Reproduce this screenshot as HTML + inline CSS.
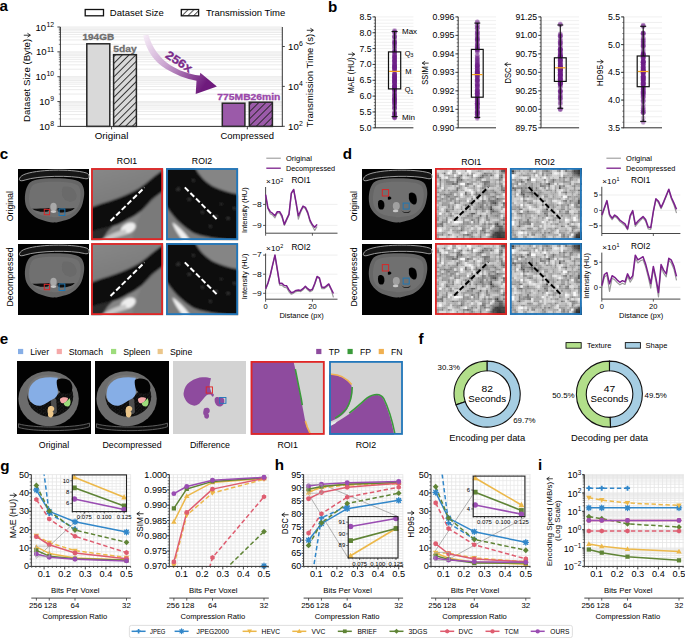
<!DOCTYPE html><html><head><meta charset="utf-8"><style>html,body{margin:0;padding:0;background:#fff;overflow:hidden}svg{display:block}text{font-family:"Liberation Sans",sans-serif}</style></head><body><svg width="685" height="638" viewBox="0 0 685 638" font-family="Liberation Sans, sans-serif"><defs>
<pattern id="hatchG" patternUnits="userSpaceOnUse" width="4.8" height="4.8" patternTransform="rotate(45)"><rect width="4.8" height="4.8" fill="#d9d9d9"/><line x1="0.5" y1="0" x2="0.5" y2="4.8" stroke="#222" stroke-width="0.9"/></pattern>
<pattern id="hatchP" patternUnits="userSpaceOnUse" width="5" height="5" patternTransform="rotate(45)"><rect width="5" height="5" fill="#9b5aa9"/><line x1="0.5" y1="0" x2="0.5" y2="5" stroke="#222" stroke-width="0.9"/></pattern>
<pattern id="hatchW" patternUnits="userSpaceOnUse" width="4.1" height="4.1" patternTransform="rotate(45)"><rect width="4.1" height="4.1" fill="#fff"/><line x1="0.5" y1="0" x2="0.5" y2="4.1" stroke="#222" stroke-width="0.8"/></pattern>
<linearGradient id="arrG" x1="0" y1="0" x2="1" y2="0.55"><stop offset="0" stop-color="#f7eef8"/><stop offset="0.45" stop-color="#c9a3cf"/><stop offset="1" stop-color="#6e1a7c"/></linearGradient>
</defs>
<text x="-0.5" y="11.4" font-size="15.2" font-weight="bold" textLength="8.45" lengthAdjust="spacingAndGlyphs">a</text>
<rect x="85.2" y="9.5" width="18.3" height="6.3" fill="#fff" stroke="#111" stroke-width="1.3"/>
<text x="109.8" y="16.2" font-size="8.6" textLength="54.07" lengthAdjust="spacingAndGlyphs">Dataset Size</text>
<rect x="181.3" y="9.5" width="17.3" height="6.3" fill="url(#hatchW)" stroke="#111" stroke-width="1.3"/>
<text x="205.9" y="16.2" font-size="8.6" textLength="79.34" lengthAdjust="spacingAndGlyphs">Transmission Time</text>
<line x1="60.4" y1="126.4" x2="282.3" y2="126.4" stroke="#e9e9e9" stroke-width="0.9"/>
<line x1="60.4" y1="118.92" x2="282.3" y2="118.92" stroke="#e9e9e9" stroke-width="0.9"/>
<line x1="60.4" y1="114.54" x2="282.3" y2="114.54" stroke="#e9e9e9" stroke-width="0.9"/>
<line x1="60.4" y1="111.44" x2="282.3" y2="111.44" stroke="#e9e9e9" stroke-width="0.9"/>
<line x1="60.4" y1="109.03" x2="282.3" y2="109.03" stroke="#e9e9e9" stroke-width="0.9"/>
<line x1="60.4" y1="107.06" x2="282.3" y2="107.06" stroke="#e9e9e9" stroke-width="0.9"/>
<line x1="60.4" y1="105.4" x2="282.3" y2="105.4" stroke="#e9e9e9" stroke-width="0.9"/>
<line x1="60.4" y1="103.96" x2="282.3" y2="103.96" stroke="#e9e9e9" stroke-width="0.9"/>
<line x1="60.4" y1="102.69" x2="282.3" y2="102.69" stroke="#e9e9e9" stroke-width="0.9"/>
<line x1="60.4" y1="101.55" x2="282.3" y2="101.55" stroke="#e9e9e9" stroke-width="0.9"/>
<line x1="60.4" y1="94.07" x2="282.3" y2="94.07" stroke="#e9e9e9" stroke-width="0.9"/>
<line x1="60.4" y1="89.69" x2="282.3" y2="89.69" stroke="#e9e9e9" stroke-width="0.9"/>
<line x1="60.4" y1="86.59" x2="282.3" y2="86.59" stroke="#e9e9e9" stroke-width="0.9"/>
<line x1="60.4" y1="84.18" x2="282.3" y2="84.18" stroke="#e9e9e9" stroke-width="0.9"/>
<line x1="60.4" y1="82.21" x2="282.3" y2="82.21" stroke="#e9e9e9" stroke-width="0.9"/>
<line x1="60.4" y1="80.55" x2="282.3" y2="80.55" stroke="#e9e9e9" stroke-width="0.9"/>
<line x1="60.4" y1="79.11" x2="282.3" y2="79.11" stroke="#e9e9e9" stroke-width="0.9"/>
<line x1="60.4" y1="77.84" x2="282.3" y2="77.84" stroke="#e9e9e9" stroke-width="0.9"/>
<line x1="60.4" y1="76.7" x2="282.3" y2="76.7" stroke="#e9e9e9" stroke-width="0.9"/>
<line x1="60.4" y1="69.22" x2="282.3" y2="69.22" stroke="#e9e9e9" stroke-width="0.9"/>
<line x1="60.4" y1="64.84" x2="282.3" y2="64.84" stroke="#e9e9e9" stroke-width="0.9"/>
<line x1="60.4" y1="61.74" x2="282.3" y2="61.74" stroke="#e9e9e9" stroke-width="0.9"/>
<line x1="60.4" y1="59.33" x2="282.3" y2="59.33" stroke="#e9e9e9" stroke-width="0.9"/>
<line x1="60.4" y1="57.36" x2="282.3" y2="57.36" stroke="#e9e9e9" stroke-width="0.9"/>
<line x1="60.4" y1="55.7" x2="282.3" y2="55.7" stroke="#e9e9e9" stroke-width="0.9"/>
<line x1="60.4" y1="54.26" x2="282.3" y2="54.26" stroke="#e9e9e9" stroke-width="0.9"/>
<line x1="60.4" y1="52.99" x2="282.3" y2="52.99" stroke="#e9e9e9" stroke-width="0.9"/>
<line x1="60.4" y1="51.85" x2="282.3" y2="51.85" stroke="#e9e9e9" stroke-width="0.9"/>
<line x1="60.4" y1="44.37" x2="282.3" y2="44.37" stroke="#e9e9e9" stroke-width="0.9"/>
<line x1="60.4" y1="39.99" x2="282.3" y2="39.99" stroke="#e9e9e9" stroke-width="0.9"/>
<line x1="60.4" y1="36.89" x2="282.3" y2="36.89" stroke="#e9e9e9" stroke-width="0.9"/>
<line x1="60.4" y1="34.48" x2="282.3" y2="34.48" stroke="#e9e9e9" stroke-width="0.9"/>
<line x1="60.4" y1="32.51" x2="282.3" y2="32.51" stroke="#e9e9e9" stroke-width="0.9"/>
<line x1="60.4" y1="30.85" x2="282.3" y2="30.85" stroke="#e9e9e9" stroke-width="0.9"/>
<line x1="60.4" y1="29.41" x2="282.3" y2="29.41" stroke="#e9e9e9" stroke-width="0.9"/>
<line x1="60.4" y1="28.14" x2="282.3" y2="28.14" stroke="#e9e9e9" stroke-width="0.9"/>
<line x1="60.4" y1="27" x2="282.3" y2="27" stroke="#e9e9e9" stroke-width="0.9"/>
<rect x="86.8" y="43.8" width="23" height="82.6" fill="#d9d9d9" stroke="#262626" stroke-width="1.5"/>
<rect x="113.6" y="54.7" width="22.8" height="71.7" fill="url(#hatchG)" stroke="#262626" stroke-width="1.5"/>
<rect x="222.3" y="103.2" width="22.6" height="23.2" fill="#9b5aa9" stroke="#262626" stroke-width="1.5"/>
<rect x="249.3" y="102.2" width="23.1" height="24.2" fill="url(#hatchP)" stroke="#262626" stroke-width="1.5"/>
<line x1="60.4" y1="27" x2="60.4" y2="126.4" stroke="#333" stroke-width="1"/>
<line x1="282.3" y1="27" x2="282.3" y2="126.4" stroke="#333" stroke-width="1"/>
<line x1="59.9" y1="126.4" x2="282.8" y2="126.4" stroke="#333" stroke-width="1"/>
<line x1="57.4" y1="126.4" x2="60.4" y2="126.4" stroke="#333" stroke-width="0.9"/>
<text x="39.28" y="129.9" font-size="9.6" textLength="10.68" lengthAdjust="spacingAndGlyphs">10</text>
<text x="50.26" y="126.06" font-size="6.9" textLength="3.84" lengthAdjust="spacingAndGlyphs">8</text>
<line x1="58.8" y1="118.92" x2="60.4" y2="118.92" stroke="#333" stroke-width="0.6"/>
<line x1="58.8" y1="114.54" x2="60.4" y2="114.54" stroke="#333" stroke-width="0.6"/>
<line x1="58.8" y1="111.44" x2="60.4" y2="111.44" stroke="#333" stroke-width="0.6"/>
<line x1="58.8" y1="109.03" x2="60.4" y2="109.03" stroke="#333" stroke-width="0.6"/>
<line x1="58.8" y1="107.06" x2="60.4" y2="107.06" stroke="#333" stroke-width="0.6"/>
<line x1="58.8" y1="105.4" x2="60.4" y2="105.4" stroke="#333" stroke-width="0.6"/>
<line x1="58.8" y1="103.96" x2="60.4" y2="103.96" stroke="#333" stroke-width="0.6"/>
<line x1="58.8" y1="102.69" x2="60.4" y2="102.69" stroke="#333" stroke-width="0.6"/>
<line x1="57.4" y1="101.55" x2="60.4" y2="101.55" stroke="#333" stroke-width="0.9"/>
<text x="39.28" y="105.05" font-size="9.6" textLength="10.68" lengthAdjust="spacingAndGlyphs">10</text>
<text x="50.26" y="101.21" font-size="6.9" textLength="3.84" lengthAdjust="spacingAndGlyphs">9</text>
<line x1="58.8" y1="94.07" x2="60.4" y2="94.07" stroke="#333" stroke-width="0.6"/>
<line x1="58.8" y1="89.69" x2="60.4" y2="89.69" stroke="#333" stroke-width="0.6"/>
<line x1="58.8" y1="86.59" x2="60.4" y2="86.59" stroke="#333" stroke-width="0.6"/>
<line x1="58.8" y1="84.18" x2="60.4" y2="84.18" stroke="#333" stroke-width="0.6"/>
<line x1="58.8" y1="82.21" x2="60.4" y2="82.21" stroke="#333" stroke-width="0.6"/>
<line x1="58.8" y1="80.55" x2="60.4" y2="80.55" stroke="#333" stroke-width="0.6"/>
<line x1="58.8" y1="79.11" x2="60.4" y2="79.11" stroke="#333" stroke-width="0.6"/>
<line x1="58.8" y1="77.84" x2="60.4" y2="77.84" stroke="#333" stroke-width="0.6"/>
<line x1="57.4" y1="76.7" x2="60.4" y2="76.7" stroke="#333" stroke-width="0.9"/>
<text x="35.45" y="80.2" font-size="9.6" textLength="10.68" lengthAdjust="spacingAndGlyphs">10</text>
<text x="46.43" y="76.36" font-size="6.9" textLength="7.67" lengthAdjust="spacingAndGlyphs">10</text>
<line x1="58.8" y1="69.22" x2="60.4" y2="69.22" stroke="#333" stroke-width="0.6"/>
<line x1="58.8" y1="64.84" x2="60.4" y2="64.84" stroke="#333" stroke-width="0.6"/>
<line x1="58.8" y1="61.74" x2="60.4" y2="61.74" stroke="#333" stroke-width="0.6"/>
<line x1="58.8" y1="59.33" x2="60.4" y2="59.33" stroke="#333" stroke-width="0.6"/>
<line x1="58.8" y1="57.36" x2="60.4" y2="57.36" stroke="#333" stroke-width="0.6"/>
<line x1="58.8" y1="55.7" x2="60.4" y2="55.7" stroke="#333" stroke-width="0.6"/>
<line x1="58.8" y1="54.26" x2="60.4" y2="54.26" stroke="#333" stroke-width="0.6"/>
<line x1="58.8" y1="52.99" x2="60.4" y2="52.99" stroke="#333" stroke-width="0.6"/>
<line x1="57.4" y1="51.85" x2="60.4" y2="51.85" stroke="#333" stroke-width="0.9"/>
<text x="35.96" y="55.35" font-size="9.6" textLength="10.68" lengthAdjust="spacingAndGlyphs">10</text>
<text x="46.94" y="51.51" font-size="6.9" textLength="7.16" lengthAdjust="spacingAndGlyphs">11</text>
<line x1="58.8" y1="44.37" x2="60.4" y2="44.37" stroke="#333" stroke-width="0.6"/>
<line x1="58.8" y1="39.99" x2="60.4" y2="39.99" stroke="#333" stroke-width="0.6"/>
<line x1="58.8" y1="36.89" x2="60.4" y2="36.89" stroke="#333" stroke-width="0.6"/>
<line x1="58.8" y1="34.48" x2="60.4" y2="34.48" stroke="#333" stroke-width="0.6"/>
<line x1="58.8" y1="32.51" x2="60.4" y2="32.51" stroke="#333" stroke-width="0.6"/>
<line x1="58.8" y1="30.85" x2="60.4" y2="30.85" stroke="#333" stroke-width="0.6"/>
<line x1="58.8" y1="29.41" x2="60.4" y2="29.41" stroke="#333" stroke-width="0.6"/>
<line x1="58.8" y1="28.14" x2="60.4" y2="28.14" stroke="#333" stroke-width="0.6"/>
<line x1="57.4" y1="27" x2="60.4" y2="27" stroke="#333" stroke-width="0.9"/>
<text x="35.45" y="30.5" font-size="9.6" textLength="10.68" lengthAdjust="spacingAndGlyphs">10</text>
<text x="46.43" y="26.66" font-size="6.9" textLength="7.67" lengthAdjust="spacingAndGlyphs">12</text>
<line x1="282.3" y1="126.3" x2="284.8" y2="126.3" stroke="#333" stroke-width="0.9"/>
<text x="288.1" y="129.8" font-size="9.6" textLength="10.68" lengthAdjust="spacingAndGlyphs">10</text>
<text x="299.08" y="125.96" font-size="6.9" textLength="3.84" lengthAdjust="spacingAndGlyphs">2</text>
<line x1="282.3" y1="86.4" x2="284.8" y2="86.4" stroke="#333" stroke-width="0.9"/>
<text x="288.1" y="89.9" font-size="9.6" textLength="10.68" lengthAdjust="spacingAndGlyphs">10</text>
<text x="299.08" y="86.06" font-size="6.9" textLength="3.84" lengthAdjust="spacingAndGlyphs">4</text>
<line x1="282.3" y1="46.5" x2="284.8" y2="46.5" stroke="#333" stroke-width="0.9"/>
<text x="288.1" y="50" font-size="9.6" textLength="10.68" lengthAdjust="spacingAndGlyphs">10</text>
<text x="299.08" y="46.16" font-size="6.9" textLength="3.84" lengthAdjust="spacingAndGlyphs">6</text>
<line x1="111.6" y1="126.4" x2="111.6" y2="129.4" stroke="#333" stroke-width="0.9"/>
<line x1="247.3" y1="126.4" x2="247.3" y2="129.4" stroke="#333" stroke-width="0.9"/>
<text x="94.77" y="139" font-size="8.6" textLength="33.65" lengthAdjust="spacingAndGlyphs">Original</text>
<text x="220.57" y="139" font-size="8.6" textLength="53.45" lengthAdjust="spacingAndGlyphs">Compressed</text>
<g transform="rotate(-90 30.2 76.8)"><text x="-14.98" y="76.8" font-size="8.6" textLength="83.16" lengthAdjust="spacingAndGlyphs">Dataset Size (Byte)</text><path d="M71.78,70.78V76.47 M70.06,74.39L71.78,76.97L73.5,74.39" fill="none" stroke="#000" stroke-width="0.77" stroke-linecap="round" stroke-linejoin="round"/></g>
<g transform="rotate(-90 313.2 76.9)"><text x="262.97" y="76.9" font-size="8.6" textLength="93.26" lengthAdjust="spacingAndGlyphs">Transmission Time (s)</text><path d="M359.83,70.88V76.57 M358.11,74.49L359.83,77.07L361.55,74.49" fill="none" stroke="#000" stroke-width="0.77" stroke-linecap="round" stroke-linejoin="round"/></g>
<text x="82.52" y="40.2" font-size="8.6" font-weight="bold" fill="#6e6e6e" textLength="31.57" lengthAdjust="spacingAndGlyphs" stroke="#6e6e6e" stroke-width="0.3">194GB</text>
<text x="113.36" y="51.9" font-size="8.6" font-weight="bold" fill="#6e6e6e" textLength="23.28" lengthAdjust="spacingAndGlyphs" stroke="#6e6e6e" stroke-width="0.3">5day</text>
<text x="217.37" y="99.5" font-size="8.6" font-weight="bold" fill="#9a48aa" textLength="63.06" lengthAdjust="spacingAndGlyphs" stroke="#9a48aa" stroke-width="0.3">775MB26min</text>
<path d="M143.1,35.6 C146,50 154,62 166,69 C176,75 186,79 196.5,80.8 L195.7,93.9 L216.9,86.6 L200.3,72.8 L199.8,75.6 C188,74 178,70 170,65 C160,58 152,48 148.4,34.8 Z" fill="url(#arrG)"/>
<g transform="rotate(33.4 164.6 57)"><text x="164.6" y="57" font-size="11.9" font-weight="bold" fill="#7a2a8a" textLength="29.24" lengthAdjust="spacingAndGlyphs" stroke="#7a2a8a" stroke-width="0.3">256x</text></g>
<text x="328" y="11.8" font-size="15.2" font-weight="bold" textLength="9.28" lengthAdjust="spacingAndGlyphs">b</text>
<line x1="375.3" y1="127.8" x2="413.4" y2="127.8" stroke="#ececec" stroke-width="0.8"/>
<line x1="375.3" y1="124.63" x2="413.4" y2="124.63" stroke="#ececec" stroke-width="0.8"/>
<line x1="375.3" y1="121.46" x2="413.4" y2="121.46" stroke="#ececec" stroke-width="0.8"/>
<line x1="375.3" y1="118.29" x2="413.4" y2="118.29" stroke="#ececec" stroke-width="0.8"/>
<line x1="375.3" y1="115.13" x2="413.4" y2="115.13" stroke="#ececec" stroke-width="0.8"/>
<line x1="375.3" y1="111.96" x2="413.4" y2="111.96" stroke="#ececec" stroke-width="0.8"/>
<line x1="375.3" y1="108.79" x2="413.4" y2="108.79" stroke="#ececec" stroke-width="0.8"/>
<line x1="375.3" y1="105.62" x2="413.4" y2="105.62" stroke="#ececec" stroke-width="0.8"/>
<line x1="375.3" y1="102.45" x2="413.4" y2="102.45" stroke="#ececec" stroke-width="0.8"/>
<line x1="375.3" y1="99.28" x2="413.4" y2="99.28" stroke="#ececec" stroke-width="0.8"/>
<line x1="375.3" y1="96.11" x2="413.4" y2="96.11" stroke="#ececec" stroke-width="0.8"/>
<line x1="375.3" y1="92.95" x2="413.4" y2="92.95" stroke="#ececec" stroke-width="0.8"/>
<line x1="375.3" y1="89.78" x2="413.4" y2="89.78" stroke="#ececec" stroke-width="0.8"/>
<line x1="375.3" y1="86.61" x2="413.4" y2="86.61" stroke="#ececec" stroke-width="0.8"/>
<line x1="375.3" y1="83.44" x2="413.4" y2="83.44" stroke="#ececec" stroke-width="0.8"/>
<line x1="375.3" y1="80.27" x2="413.4" y2="80.27" stroke="#ececec" stroke-width="0.8"/>
<line x1="375.3" y1="77.1" x2="413.4" y2="77.1" stroke="#ececec" stroke-width="0.8"/>
<line x1="375.3" y1="73.93" x2="413.4" y2="73.93" stroke="#ececec" stroke-width="0.8"/>
<line x1="375.3" y1="70.77" x2="413.4" y2="70.77" stroke="#ececec" stroke-width="0.8"/>
<line x1="375.3" y1="67.6" x2="413.4" y2="67.6" stroke="#ececec" stroke-width="0.8"/>
<line x1="375.3" y1="64.43" x2="413.4" y2="64.43" stroke="#ececec" stroke-width="0.8"/>
<line x1="375.3" y1="61.26" x2="413.4" y2="61.26" stroke="#ececec" stroke-width="0.8"/>
<line x1="375.3" y1="58.09" x2="413.4" y2="58.09" stroke="#ececec" stroke-width="0.8"/>
<line x1="375.3" y1="54.92" x2="413.4" y2="54.92" stroke="#ececec" stroke-width="0.8"/>
<line x1="375.3" y1="51.75" x2="413.4" y2="51.75" stroke="#ececec" stroke-width="0.8"/>
<line x1="375.3" y1="48.59" x2="413.4" y2="48.59" stroke="#ececec" stroke-width="0.8"/>
<line x1="375.3" y1="45.42" x2="413.4" y2="45.42" stroke="#ececec" stroke-width="0.8"/>
<line x1="375.3" y1="42.25" x2="413.4" y2="42.25" stroke="#ececec" stroke-width="0.8"/>
<line x1="375.3" y1="39.08" x2="413.4" y2="39.08" stroke="#ececec" stroke-width="0.8"/>
<line x1="375.3" y1="35.91" x2="413.4" y2="35.91" stroke="#ececec" stroke-width="0.8"/>
<line x1="375.3" y1="32.74" x2="413.4" y2="32.74" stroke="#ececec" stroke-width="0.8"/>
<line x1="375.3" y1="29.57" x2="413.4" y2="29.57" stroke="#ececec" stroke-width="0.8"/>
<line x1="375.3" y1="26.41" x2="413.4" y2="26.41" stroke="#ececec" stroke-width="0.8"/>
<line x1="375.3" y1="23.24" x2="413.4" y2="23.24" stroke="#ececec" stroke-width="0.8"/>
<line x1="375.3" y1="20.07" x2="413.4" y2="20.07" stroke="#ececec" stroke-width="0.8"/>
<line x1="375.3" y1="16.9" x2="413.4" y2="16.9" stroke="#ececec" stroke-width="0.8"/>
<line x1="375.3" y1="16.9" x2="375.3" y2="127.8" stroke="#333" stroke-width="1"/>
<line x1="374.8" y1="127.8" x2="413.4" y2="127.8" stroke="#333" stroke-width="1"/>
<line x1="373.8" y1="127.8" x2="375.3" y2="127.8" stroke="#333" stroke-width="0.6"/>
<line x1="373.8" y1="124.63" x2="375.3" y2="124.63" stroke="#333" stroke-width="0.6"/>
<line x1="373.8" y1="121.46" x2="375.3" y2="121.46" stroke="#333" stroke-width="0.6"/>
<line x1="373.8" y1="118.29" x2="375.3" y2="118.29" stroke="#333" stroke-width="0.6"/>
<line x1="373.8" y1="115.13" x2="375.3" y2="115.13" stroke="#333" stroke-width="0.6"/>
<line x1="373.8" y1="111.96" x2="375.3" y2="111.96" stroke="#333" stroke-width="0.6"/>
<line x1="373.8" y1="108.79" x2="375.3" y2="108.79" stroke="#333" stroke-width="0.6"/>
<line x1="373.8" y1="105.62" x2="375.3" y2="105.62" stroke="#333" stroke-width="0.6"/>
<line x1="373.8" y1="102.45" x2="375.3" y2="102.45" stroke="#333" stroke-width="0.6"/>
<line x1="373.8" y1="99.28" x2="375.3" y2="99.28" stroke="#333" stroke-width="0.6"/>
<line x1="373.8" y1="96.11" x2="375.3" y2="96.11" stroke="#333" stroke-width="0.6"/>
<line x1="373.8" y1="92.95" x2="375.3" y2="92.95" stroke="#333" stroke-width="0.6"/>
<line x1="373.8" y1="89.78" x2="375.3" y2="89.78" stroke="#333" stroke-width="0.6"/>
<line x1="373.8" y1="86.61" x2="375.3" y2="86.61" stroke="#333" stroke-width="0.6"/>
<line x1="373.8" y1="83.44" x2="375.3" y2="83.44" stroke="#333" stroke-width="0.6"/>
<line x1="373.8" y1="80.27" x2="375.3" y2="80.27" stroke="#333" stroke-width="0.6"/>
<line x1="373.8" y1="77.1" x2="375.3" y2="77.1" stroke="#333" stroke-width="0.6"/>
<line x1="373.8" y1="73.93" x2="375.3" y2="73.93" stroke="#333" stroke-width="0.6"/>
<line x1="373.8" y1="70.77" x2="375.3" y2="70.77" stroke="#333" stroke-width="0.6"/>
<line x1="373.8" y1="67.6" x2="375.3" y2="67.6" stroke="#333" stroke-width="0.6"/>
<line x1="373.8" y1="64.43" x2="375.3" y2="64.43" stroke="#333" stroke-width="0.6"/>
<line x1="373.8" y1="61.26" x2="375.3" y2="61.26" stroke="#333" stroke-width="0.6"/>
<line x1="373.8" y1="58.09" x2="375.3" y2="58.09" stroke="#333" stroke-width="0.6"/>
<line x1="373.8" y1="54.92" x2="375.3" y2="54.92" stroke="#333" stroke-width="0.6"/>
<line x1="373.8" y1="51.75" x2="375.3" y2="51.75" stroke="#333" stroke-width="0.6"/>
<line x1="373.8" y1="48.59" x2="375.3" y2="48.59" stroke="#333" stroke-width="0.6"/>
<line x1="373.8" y1="45.42" x2="375.3" y2="45.42" stroke="#333" stroke-width="0.6"/>
<line x1="373.8" y1="42.25" x2="375.3" y2="42.25" stroke="#333" stroke-width="0.6"/>
<line x1="373.8" y1="39.08" x2="375.3" y2="39.08" stroke="#333" stroke-width="0.6"/>
<line x1="373.8" y1="35.91" x2="375.3" y2="35.91" stroke="#333" stroke-width="0.6"/>
<line x1="373.8" y1="32.74" x2="375.3" y2="32.74" stroke="#333" stroke-width="0.6"/>
<line x1="373.8" y1="29.57" x2="375.3" y2="29.57" stroke="#333" stroke-width="0.6"/>
<line x1="373.8" y1="26.41" x2="375.3" y2="26.41" stroke="#333" stroke-width="0.6"/>
<line x1="373.8" y1="23.24" x2="375.3" y2="23.24" stroke="#333" stroke-width="0.6"/>
<line x1="373.8" y1="20.07" x2="375.3" y2="20.07" stroke="#333" stroke-width="0.6"/>
<line x1="373.8" y1="16.9" x2="375.3" y2="16.9" stroke="#333" stroke-width="0.6"/>
<line x1="372.5" y1="127.8" x2="375.3" y2="127.8" stroke="#333" stroke-width="0.9"/>
<text x="359.41" y="130.85" font-size="8.5" textLength="12.09" lengthAdjust="spacingAndGlyphs">5.0</text>
<line x1="372.5" y1="111.96" x2="375.3" y2="111.96" stroke="#333" stroke-width="0.9"/>
<text x="359.41" y="115.01" font-size="8.5" textLength="12.09" lengthAdjust="spacingAndGlyphs">5.5</text>
<line x1="372.5" y1="96.11" x2="375.3" y2="96.11" stroke="#333" stroke-width="0.9"/>
<text x="359.41" y="99.16" font-size="8.5" textLength="12.09" lengthAdjust="spacingAndGlyphs">6.0</text>
<line x1="372.5" y1="80.27" x2="375.3" y2="80.27" stroke="#333" stroke-width="0.9"/>
<text x="359.41" y="83.32" font-size="8.5" textLength="12.09" lengthAdjust="spacingAndGlyphs">6.5</text>
<line x1="372.5" y1="64.43" x2="375.3" y2="64.43" stroke="#333" stroke-width="0.9"/>
<text x="359.41" y="67.48" font-size="8.5" textLength="12.09" lengthAdjust="spacingAndGlyphs">7.0</text>
<line x1="372.5" y1="48.59" x2="375.3" y2="48.59" stroke="#333" stroke-width="0.9"/>
<text x="359.41" y="51.64" font-size="8.5" textLength="12.09" lengthAdjust="spacingAndGlyphs">7.5</text>
<line x1="372.5" y1="32.74" x2="375.3" y2="32.74" stroke="#333" stroke-width="0.9"/>
<text x="359.41" y="35.79" font-size="8.5" textLength="12.09" lengthAdjust="spacingAndGlyphs">8.0</text>
<line x1="372.5" y1="16.9" x2="375.3" y2="16.9" stroke="#333" stroke-width="0.9"/>
<text x="359.41" y="19.95" font-size="8.5" textLength="12.09" lengthAdjust="spacingAndGlyphs">8.5</text>
<g fill="#6e1f88" fill-opacity="0.3"><circle cx="394.6" cy="62.83" r="2.4"/><circle cx="394.6" cy="85.54" r="2.4"/><circle cx="394.6" cy="63.71" r="2.4"/><circle cx="394.6" cy="61.07" r="2.4"/><circle cx="394.6" cy="42.87" r="2.4"/><circle cx="394.6" cy="64.09" r="2.4"/><circle cx="394.6" cy="103.31" r="2.4"/><circle cx="394.6" cy="82.95" r="2.4"/><circle cx="394.6" cy="101.09" r="2.4"/><circle cx="394.6" cy="77.77" r="2.4"/><circle cx="394.6" cy="82.09" r="2.4"/><circle cx="394.6" cy="75.89" r="2.4"/><circle cx="394.6" cy="95.72" r="2.4"/><circle cx="394.6" cy="85.39" r="2.4"/><circle cx="394.6" cy="85.17" r="2.4"/><circle cx="394.6" cy="44.07" r="2.4"/><circle cx="394.6" cy="56.54" r="2.4"/><circle cx="394.6" cy="79.44" r="2.4"/><circle cx="394.6" cy="69.04" r="2.4"/><circle cx="394.6" cy="85.82" r="2.4"/><circle cx="394.6" cy="51.39" r="2.4"/><circle cx="394.6" cy="79.54" r="2.4"/><circle cx="394.6" cy="82.07" r="2.4"/><circle cx="394.6" cy="50.83" r="2.4"/><circle cx="394.6" cy="86.88" r="2.4"/><circle cx="394.6" cy="105.83" r="2.4"/><circle cx="394.6" cy="52.04" r="2.4"/><circle cx="394.6" cy="48.51" r="2.4"/><circle cx="394.6" cy="60.22" r="2.4"/><circle cx="394.6" cy="67.25" r="2.4"/><circle cx="394.6" cy="89.11" r="2.4"/><circle cx="394.6" cy="77.75" r="2.4"/><circle cx="394.6" cy="57.16" r="2.4"/><circle cx="394.6" cy="42.08" r="2.4"/><circle cx="394.6" cy="54.99" r="2.4"/><circle cx="394.6" cy="106.54" r="2.4"/><circle cx="394.6" cy="46.48" r="2.4"/><circle cx="394.6" cy="77.64" r="2.4"/><circle cx="394.6" cy="83.02" r="2.4"/><circle cx="394.6" cy="71.83" r="2.4"/><circle cx="394.6" cy="109.06" r="2.4"/><circle cx="394.6" cy="60.88" r="2.4"/><circle cx="394.6" cy="67.26" r="2.4"/><circle cx="394.6" cy="46.21" r="2.4"/><circle cx="394.6" cy="85.12" r="2.4"/><circle cx="394.6" cy="68.56" r="2.4"/><circle cx="394.6" cy="94.9" r="2.4"/><circle cx="394.6" cy="90.21" r="2.4"/><circle cx="394.6" cy="98.4" r="2.4"/><circle cx="394.6" cy="113.04" r="2.4"/><circle cx="394.6" cy="81.12" r="2.4"/><circle cx="394.6" cy="73.93" r="2.4"/><circle cx="394.6" cy="31.94" r="2.4"/><circle cx="394.6" cy="88.62" r="2.4"/><circle cx="394.6" cy="52.29" r="2.4"/><circle cx="394.6" cy="57" r="2.4"/><circle cx="394.6" cy="32.96" r="2.4"/><circle cx="394.6" cy="41.76" r="2.4"/><circle cx="394.6" cy="54.68" r="2.4"/><circle cx="394.6" cy="108.55" r="2.4"/><circle cx="394.6" cy="77.48" r="2.4"/><circle cx="394.6" cy="113.12" r="2.4"/><circle cx="394.6" cy="87.52" r="2.4"/><circle cx="394.6" cy="80.98" r="2.4"/><circle cx="394.6" cy="48.61" r="2.4"/><circle cx="394.6" cy="37.25" r="2.4"/><circle cx="394.6" cy="99.33" r="2.4"/><circle cx="394.6" cy="103.01" r="2.4"/><circle cx="394.6" cy="75.05" r="2.4"/><circle cx="394.6" cy="77.67" r="2.4"/><circle cx="394.6" cy="83.26" r="2.4"/><circle cx="394.6" cy="117.58" r="2.4"/><circle cx="394.6" cy="88.72" r="2.4"/><circle cx="394.6" cy="85.75" r="2.4"/><circle cx="394.6" cy="86.61" r="2.4"/><circle cx="394.6" cy="108.34" r="2.4"/><circle cx="394.6" cy="98.67" r="2.4"/><circle cx="394.6" cy="86.08" r="2.4"/><circle cx="394.6" cy="51.64" r="2.4"/><circle cx="394.6" cy="95.33" r="2.4"/><circle cx="394.6" cy="64.95" r="2.4"/><circle cx="394.6" cy="100.58" r="2.4"/><circle cx="394.6" cy="31.59" r="2.4"/><circle cx="394.6" cy="118.06" r="2.4"/><circle cx="394.6" cy="86.74" r="2.4"/><circle cx="394.6" cy="65.96" r="2.4"/><circle cx="394.6" cy="80.02" r="2.4"/><circle cx="394.6" cy="89.63" r="2.4"/><circle cx="394.6" cy="73.96" r="2.4"/><circle cx="394.6" cy="104.31" r="2.4"/><circle cx="394.6" cy="50.82" r="2.4"/><circle cx="394.6" cy="58.12" r="2.4"/><circle cx="394.6" cy="101.23" r="2.4"/><circle cx="394.6" cy="71.19" r="2.4"/><circle cx="394.6" cy="44.34" r="2.4"/><circle cx="394.6" cy="98.42" r="2.4"/><circle cx="394.6" cy="113.78" r="2.4"/><circle cx="394.6" cy="57.23" r="2.4"/><circle cx="394.6" cy="66.41" r="2.4"/><circle cx="394.6" cy="65.99" r="2.4"/><circle cx="394.6" cy="61.58" r="2.4"/><circle cx="394.6" cy="111.98" r="2.4"/><circle cx="394.6" cy="40" r="2.4"/><circle cx="394.6" cy="107.71" r="2.4"/><circle cx="394.6" cy="32.86" r="2.4"/><circle cx="394.6" cy="47.1" r="2.4"/><circle cx="394.6" cy="89.09" r="2.4"/><circle cx="394.6" cy="103.81" r="2.4"/><circle cx="394.6" cy="95.83" r="2.4"/><circle cx="394.6" cy="80.62" r="2.4"/><circle cx="394.6" cy="74.61" r="2.4"/><circle cx="394.6" cy="74.91" r="2.4"/><circle cx="394.6" cy="87.43" r="2.4"/><circle cx="394.6" cy="65.18" r="2.4"/><circle cx="394.6" cy="78.61" r="2.4"/><circle cx="394.6" cy="87.35" r="2.4"/><circle cx="394.6" cy="70.42" r="2.4"/><circle cx="394.6" cy="93.01" r="2.4"/><circle cx="394.6" cy="87.15" r="2.4"/><circle cx="394.6" cy="80.02" r="2.4"/><circle cx="394.6" cy="57.74" r="2.4"/><circle cx="394.6" cy="59.37" r="2.4"/><circle cx="394.6" cy="70.01" r="2.4"/><circle cx="394.6" cy="97.74" r="2.4"/><circle cx="394.6" cy="60.44" r="2.4"/><circle cx="394.6" cy="81.82" r="2.4"/><circle cx="394.6" cy="37.13" r="2.4"/><circle cx="394.6" cy="77.62" r="2.4"/><circle cx="394.6" cy="82.19" r="2.4"/><circle cx="394.6" cy="77.46" r="2.4"/><circle cx="394.6" cy="57.64" r="2.4"/><circle cx="394.6" cy="89.79" r="2.4"/><circle cx="394.6" cy="78.75" r="2.4"/><circle cx="394.6" cy="54.95" r="2.4"/><circle cx="394.6" cy="80.91" r="2.4"/><circle cx="394.6" cy="53.99" r="2.4"/><circle cx="394.6" cy="67.46" r="2.4"/><circle cx="394.6" cy="63.72" r="2.4"/><circle cx="394.6" cy="68.54" r="2.4"/><circle cx="394.6" cy="55.99" r="2.4"/><circle cx="394.6" cy="100.25" r="2.4"/><circle cx="394.6" cy="35.81" r="2.4"/><circle cx="394.6" cy="68.43" r="2.4"/><circle cx="394.6" cy="98.62" r="2.4"/><circle cx="394.6" cy="95.74" r="2.4"/><circle cx="394.6" cy="114.54" r="2.4"/><circle cx="394.6" cy="59.94" r="2.4"/><circle cx="394.6" cy="60.31" r="2.4"/><circle cx="394.6" cy="88.85" r="2.4"/><circle cx="394.6" cy="102.72" r="2.4"/><circle cx="394.6" cy="102.62" r="2.4"/><circle cx="394.6" cy="90.62" r="2.4"/><circle cx="394.6" cy="75.61" r="2.4"/><circle cx="394.6" cy="105.76" r="2.4"/><circle cx="394.6" cy="65.98" r="2.4"/><circle cx="394.6" cy="76.06" r="2.4"/><circle cx="394.6" cy="93.99" r="2.4"/><circle cx="394.6" cy="74.58" r="2.4"/><circle cx="394.6" cy="67.78" r="2.4"/><circle cx="394.6" cy="115.78" r="2.4"/><circle cx="394.6" cy="101.43" r="2.4"/><circle cx="394.6" cy="61.7" r="2.4"/><circle cx="394.6" cy="36.45" r="2.4"/><circle cx="394.6" cy="97.47" r="2.4"/><circle cx="394.6" cy="62.53" r="2.4"/><circle cx="394.6" cy="74.32" r="2.4"/><circle cx="394.6" cy="91.27" r="2.4"/><circle cx="394.6" cy="76.98" r="2.4"/><circle cx="394.6" cy="89.3" r="2.4"/><circle cx="394.6" cy="88.6" r="2.4"/><circle cx="394.6" cy="41.89" r="2.4"/><circle cx="394.6" cy="40.01" r="2.4"/><circle cx="394.6" cy="107.88" r="2.4"/><circle cx="394.6" cy="92.5" r="2.4"/><circle cx="394.6" cy="114" r="2.4"/><circle cx="394.6" cy="42.64" r="2.4"/><circle cx="394.6" cy="70.43" r="2.4"/><circle cx="394.6" cy="36.65" r="2.4"/><circle cx="394.6" cy="93.07" r="2.4"/><circle cx="394.6" cy="117.45" r="2.4"/><circle cx="394.6" cy="44.05" r="2.4"/><circle cx="394.6" cy="116.59" r="2.4"/><circle cx="394.6" cy="99.65" r="2.4"/><circle cx="394.6" cy="65.14" r="2.4"/><circle cx="394.6" cy="112.04" r="2.4"/><circle cx="394.6" cy="67.55" r="2.4"/><circle cx="394.6" cy="52.56" r="2.4"/><circle cx="394.6" cy="82.23" r="2.4"/><circle cx="394.6" cy="82.53" r="2.4"/><circle cx="394.6" cy="114.74" r="2.4"/><circle cx="394.6" cy="30.3" r="2.4"/><circle cx="394.6" cy="31.5" r="2.4"/><circle cx="394.6" cy="116.6" r="2.4"/><circle cx="394.6" cy="117.8" r="2.4"/></g>
<line x1="394.6" y1="31.5" x2="394.6" y2="51.9" stroke="#111" stroke-width="1.1"/>
<line x1="394.6" y1="88.9" x2="394.6" y2="116.6" stroke="#111" stroke-width="1.1"/>
<line x1="391.55" y1="31.5" x2="397.65" y2="31.5" stroke="#111" stroke-width="1.1"/>
<line x1="391.55" y1="116.6" x2="397.65" y2="116.6" stroke="#111" stroke-width="1.1"/>
<rect x="388.5" y="51.9" width="12.2" height="37" fill="none" stroke="#111" stroke-width="1.2"/>
<line x1="389.1" y1="71.4" x2="400.1" y2="71.4" stroke="#f5a21b" stroke-width="1.2"/>
<g transform="rotate(-90 354.5 72.35)"><text x="333.23" y="72.35" font-size="8.4" textLength="36.18" lengthAdjust="spacingAndGlyphs">MAE (HU)</text><path d="M372.59,66.47V72.02 M370.91,70L372.59,72.52L374.27,70" fill="none" stroke="#000" stroke-width="0.76" stroke-linecap="round" stroke-linejoin="round"/></g>
<line x1="458.2" y1="127.8" x2="496" y2="127.8" stroke="#ececec" stroke-width="0.8"/>
<line x1="458.2" y1="124.1" x2="496" y2="124.1" stroke="#ececec" stroke-width="0.8"/>
<line x1="458.2" y1="120.41" x2="496" y2="120.41" stroke="#ececec" stroke-width="0.8"/>
<line x1="458.2" y1="116.71" x2="496" y2="116.71" stroke="#ececec" stroke-width="0.8"/>
<line x1="458.2" y1="113.01" x2="496" y2="113.01" stroke="#ececec" stroke-width="0.8"/>
<line x1="458.2" y1="109.32" x2="496" y2="109.32" stroke="#ececec" stroke-width="0.8"/>
<line x1="458.2" y1="105.62" x2="496" y2="105.62" stroke="#ececec" stroke-width="0.8"/>
<line x1="458.2" y1="101.92" x2="496" y2="101.92" stroke="#ececec" stroke-width="0.8"/>
<line x1="458.2" y1="98.23" x2="496" y2="98.23" stroke="#ececec" stroke-width="0.8"/>
<line x1="458.2" y1="94.53" x2="496" y2="94.53" stroke="#ececec" stroke-width="0.8"/>
<line x1="458.2" y1="90.83" x2="496" y2="90.83" stroke="#ececec" stroke-width="0.8"/>
<line x1="458.2" y1="87.14" x2="496" y2="87.14" stroke="#ececec" stroke-width="0.8"/>
<line x1="458.2" y1="83.44" x2="496" y2="83.44" stroke="#ececec" stroke-width="0.8"/>
<line x1="458.2" y1="79.74" x2="496" y2="79.74" stroke="#ececec" stroke-width="0.8"/>
<line x1="458.2" y1="76.05" x2="496" y2="76.05" stroke="#ececec" stroke-width="0.8"/>
<line x1="458.2" y1="72.35" x2="496" y2="72.35" stroke="#ececec" stroke-width="0.8"/>
<line x1="458.2" y1="68.65" x2="496" y2="68.65" stroke="#ececec" stroke-width="0.8"/>
<line x1="458.2" y1="64.96" x2="496" y2="64.96" stroke="#ececec" stroke-width="0.8"/>
<line x1="458.2" y1="61.26" x2="496" y2="61.26" stroke="#ececec" stroke-width="0.8"/>
<line x1="458.2" y1="57.56" x2="496" y2="57.56" stroke="#ececec" stroke-width="0.8"/>
<line x1="458.2" y1="53.87" x2="496" y2="53.87" stroke="#ececec" stroke-width="0.8"/>
<line x1="458.2" y1="50.17" x2="496" y2="50.17" stroke="#ececec" stroke-width="0.8"/>
<line x1="458.2" y1="46.47" x2="496" y2="46.47" stroke="#ececec" stroke-width="0.8"/>
<line x1="458.2" y1="42.78" x2="496" y2="42.78" stroke="#ececec" stroke-width="0.8"/>
<line x1="458.2" y1="39.08" x2="496" y2="39.08" stroke="#ececec" stroke-width="0.8"/>
<line x1="458.2" y1="35.38" x2="496" y2="35.38" stroke="#ececec" stroke-width="0.8"/>
<line x1="458.2" y1="31.69" x2="496" y2="31.69" stroke="#ececec" stroke-width="0.8"/>
<line x1="458.2" y1="27.99" x2="496" y2="27.99" stroke="#ececec" stroke-width="0.8"/>
<line x1="458.2" y1="24.29" x2="496" y2="24.29" stroke="#ececec" stroke-width="0.8"/>
<line x1="458.2" y1="20.6" x2="496" y2="20.6" stroke="#ececec" stroke-width="0.8"/>
<line x1="458.2" y1="16.9" x2="496" y2="16.9" stroke="#ececec" stroke-width="0.8"/>
<line x1="458.2" y1="16.9" x2="458.2" y2="127.8" stroke="#333" stroke-width="1"/>
<line x1="457.7" y1="127.8" x2="496" y2="127.8" stroke="#333" stroke-width="1"/>
<line x1="456.7" y1="127.8" x2="458.2" y2="127.8" stroke="#333" stroke-width="0.6"/>
<line x1="456.7" y1="124.1" x2="458.2" y2="124.1" stroke="#333" stroke-width="0.6"/>
<line x1="456.7" y1="120.41" x2="458.2" y2="120.41" stroke="#333" stroke-width="0.6"/>
<line x1="456.7" y1="116.71" x2="458.2" y2="116.71" stroke="#333" stroke-width="0.6"/>
<line x1="456.7" y1="113.01" x2="458.2" y2="113.01" stroke="#333" stroke-width="0.6"/>
<line x1="456.7" y1="109.32" x2="458.2" y2="109.32" stroke="#333" stroke-width="0.6"/>
<line x1="456.7" y1="105.62" x2="458.2" y2="105.62" stroke="#333" stroke-width="0.6"/>
<line x1="456.7" y1="101.92" x2="458.2" y2="101.92" stroke="#333" stroke-width="0.6"/>
<line x1="456.7" y1="98.23" x2="458.2" y2="98.23" stroke="#333" stroke-width="0.6"/>
<line x1="456.7" y1="94.53" x2="458.2" y2="94.53" stroke="#333" stroke-width="0.6"/>
<line x1="456.7" y1="90.83" x2="458.2" y2="90.83" stroke="#333" stroke-width="0.6"/>
<line x1="456.7" y1="87.14" x2="458.2" y2="87.14" stroke="#333" stroke-width="0.6"/>
<line x1="456.7" y1="83.44" x2="458.2" y2="83.44" stroke="#333" stroke-width="0.6"/>
<line x1="456.7" y1="79.74" x2="458.2" y2="79.74" stroke="#333" stroke-width="0.6"/>
<line x1="456.7" y1="76.05" x2="458.2" y2="76.05" stroke="#333" stroke-width="0.6"/>
<line x1="456.7" y1="72.35" x2="458.2" y2="72.35" stroke="#333" stroke-width="0.6"/>
<line x1="456.7" y1="68.65" x2="458.2" y2="68.65" stroke="#333" stroke-width="0.6"/>
<line x1="456.7" y1="64.96" x2="458.2" y2="64.96" stroke="#333" stroke-width="0.6"/>
<line x1="456.7" y1="61.26" x2="458.2" y2="61.26" stroke="#333" stroke-width="0.6"/>
<line x1="456.7" y1="57.56" x2="458.2" y2="57.56" stroke="#333" stroke-width="0.6"/>
<line x1="456.7" y1="53.87" x2="458.2" y2="53.87" stroke="#333" stroke-width="0.6"/>
<line x1="456.7" y1="50.17" x2="458.2" y2="50.17" stroke="#333" stroke-width="0.6"/>
<line x1="456.7" y1="46.47" x2="458.2" y2="46.47" stroke="#333" stroke-width="0.6"/>
<line x1="456.7" y1="42.78" x2="458.2" y2="42.78" stroke="#333" stroke-width="0.6"/>
<line x1="456.7" y1="39.08" x2="458.2" y2="39.08" stroke="#333" stroke-width="0.6"/>
<line x1="456.7" y1="35.38" x2="458.2" y2="35.38" stroke="#333" stroke-width="0.6"/>
<line x1="456.7" y1="31.69" x2="458.2" y2="31.69" stroke="#333" stroke-width="0.6"/>
<line x1="456.7" y1="27.99" x2="458.2" y2="27.99" stroke="#333" stroke-width="0.6"/>
<line x1="456.7" y1="24.29" x2="458.2" y2="24.29" stroke="#333" stroke-width="0.6"/>
<line x1="456.7" y1="20.6" x2="458.2" y2="20.6" stroke="#333" stroke-width="0.6"/>
<line x1="456.7" y1="16.9" x2="458.2" y2="16.9" stroke="#333" stroke-width="0.6"/>
<line x1="455.4" y1="127.8" x2="458.2" y2="127.8" stroke="#333" stroke-width="0.9"/>
<text x="432.64" y="130.85" font-size="8.5" textLength="21.76" lengthAdjust="spacingAndGlyphs">0.990</text>
<line x1="455.4" y1="109.32" x2="458.2" y2="109.32" stroke="#333" stroke-width="0.9"/>
<text x="432.64" y="112.37" font-size="8.5" textLength="21.76" lengthAdjust="spacingAndGlyphs">0.991</text>
<line x1="455.4" y1="90.83" x2="458.2" y2="90.83" stroke="#333" stroke-width="0.9"/>
<text x="432.64" y="93.88" font-size="8.5" textLength="21.76" lengthAdjust="spacingAndGlyphs">0.992</text>
<line x1="455.4" y1="72.35" x2="458.2" y2="72.35" stroke="#333" stroke-width="0.9"/>
<text x="432.64" y="75.4" font-size="8.5" textLength="21.76" lengthAdjust="spacingAndGlyphs">0.993</text>
<line x1="455.4" y1="53.87" x2="458.2" y2="53.87" stroke="#333" stroke-width="0.9"/>
<text x="432.64" y="56.92" font-size="8.5" textLength="21.76" lengthAdjust="spacingAndGlyphs">0.994</text>
<line x1="455.4" y1="35.38" x2="458.2" y2="35.38" stroke="#333" stroke-width="0.9"/>
<text x="432.64" y="38.43" font-size="8.5" textLength="21.76" lengthAdjust="spacingAndGlyphs">0.995</text>
<line x1="455.4" y1="16.9" x2="458.2" y2="16.9" stroke="#333" stroke-width="0.9"/>
<text x="432.64" y="19.95" font-size="8.5" textLength="21.76" lengthAdjust="spacingAndGlyphs">0.996</text>
<g fill="#6e1f88" fill-opacity="0.3"><circle cx="477.3" cy="34.29" r="2.4"/><circle cx="477.3" cy="116.75" r="2.4"/><circle cx="477.3" cy="66.39" r="2.4"/><circle cx="477.3" cy="44.85" r="2.4"/><circle cx="477.3" cy="112.25" r="2.4"/><circle cx="477.3" cy="77.7" r="2.4"/><circle cx="477.3" cy="78.05" r="2.4"/><circle cx="477.3" cy="63.23" r="2.4"/><circle cx="477.3" cy="58.49" r="2.4"/><circle cx="477.3" cy="104.61" r="2.4"/><circle cx="477.3" cy="85.42" r="2.4"/><circle cx="477.3" cy="49.93" r="2.4"/><circle cx="477.3" cy="72.93" r="2.4"/><circle cx="477.3" cy="105.14" r="2.4"/><circle cx="477.3" cy="76.32" r="2.4"/><circle cx="477.3" cy="70.96" r="2.4"/><circle cx="477.3" cy="113.08" r="2.4"/><circle cx="477.3" cy="47.61" r="2.4"/><circle cx="477.3" cy="106.95" r="2.4"/><circle cx="477.3" cy="31.87" r="2.4"/><circle cx="477.3" cy="114.18" r="2.4"/><circle cx="477.3" cy="26.19" r="2.4"/><circle cx="477.3" cy="72.81" r="2.4"/><circle cx="477.3" cy="65.95" r="2.4"/><circle cx="477.3" cy="72.21" r="2.4"/><circle cx="477.3" cy="50.68" r="2.4"/><circle cx="477.3" cy="82.24" r="2.4"/><circle cx="477.3" cy="74.99" r="2.4"/><circle cx="477.3" cy="93.6" r="2.4"/><circle cx="477.3" cy="111.56" r="2.4"/><circle cx="477.3" cy="65.73" r="2.4"/><circle cx="477.3" cy="25.13" r="2.4"/><circle cx="477.3" cy="52.06" r="2.4"/><circle cx="477.3" cy="114.35" r="2.4"/><circle cx="477.3" cy="50.44" r="2.4"/><circle cx="477.3" cy="111.82" r="2.4"/><circle cx="477.3" cy="103.61" r="2.4"/><circle cx="477.3" cy="73.59" r="2.4"/><circle cx="477.3" cy="104.09" r="2.4"/><circle cx="477.3" cy="79.65" r="2.4"/><circle cx="477.3" cy="28.22" r="2.4"/><circle cx="477.3" cy="48.87" r="2.4"/><circle cx="477.3" cy="108.59" r="2.4"/><circle cx="477.3" cy="51.67" r="2.4"/><circle cx="477.3" cy="38.79" r="2.4"/><circle cx="477.3" cy="43.82" r="2.4"/><circle cx="477.3" cy="68.82" r="2.4"/><circle cx="477.3" cy="28.19" r="2.4"/><circle cx="477.3" cy="87.22" r="2.4"/><circle cx="477.3" cy="85.83" r="2.4"/><circle cx="477.3" cy="48.76" r="2.4"/><circle cx="477.3" cy="101.01" r="2.4"/><circle cx="477.3" cy="62.76" r="2.4"/><circle cx="477.3" cy="39.84" r="2.4"/><circle cx="477.3" cy="84.43" r="2.4"/><circle cx="477.3" cy="55.76" r="2.4"/><circle cx="477.3" cy="103.13" r="2.4"/><circle cx="477.3" cy="101.89" r="2.4"/><circle cx="477.3" cy="98.78" r="2.4"/><circle cx="477.3" cy="85.79" r="2.4"/><circle cx="477.3" cy="98.53" r="2.4"/><circle cx="477.3" cy="90.55" r="2.4"/><circle cx="477.3" cy="107.58" r="2.4"/><circle cx="477.3" cy="61.95" r="2.4"/><circle cx="477.3" cy="55.35" r="2.4"/><circle cx="477.3" cy="91.23" r="2.4"/><circle cx="477.3" cy="37.83" r="2.4"/><circle cx="477.3" cy="99.67" r="2.4"/><circle cx="477.3" cy="68.7" r="2.4"/><circle cx="477.3" cy="94.76" r="2.4"/><circle cx="477.3" cy="107.81" r="2.4"/><circle cx="477.3" cy="38.66" r="2.4"/><circle cx="477.3" cy="69.89" r="2.4"/><circle cx="477.3" cy="84.5" r="2.4"/><circle cx="477.3" cy="104.86" r="2.4"/><circle cx="477.3" cy="71.98" r="2.4"/><circle cx="477.3" cy="65.83" r="2.4"/><circle cx="477.3" cy="34.45" r="2.4"/><circle cx="477.3" cy="59.57" r="2.4"/><circle cx="477.3" cy="107.4" r="2.4"/><circle cx="477.3" cy="77.19" r="2.4"/><circle cx="477.3" cy="40.68" r="2.4"/><circle cx="477.3" cy="41.12" r="2.4"/><circle cx="477.3" cy="116.89" r="2.4"/><circle cx="477.3" cy="97.67" r="2.4"/><circle cx="477.3" cy="97.07" r="2.4"/><circle cx="477.3" cy="91.68" r="2.4"/><circle cx="477.3" cy="89.66" r="2.4"/><circle cx="477.3" cy="70.72" r="2.4"/><circle cx="477.3" cy="93.28" r="2.4"/><circle cx="477.3" cy="112.81" r="2.4"/><circle cx="477.3" cy="85.72" r="2.4"/><circle cx="477.3" cy="46.45" r="2.4"/><circle cx="477.3" cy="47.82" r="2.4"/><circle cx="477.3" cy="84.44" r="2.4"/><circle cx="477.3" cy="80.32" r="2.4"/><circle cx="477.3" cy="58.06" r="2.4"/><circle cx="477.3" cy="36.05" r="2.4"/><circle cx="477.3" cy="112.97" r="2.4"/><circle cx="477.3" cy="27.63" r="2.4"/><circle cx="477.3" cy="21.87" r="2.4"/><circle cx="477.3" cy="111.13" r="2.4"/><circle cx="477.3" cy="104.28" r="2.4"/><circle cx="477.3" cy="39.95" r="2.4"/><circle cx="477.3" cy="83.27" r="2.4"/><circle cx="477.3" cy="44.69" r="2.4"/><circle cx="477.3" cy="71.05" r="2.4"/><circle cx="477.3" cy="93.29" r="2.4"/><circle cx="477.3" cy="45.48" r="2.4"/><circle cx="477.3" cy="68.55" r="2.4"/><circle cx="477.3" cy="90.83" r="2.4"/><circle cx="477.3" cy="87.7" r="2.4"/><circle cx="477.3" cy="97.7" r="2.4"/><circle cx="477.3" cy="81.29" r="2.4"/><circle cx="477.3" cy="60.91" r="2.4"/><circle cx="477.3" cy="103.48" r="2.4"/><circle cx="477.3" cy="75.19" r="2.4"/><circle cx="477.3" cy="41.71" r="2.4"/><circle cx="477.3" cy="49.36" r="2.4"/><circle cx="477.3" cy="73.29" r="2.4"/><circle cx="477.3" cy="69.11" r="2.4"/><circle cx="477.3" cy="79.3" r="2.4"/><circle cx="477.3" cy="73.28" r="2.4"/><circle cx="477.3" cy="80.03" r="2.4"/><circle cx="477.3" cy="68.16" r="2.4"/><circle cx="477.3" cy="25.18" r="2.4"/><circle cx="477.3" cy="89.41" r="2.4"/><circle cx="477.3" cy="113.59" r="2.4"/><circle cx="477.3" cy="89.92" r="2.4"/><circle cx="477.3" cy="66.06" r="2.4"/><circle cx="477.3" cy="90.37" r="2.4"/><circle cx="477.3" cy="36.37" r="2.4"/><circle cx="477.3" cy="75.58" r="2.4"/><circle cx="477.3" cy="37.72" r="2.4"/><circle cx="477.3" cy="101.59" r="2.4"/><circle cx="477.3" cy="31.84" r="2.4"/><circle cx="477.3" cy="33.55" r="2.4"/><circle cx="477.3" cy="58.7" r="2.4"/><circle cx="477.3" cy="44.11" r="2.4"/><circle cx="477.3" cy="93.22" r="2.4"/><circle cx="477.3" cy="92.3" r="2.4"/><circle cx="477.3" cy="80.06" r="2.4"/><circle cx="477.3" cy="100.32" r="2.4"/><circle cx="477.3" cy="72.5" r="2.4"/><circle cx="477.3" cy="96.12" r="2.4"/><circle cx="477.3" cy="110.44" r="2.4"/><circle cx="477.3" cy="112.45" r="2.4"/><circle cx="477.3" cy="31.89" r="2.4"/><circle cx="477.3" cy="67.62" r="2.4"/><circle cx="477.3" cy="101.21" r="2.4"/><circle cx="477.3" cy="61.96" r="2.4"/><circle cx="477.3" cy="114.17" r="2.4"/><circle cx="477.3" cy="96.1" r="2.4"/><circle cx="477.3" cy="108.03" r="2.4"/><circle cx="477.3" cy="65.18" r="2.4"/><circle cx="477.3" cy="65.06" r="2.4"/><circle cx="477.3" cy="76.76" r="2.4"/><circle cx="477.3" cy="60.17" r="2.4"/><circle cx="477.3" cy="106.73" r="2.4"/><circle cx="477.3" cy="110.79" r="2.4"/><circle cx="477.3" cy="73.55" r="2.4"/><circle cx="477.3" cy="28.67" r="2.4"/><circle cx="477.3" cy="80.47" r="2.4"/><circle cx="477.3" cy="87.04" r="2.4"/><circle cx="477.3" cy="116.5" r="2.4"/><circle cx="477.3" cy="103.24" r="2.4"/><circle cx="477.3" cy="74.23" r="2.4"/><circle cx="477.3" cy="105.94" r="2.4"/><circle cx="477.3" cy="93.94" r="2.4"/><circle cx="477.3" cy="81.18" r="2.4"/><circle cx="477.3" cy="75.41" r="2.4"/><circle cx="477.3" cy="63.99" r="2.4"/><circle cx="477.3" cy="99.54" r="2.4"/><circle cx="477.3" cy="32.99" r="2.4"/><circle cx="477.3" cy="49.26" r="2.4"/><circle cx="477.3" cy="73.49" r="2.4"/><circle cx="477.3" cy="56.63" r="2.4"/><circle cx="477.3" cy="47.19" r="2.4"/><circle cx="477.3" cy="95.04" r="2.4"/><circle cx="477.3" cy="94.96" r="2.4"/><circle cx="477.3" cy="71.22" r="2.4"/><circle cx="477.3" cy="64.42" r="2.4"/><circle cx="477.3" cy="93.03" r="2.4"/><circle cx="477.3" cy="115.11" r="2.4"/><circle cx="477.3" cy="39.56" r="2.4"/><circle cx="477.3" cy="66.22" r="2.4"/><circle cx="477.3" cy="103.15" r="2.4"/><circle cx="477.3" cy="109.06" r="2.4"/><circle cx="477.3" cy="71.31" r="2.4"/><circle cx="477.3" cy="97.4" r="2.4"/><circle cx="477.3" cy="21.9" r="2.4"/><circle cx="477.3" cy="23.1" r="2.4"/><circle cx="477.3" cy="117.4" r="2.4"/><circle cx="477.3" cy="118.6" r="2.4"/></g>
<line x1="477.3" y1="23.1" x2="477.3" y2="49.4" stroke="#111" stroke-width="1.1"/>
<line x1="477.3" y1="97.2" x2="477.3" y2="117.4" stroke="#111" stroke-width="1.1"/>
<line x1="474.35" y1="23.1" x2="480.25" y2="23.1" stroke="#111" stroke-width="1.1"/>
<line x1="474.35" y1="117.4" x2="480.25" y2="117.4" stroke="#111" stroke-width="1.1"/>
<rect x="471.4" y="49.4" width="11.8" height="47.8" fill="none" stroke="#111" stroke-width="1.2"/>
<line x1="472" y1="74.6" x2="482.6" y2="74.6" stroke="#f5a21b" stroke-width="1.2"/>
<g transform="rotate(-90 428.1 72.35)"><text x="415.69" y="72.35" font-size="8.4" textLength="18.45" lengthAdjust="spacingAndGlyphs">SSIM</text><path d="M437.32,72.52V66.97 M435.64,68.99L437.32,66.47L439,68.99" fill="none" stroke="#000" stroke-width="0.76" stroke-linecap="round" stroke-linejoin="round"/></g>
<line x1="541" y1="127.8" x2="579.1" y2="127.8" stroke="#ececec" stroke-width="0.8"/>
<line x1="541" y1="124.1" x2="579.1" y2="124.1" stroke="#ececec" stroke-width="0.8"/>
<line x1="541" y1="120.41" x2="579.1" y2="120.41" stroke="#ececec" stroke-width="0.8"/>
<line x1="541" y1="116.71" x2="579.1" y2="116.71" stroke="#ececec" stroke-width="0.8"/>
<line x1="541" y1="113.01" x2="579.1" y2="113.01" stroke="#ececec" stroke-width="0.8"/>
<line x1="541" y1="109.32" x2="579.1" y2="109.32" stroke="#ececec" stroke-width="0.8"/>
<line x1="541" y1="105.62" x2="579.1" y2="105.62" stroke="#ececec" stroke-width="0.8"/>
<line x1="541" y1="101.92" x2="579.1" y2="101.92" stroke="#ececec" stroke-width="0.8"/>
<line x1="541" y1="98.23" x2="579.1" y2="98.23" stroke="#ececec" stroke-width="0.8"/>
<line x1="541" y1="94.53" x2="579.1" y2="94.53" stroke="#ececec" stroke-width="0.8"/>
<line x1="541" y1="90.83" x2="579.1" y2="90.83" stroke="#ececec" stroke-width="0.8"/>
<line x1="541" y1="87.14" x2="579.1" y2="87.14" stroke="#ececec" stroke-width="0.8"/>
<line x1="541" y1="83.44" x2="579.1" y2="83.44" stroke="#ececec" stroke-width="0.8"/>
<line x1="541" y1="79.74" x2="579.1" y2="79.74" stroke="#ececec" stroke-width="0.8"/>
<line x1="541" y1="76.05" x2="579.1" y2="76.05" stroke="#ececec" stroke-width="0.8"/>
<line x1="541" y1="72.35" x2="579.1" y2="72.35" stroke="#ececec" stroke-width="0.8"/>
<line x1="541" y1="68.65" x2="579.1" y2="68.65" stroke="#ececec" stroke-width="0.8"/>
<line x1="541" y1="64.96" x2="579.1" y2="64.96" stroke="#ececec" stroke-width="0.8"/>
<line x1="541" y1="61.26" x2="579.1" y2="61.26" stroke="#ececec" stroke-width="0.8"/>
<line x1="541" y1="57.56" x2="579.1" y2="57.56" stroke="#ececec" stroke-width="0.8"/>
<line x1="541" y1="53.87" x2="579.1" y2="53.87" stroke="#ececec" stroke-width="0.8"/>
<line x1="541" y1="50.17" x2="579.1" y2="50.17" stroke="#ececec" stroke-width="0.8"/>
<line x1="541" y1="46.47" x2="579.1" y2="46.47" stroke="#ececec" stroke-width="0.8"/>
<line x1="541" y1="42.78" x2="579.1" y2="42.78" stroke="#ececec" stroke-width="0.8"/>
<line x1="541" y1="39.08" x2="579.1" y2="39.08" stroke="#ececec" stroke-width="0.8"/>
<line x1="541" y1="35.38" x2="579.1" y2="35.38" stroke="#ececec" stroke-width="0.8"/>
<line x1="541" y1="31.69" x2="579.1" y2="31.69" stroke="#ececec" stroke-width="0.8"/>
<line x1="541" y1="27.99" x2="579.1" y2="27.99" stroke="#ececec" stroke-width="0.8"/>
<line x1="541" y1="24.29" x2="579.1" y2="24.29" stroke="#ececec" stroke-width="0.8"/>
<line x1="541" y1="20.6" x2="579.1" y2="20.6" stroke="#ececec" stroke-width="0.8"/>
<line x1="541" y1="16.9" x2="579.1" y2="16.9" stroke="#ececec" stroke-width="0.8"/>
<line x1="541" y1="16.9" x2="541" y2="127.8" stroke="#333" stroke-width="1"/>
<line x1="540.5" y1="127.8" x2="579.1" y2="127.8" stroke="#333" stroke-width="1"/>
<line x1="539.5" y1="127.8" x2="541" y2="127.8" stroke="#333" stroke-width="0.6"/>
<line x1="539.5" y1="124.1" x2="541" y2="124.1" stroke="#333" stroke-width="0.6"/>
<line x1="539.5" y1="120.41" x2="541" y2="120.41" stroke="#333" stroke-width="0.6"/>
<line x1="539.5" y1="116.71" x2="541" y2="116.71" stroke="#333" stroke-width="0.6"/>
<line x1="539.5" y1="113.01" x2="541" y2="113.01" stroke="#333" stroke-width="0.6"/>
<line x1="539.5" y1="109.32" x2="541" y2="109.32" stroke="#333" stroke-width="0.6"/>
<line x1="539.5" y1="105.62" x2="541" y2="105.62" stroke="#333" stroke-width="0.6"/>
<line x1="539.5" y1="101.92" x2="541" y2="101.92" stroke="#333" stroke-width="0.6"/>
<line x1="539.5" y1="98.23" x2="541" y2="98.23" stroke="#333" stroke-width="0.6"/>
<line x1="539.5" y1="94.53" x2="541" y2="94.53" stroke="#333" stroke-width="0.6"/>
<line x1="539.5" y1="90.83" x2="541" y2="90.83" stroke="#333" stroke-width="0.6"/>
<line x1="539.5" y1="87.14" x2="541" y2="87.14" stroke="#333" stroke-width="0.6"/>
<line x1="539.5" y1="83.44" x2="541" y2="83.44" stroke="#333" stroke-width="0.6"/>
<line x1="539.5" y1="79.74" x2="541" y2="79.74" stroke="#333" stroke-width="0.6"/>
<line x1="539.5" y1="76.05" x2="541" y2="76.05" stroke="#333" stroke-width="0.6"/>
<line x1="539.5" y1="72.35" x2="541" y2="72.35" stroke="#333" stroke-width="0.6"/>
<line x1="539.5" y1="68.65" x2="541" y2="68.65" stroke="#333" stroke-width="0.6"/>
<line x1="539.5" y1="64.96" x2="541" y2="64.96" stroke="#333" stroke-width="0.6"/>
<line x1="539.5" y1="61.26" x2="541" y2="61.26" stroke="#333" stroke-width="0.6"/>
<line x1="539.5" y1="57.56" x2="541" y2="57.56" stroke="#333" stroke-width="0.6"/>
<line x1="539.5" y1="53.87" x2="541" y2="53.87" stroke="#333" stroke-width="0.6"/>
<line x1="539.5" y1="50.17" x2="541" y2="50.17" stroke="#333" stroke-width="0.6"/>
<line x1="539.5" y1="46.47" x2="541" y2="46.47" stroke="#333" stroke-width="0.6"/>
<line x1="539.5" y1="42.78" x2="541" y2="42.78" stroke="#333" stroke-width="0.6"/>
<line x1="539.5" y1="39.08" x2="541" y2="39.08" stroke="#333" stroke-width="0.6"/>
<line x1="539.5" y1="35.38" x2="541" y2="35.38" stroke="#333" stroke-width="0.6"/>
<line x1="539.5" y1="31.69" x2="541" y2="31.69" stroke="#333" stroke-width="0.6"/>
<line x1="539.5" y1="27.99" x2="541" y2="27.99" stroke="#333" stroke-width="0.6"/>
<line x1="539.5" y1="24.29" x2="541" y2="24.29" stroke="#333" stroke-width="0.6"/>
<line x1="539.5" y1="20.6" x2="541" y2="20.6" stroke="#333" stroke-width="0.6"/>
<line x1="539.5" y1="16.9" x2="541" y2="16.9" stroke="#333" stroke-width="0.6"/>
<line x1="538.2" y1="127.8" x2="541" y2="127.8" stroke="#333" stroke-width="0.9"/>
<text x="515.44" y="130.85" font-size="8.5" textLength="21.76" lengthAdjust="spacingAndGlyphs">89.75</text>
<line x1="538.2" y1="109.32" x2="541" y2="109.32" stroke="#333" stroke-width="0.9"/>
<text x="515.44" y="112.37" font-size="8.5" textLength="21.76" lengthAdjust="spacingAndGlyphs">90.00</text>
<line x1="538.2" y1="90.83" x2="541" y2="90.83" stroke="#333" stroke-width="0.9"/>
<text x="515.44" y="93.88" font-size="8.5" textLength="21.76" lengthAdjust="spacingAndGlyphs">90.25</text>
<line x1="538.2" y1="72.35" x2="541" y2="72.35" stroke="#333" stroke-width="0.9"/>
<text x="515.44" y="75.4" font-size="8.5" textLength="21.76" lengthAdjust="spacingAndGlyphs">90.50</text>
<line x1="538.2" y1="53.87" x2="541" y2="53.87" stroke="#333" stroke-width="0.9"/>
<text x="515.44" y="56.92" font-size="8.5" textLength="21.76" lengthAdjust="spacingAndGlyphs">90.75</text>
<line x1="538.2" y1="35.38" x2="541" y2="35.38" stroke="#333" stroke-width="0.9"/>
<text x="515.44" y="38.43" font-size="8.5" textLength="21.76" lengthAdjust="spacingAndGlyphs">91.00</text>
<line x1="538.2" y1="16.9" x2="541" y2="16.9" stroke="#333" stroke-width="0.9"/>
<text x="515.44" y="19.95" font-size="8.5" textLength="21.76" lengthAdjust="spacingAndGlyphs">91.25</text>
<g fill="#6e1f88" fill-opacity="0.3"><circle cx="560.3" cy="36.33" r="2.4"/><circle cx="560.3" cy="35.14" r="2.4"/><circle cx="560.3" cy="49.49" r="2.4"/><circle cx="560.3" cy="57.72" r="2.4"/><circle cx="560.3" cy="43.11" r="2.4"/><circle cx="560.3" cy="70.2" r="2.4"/><circle cx="560.3" cy="74.31" r="2.4"/><circle cx="560.3" cy="81.57" r="2.4"/><circle cx="560.3" cy="82.85" r="2.4"/><circle cx="560.3" cy="97.97" r="2.4"/><circle cx="560.3" cy="91.58" r="2.4"/><circle cx="560.3" cy="44.83" r="2.4"/><circle cx="560.3" cy="60.06" r="2.4"/><circle cx="560.3" cy="49.58" r="2.4"/><circle cx="560.3" cy="49.27" r="2.4"/><circle cx="560.3" cy="68.07" r="2.4"/><circle cx="560.3" cy="69.7" r="2.4"/><circle cx="560.3" cy="78.86" r="2.4"/><circle cx="560.3" cy="39.64" r="2.4"/><circle cx="560.3" cy="46.23" r="2.4"/><circle cx="560.3" cy="69.16" r="2.4"/><circle cx="560.3" cy="65.83" r="2.4"/><circle cx="560.3" cy="63.72" r="2.4"/><circle cx="560.3" cy="68.41" r="2.4"/><circle cx="560.3" cy="55.26" r="2.4"/><circle cx="560.3" cy="82.84" r="2.4"/><circle cx="560.3" cy="76.29" r="2.4"/><circle cx="560.3" cy="67.94" r="2.4"/><circle cx="560.3" cy="56.91" r="2.4"/><circle cx="560.3" cy="66.31" r="2.4"/><circle cx="560.3" cy="51.07" r="2.4"/><circle cx="560.3" cy="70.3" r="2.4"/><circle cx="560.3" cy="41.2" r="2.4"/><circle cx="560.3" cy="73.37" r="2.4"/><circle cx="560.3" cy="72.38" r="2.4"/><circle cx="560.3" cy="43.59" r="2.4"/><circle cx="560.3" cy="64.87" r="2.4"/><circle cx="560.3" cy="63.67" r="2.4"/><circle cx="560.3" cy="78.28" r="2.4"/><circle cx="560.3" cy="81.15" r="2.4"/><circle cx="560.3" cy="68.91" r="2.4"/><circle cx="560.3" cy="53.53" r="2.4"/><circle cx="560.3" cy="66.88" r="2.4"/><circle cx="560.3" cy="68.36" r="2.4"/><circle cx="560.3" cy="83.47" r="2.4"/><circle cx="560.3" cy="75.16" r="2.4"/><circle cx="560.3" cy="55.96" r="2.4"/><circle cx="560.3" cy="44.03" r="2.4"/><circle cx="560.3" cy="62.56" r="2.4"/><circle cx="560.3" cy="55.62" r="2.4"/><circle cx="560.3" cy="48.61" r="2.4"/><circle cx="560.3" cy="67.41" r="2.4"/><circle cx="560.3" cy="60.33" r="2.4"/><circle cx="560.3" cy="71.59" r="2.4"/><circle cx="560.3" cy="79.48" r="2.4"/><circle cx="560.3" cy="61.8" r="2.4"/><circle cx="560.3" cy="63.53" r="2.4"/><circle cx="560.3" cy="90.4" r="2.4"/><circle cx="560.3" cy="71.9" r="2.4"/><circle cx="560.3" cy="90.67" r="2.4"/><circle cx="560.3" cy="24.74" r="2.4"/><circle cx="560.3" cy="55.41" r="2.4"/><circle cx="560.3" cy="74.26" r="2.4"/><circle cx="560.3" cy="80.97" r="2.4"/><circle cx="560.3" cy="75.69" r="2.4"/><circle cx="560.3" cy="93.76" r="2.4"/><circle cx="560.3" cy="84.07" r="2.4"/><circle cx="560.3" cy="87.49" r="2.4"/><circle cx="560.3" cy="79.23" r="2.4"/><circle cx="560.3" cy="66.65" r="2.4"/><circle cx="560.3" cy="79.21" r="2.4"/><circle cx="560.3" cy="49.24" r="2.4"/><circle cx="560.3" cy="91.9" r="2.4"/><circle cx="560.3" cy="50.4" r="2.4"/><circle cx="560.3" cy="74.31" r="2.4"/><circle cx="560.3" cy="109.64" r="2.4"/><circle cx="560.3" cy="65.38" r="2.4"/><circle cx="560.3" cy="69.97" r="2.4"/><circle cx="560.3" cy="91.56" r="2.4"/><circle cx="560.3" cy="70.1" r="2.4"/><circle cx="560.3" cy="54.35" r="2.4"/><circle cx="560.3" cy="74.47" r="2.4"/><circle cx="560.3" cy="80.59" r="2.4"/><circle cx="560.3" cy="83.01" r="2.4"/><circle cx="560.3" cy="55.01" r="2.4"/><circle cx="560.3" cy="102.69" r="2.4"/><circle cx="560.3" cy="101.07" r="2.4"/><circle cx="560.3" cy="69.94" r="2.4"/><circle cx="560.3" cy="74.67" r="2.4"/><circle cx="560.3" cy="61.51" r="2.4"/><circle cx="560.3" cy="96.3" r="2.4"/><circle cx="560.3" cy="56.29" r="2.4"/><circle cx="560.3" cy="82.33" r="2.4"/><circle cx="560.3" cy="60.54" r="2.4"/><circle cx="560.3" cy="56.5" r="2.4"/><circle cx="560.3" cy="83.17" r="2.4"/><circle cx="560.3" cy="94.78" r="2.4"/><circle cx="560.3" cy="69.41" r="2.4"/><circle cx="560.3" cy="56.81" r="2.4"/><circle cx="560.3" cy="84.92" r="2.4"/><circle cx="560.3" cy="68.67" r="2.4"/><circle cx="560.3" cy="75.46" r="2.4"/><circle cx="560.3" cy="98.35" r="2.4"/><circle cx="560.3" cy="90.97" r="2.4"/><circle cx="560.3" cy="59.79" r="2.4"/><circle cx="560.3" cy="69.66" r="2.4"/><circle cx="560.3" cy="84.44" r="2.4"/><circle cx="560.3" cy="57.38" r="2.4"/><circle cx="560.3" cy="68.76" r="2.4"/><circle cx="560.3" cy="36.56" r="2.4"/><circle cx="560.3" cy="103.33" r="2.4"/><circle cx="560.3" cy="95.39" r="2.4"/><circle cx="560.3" cy="46.66" r="2.4"/><circle cx="560.3" cy="41.18" r="2.4"/><circle cx="560.3" cy="38.99" r="2.4"/><circle cx="560.3" cy="91.8" r="2.4"/><circle cx="560.3" cy="60.92" r="2.4"/><circle cx="560.3" cy="68.46" r="2.4"/><circle cx="560.3" cy="63.7" r="2.4"/><circle cx="560.3" cy="67.31" r="2.4"/><circle cx="560.3" cy="49.06" r="2.4"/><circle cx="560.3" cy="70.06" r="2.4"/><circle cx="560.3" cy="42.45" r="2.4"/><circle cx="560.3" cy="68.25" r="2.4"/><circle cx="560.3" cy="75.43" r="2.4"/><circle cx="560.3" cy="78.43" r="2.4"/><circle cx="560.3" cy="65.23" r="2.4"/><circle cx="560.3" cy="52.54" r="2.4"/><circle cx="560.3" cy="72.61" r="2.4"/><circle cx="560.3" cy="60.45" r="2.4"/><circle cx="560.3" cy="99.16" r="2.4"/><circle cx="560.3" cy="84.09" r="2.4"/><circle cx="560.3" cy="67.43" r="2.4"/><circle cx="560.3" cy="60.7" r="2.4"/><circle cx="560.3" cy="56.33" r="2.4"/><circle cx="560.3" cy="51.91" r="2.4"/><circle cx="560.3" cy="62.94" r="2.4"/><circle cx="560.3" cy="75.17" r="2.4"/><circle cx="560.3" cy="79.33" r="2.4"/><circle cx="560.3" cy="80.34" r="2.4"/><circle cx="560.3" cy="109.22" r="2.4"/><circle cx="560.3" cy="56.29" r="2.4"/><circle cx="560.3" cy="69.84" r="2.4"/><circle cx="560.3" cy="34.35" r="2.4"/><circle cx="560.3" cy="59.75" r="2.4"/><circle cx="560.3" cy="72.8" r="2.4"/><circle cx="560.3" cy="72.51" r="2.4"/><circle cx="560.3" cy="77.3" r="2.4"/><circle cx="560.3" cy="65.09" r="2.4"/><circle cx="560.3" cy="76.51" r="2.4"/><circle cx="560.3" cy="70.6" r="2.4"/><circle cx="560.3" cy="84.16" r="2.4"/><circle cx="560.3" cy="33.87" r="2.4"/><circle cx="560.3" cy="52.89" r="2.4"/><circle cx="560.3" cy="69.56" r="2.4"/><circle cx="560.3" cy="50.12" r="2.4"/><circle cx="560.3" cy="49.88" r="2.4"/><circle cx="560.3" cy="81.45" r="2.4"/><circle cx="560.3" cy="57.33" r="2.4"/><circle cx="560.3" cy="81.59" r="2.4"/><circle cx="560.3" cy="83.68" r="2.4"/><circle cx="560.3" cy="75.39" r="2.4"/><circle cx="560.3" cy="79.19" r="2.4"/><circle cx="560.3" cy="67.63" r="2.4"/><circle cx="560.3" cy="43" r="2.4"/><circle cx="560.3" cy="69.03" r="2.4"/><circle cx="560.3" cy="78.18" r="2.4"/><circle cx="560.3" cy="59.6" r="2.4"/><circle cx="560.3" cy="67.72" r="2.4"/><circle cx="560.3" cy="83.75" r="2.4"/><circle cx="560.3" cy="53.02" r="2.4"/><circle cx="560.3" cy="81.68" r="2.4"/><circle cx="560.3" cy="104.77" r="2.4"/><circle cx="560.3" cy="59.13" r="2.4"/><circle cx="560.3" cy="72.37" r="2.4"/><circle cx="560.3" cy="66.76" r="2.4"/><circle cx="560.3" cy="98.68" r="2.4"/><circle cx="560.3" cy="75.57" r="2.4"/><circle cx="560.3" cy="86.55" r="2.4"/><circle cx="560.3" cy="56.57" r="2.4"/><circle cx="560.3" cy="69.3" r="2.4"/><circle cx="560.3" cy="69.41" r="2.4"/><circle cx="560.3" cy="36.07" r="2.4"/><circle cx="560.3" cy="96.8" r="2.4"/><circle cx="560.3" cy="86.58" r="2.4"/><circle cx="560.3" cy="36.58" r="2.4"/><circle cx="560.3" cy="83.65" r="2.4"/><circle cx="560.3" cy="67.12" r="2.4"/><circle cx="560.3" cy="78.07" r="2.4"/><circle cx="560.3" cy="76.52" r="2.4"/><circle cx="560.3" cy="23.8" r="2.4"/><circle cx="560.3" cy="25" r="2.4"/><circle cx="560.3" cy="108.3" r="2.4"/><circle cx="560.3" cy="109.5" r="2.4"/></g>
<line x1="560.3" y1="25" x2="560.3" y2="57.8" stroke="#111" stroke-width="1.1"/>
<line x1="560.3" y1="81.4" x2="560.3" y2="108.3" stroke="#111" stroke-width="1.1"/>
<line x1="557.35" y1="25" x2="563.25" y2="25" stroke="#111" stroke-width="1.1"/>
<line x1="557.35" y1="108.3" x2="563.25" y2="108.3" stroke="#111" stroke-width="1.1"/>
<rect x="554.4" y="57.8" width="11.8" height="23.6" fill="none" stroke="#111" stroke-width="1.2"/>
<line x1="555" y1="67.8" x2="565.6" y2="67.8" stroke="#f5a21b" stroke-width="1.2"/>
<g transform="rotate(-90 510.6 72.35)"><text x="499.42" y="72.35" font-size="8.4" textLength="15.98" lengthAdjust="spacingAndGlyphs">DSC</text><path d="M518.59,72.52V66.97 M516.91,68.99L518.59,66.47L520.27,68.99" fill="none" stroke="#000" stroke-width="0.76" stroke-linecap="round" stroke-linejoin="round"/></g>
<line x1="623.8" y1="127.8" x2="662" y2="127.8" stroke="#ececec" stroke-width="0.8"/>
<line x1="623.8" y1="122.25" x2="662" y2="122.25" stroke="#ececec" stroke-width="0.8"/>
<line x1="623.8" y1="116.71" x2="662" y2="116.71" stroke="#ececec" stroke-width="0.8"/>
<line x1="623.8" y1="111.17" x2="662" y2="111.17" stroke="#ececec" stroke-width="0.8"/>
<line x1="623.8" y1="105.62" x2="662" y2="105.62" stroke="#ececec" stroke-width="0.8"/>
<line x1="623.8" y1="100.07" x2="662" y2="100.07" stroke="#ececec" stroke-width="0.8"/>
<line x1="623.8" y1="94.53" x2="662" y2="94.53" stroke="#ececec" stroke-width="0.8"/>
<line x1="623.8" y1="88.98" x2="662" y2="88.98" stroke="#ececec" stroke-width="0.8"/>
<line x1="623.8" y1="83.44" x2="662" y2="83.44" stroke="#ececec" stroke-width="0.8"/>
<line x1="623.8" y1="77.89" x2="662" y2="77.89" stroke="#ececec" stroke-width="0.8"/>
<line x1="623.8" y1="72.35" x2="662" y2="72.35" stroke="#ececec" stroke-width="0.8"/>
<line x1="623.8" y1="66.81" x2="662" y2="66.81" stroke="#ececec" stroke-width="0.8"/>
<line x1="623.8" y1="61.26" x2="662" y2="61.26" stroke="#ececec" stroke-width="0.8"/>
<line x1="623.8" y1="55.72" x2="662" y2="55.72" stroke="#ececec" stroke-width="0.8"/>
<line x1="623.8" y1="50.17" x2="662" y2="50.17" stroke="#ececec" stroke-width="0.8"/>
<line x1="623.8" y1="44.62" x2="662" y2="44.62" stroke="#ececec" stroke-width="0.8"/>
<line x1="623.8" y1="39.08" x2="662" y2="39.08" stroke="#ececec" stroke-width="0.8"/>
<line x1="623.8" y1="33.53" x2="662" y2="33.53" stroke="#ececec" stroke-width="0.8"/>
<line x1="623.8" y1="27.99" x2="662" y2="27.99" stroke="#ececec" stroke-width="0.8"/>
<line x1="623.8" y1="22.44" x2="662" y2="22.44" stroke="#ececec" stroke-width="0.8"/>
<line x1="623.8" y1="16.9" x2="662" y2="16.9" stroke="#ececec" stroke-width="0.8"/>
<line x1="623.8" y1="16.9" x2="623.8" y2="127.8" stroke="#333" stroke-width="1"/>
<line x1="623.3" y1="127.8" x2="662" y2="127.8" stroke="#333" stroke-width="1"/>
<line x1="622.3" y1="127.8" x2="623.8" y2="127.8" stroke="#333" stroke-width="0.6"/>
<line x1="622.3" y1="122.25" x2="623.8" y2="122.25" stroke="#333" stroke-width="0.6"/>
<line x1="622.3" y1="116.71" x2="623.8" y2="116.71" stroke="#333" stroke-width="0.6"/>
<line x1="622.3" y1="111.17" x2="623.8" y2="111.17" stroke="#333" stroke-width="0.6"/>
<line x1="622.3" y1="105.62" x2="623.8" y2="105.62" stroke="#333" stroke-width="0.6"/>
<line x1="622.3" y1="100.07" x2="623.8" y2="100.07" stroke="#333" stroke-width="0.6"/>
<line x1="622.3" y1="94.53" x2="623.8" y2="94.53" stroke="#333" stroke-width="0.6"/>
<line x1="622.3" y1="88.98" x2="623.8" y2="88.98" stroke="#333" stroke-width="0.6"/>
<line x1="622.3" y1="83.44" x2="623.8" y2="83.44" stroke="#333" stroke-width="0.6"/>
<line x1="622.3" y1="77.89" x2="623.8" y2="77.89" stroke="#333" stroke-width="0.6"/>
<line x1="622.3" y1="72.35" x2="623.8" y2="72.35" stroke="#333" stroke-width="0.6"/>
<line x1="622.3" y1="66.81" x2="623.8" y2="66.81" stroke="#333" stroke-width="0.6"/>
<line x1="622.3" y1="61.26" x2="623.8" y2="61.26" stroke="#333" stroke-width="0.6"/>
<line x1="622.3" y1="55.72" x2="623.8" y2="55.72" stroke="#333" stroke-width="0.6"/>
<line x1="622.3" y1="50.17" x2="623.8" y2="50.17" stroke="#333" stroke-width="0.6"/>
<line x1="622.3" y1="44.62" x2="623.8" y2="44.62" stroke="#333" stroke-width="0.6"/>
<line x1="622.3" y1="39.08" x2="623.8" y2="39.08" stroke="#333" stroke-width="0.6"/>
<line x1="622.3" y1="33.53" x2="623.8" y2="33.53" stroke="#333" stroke-width="0.6"/>
<line x1="622.3" y1="27.99" x2="623.8" y2="27.99" stroke="#333" stroke-width="0.6"/>
<line x1="622.3" y1="22.44" x2="623.8" y2="22.44" stroke="#333" stroke-width="0.6"/>
<line x1="622.3" y1="16.9" x2="623.8" y2="16.9" stroke="#333" stroke-width="0.6"/>
<line x1="621" y1="127.8" x2="623.8" y2="127.8" stroke="#333" stroke-width="0.9"/>
<text x="607.91" y="130.85" font-size="8.5" textLength="12.09" lengthAdjust="spacingAndGlyphs">3.5</text>
<line x1="621" y1="100.07" x2="623.8" y2="100.07" stroke="#333" stroke-width="0.9"/>
<text x="607.91" y="103.12" font-size="8.5" textLength="12.09" lengthAdjust="spacingAndGlyphs">4.0</text>
<line x1="621" y1="72.35" x2="623.8" y2="72.35" stroke="#333" stroke-width="0.9"/>
<text x="607.91" y="75.4" font-size="8.5" textLength="12.09" lengthAdjust="spacingAndGlyphs">4.5</text>
<line x1="621" y1="44.62" x2="623.8" y2="44.62" stroke="#333" stroke-width="0.9"/>
<text x="607.91" y="47.67" font-size="8.5" textLength="12.09" lengthAdjust="spacingAndGlyphs">5.0</text>
<line x1="621" y1="16.9" x2="623.8" y2="16.9" stroke="#333" stroke-width="0.9"/>
<text x="607.91" y="19.95" font-size="8.5" textLength="12.09" lengthAdjust="spacingAndGlyphs">5.5</text>
<g fill="#6e1f88" fill-opacity="0.3"><circle cx="643.2" cy="34.54" r="2.4"/><circle cx="643.2" cy="66.14" r="2.4"/><circle cx="643.2" cy="108.01" r="2.4"/><circle cx="643.2" cy="57.23" r="2.4"/><circle cx="643.2" cy="46.23" r="2.4"/><circle cx="643.2" cy="37.96" r="2.4"/><circle cx="643.2" cy="41.36" r="2.4"/><circle cx="643.2" cy="79.59" r="2.4"/><circle cx="643.2" cy="112.92" r="2.4"/><circle cx="643.2" cy="81.9" r="2.4"/><circle cx="643.2" cy="77.38" r="2.4"/><circle cx="643.2" cy="58.59" r="2.4"/><circle cx="643.2" cy="54.79" r="2.4"/><circle cx="643.2" cy="84.33" r="2.4"/><circle cx="643.2" cy="84.82" r="2.4"/><circle cx="643.2" cy="46.43" r="2.4"/><circle cx="643.2" cy="42.62" r="2.4"/><circle cx="643.2" cy="78.5" r="2.4"/><circle cx="643.2" cy="77.43" r="2.4"/><circle cx="643.2" cy="39.25" r="2.4"/><circle cx="643.2" cy="66.38" r="2.4"/><circle cx="643.2" cy="58.02" r="2.4"/><circle cx="643.2" cy="82.65" r="2.4"/><circle cx="643.2" cy="68.48" r="2.4"/><circle cx="643.2" cy="69.24" r="2.4"/><circle cx="643.2" cy="62.67" r="2.4"/><circle cx="643.2" cy="97.23" r="2.4"/><circle cx="643.2" cy="105.51" r="2.4"/><circle cx="643.2" cy="62.34" r="2.4"/><circle cx="643.2" cy="92.13" r="2.4"/><circle cx="643.2" cy="52.74" r="2.4"/><circle cx="643.2" cy="73.12" r="2.4"/><circle cx="643.2" cy="89.77" r="2.4"/><circle cx="643.2" cy="108.54" r="2.4"/><circle cx="643.2" cy="61.95" r="2.4"/><circle cx="643.2" cy="69.53" r="2.4"/><circle cx="643.2" cy="76.17" r="2.4"/><circle cx="643.2" cy="34.56" r="2.4"/><circle cx="643.2" cy="71.74" r="2.4"/><circle cx="643.2" cy="54.75" r="2.4"/><circle cx="643.2" cy="80.47" r="2.4"/><circle cx="643.2" cy="43.6" r="2.4"/><circle cx="643.2" cy="72.29" r="2.4"/><circle cx="643.2" cy="77.75" r="2.4"/><circle cx="643.2" cy="57.87" r="2.4"/><circle cx="643.2" cy="93.18" r="2.4"/><circle cx="643.2" cy="64.64" r="2.4"/><circle cx="643.2" cy="56.47" r="2.4"/><circle cx="643.2" cy="83.08" r="2.4"/><circle cx="643.2" cy="32.84" r="2.4"/><circle cx="643.2" cy="54.71" r="2.4"/><circle cx="643.2" cy="70.84" r="2.4"/><circle cx="643.2" cy="92.2" r="2.4"/><circle cx="643.2" cy="67.35" r="2.4"/><circle cx="643.2" cy="78.93" r="2.4"/><circle cx="643.2" cy="55.25" r="2.4"/><circle cx="643.2" cy="78.76" r="2.4"/><circle cx="643.2" cy="112.2" r="2.4"/><circle cx="643.2" cy="54.49" r="2.4"/><circle cx="643.2" cy="55.54" r="2.4"/><circle cx="643.2" cy="71.77" r="2.4"/><circle cx="643.2" cy="75.61" r="2.4"/><circle cx="643.2" cy="96.51" r="2.4"/><circle cx="643.2" cy="40.97" r="2.4"/><circle cx="643.2" cy="86.23" r="2.4"/><circle cx="643.2" cy="90.89" r="2.4"/><circle cx="643.2" cy="86.67" r="2.4"/><circle cx="643.2" cy="76.38" r="2.4"/><circle cx="643.2" cy="77.59" r="2.4"/><circle cx="643.2" cy="94.17" r="2.4"/><circle cx="643.2" cy="80.41" r="2.4"/><circle cx="643.2" cy="112.21" r="2.4"/><circle cx="643.2" cy="40.94" r="2.4"/><circle cx="643.2" cy="62.13" r="2.4"/><circle cx="643.2" cy="91.3" r="2.4"/><circle cx="643.2" cy="62.2" r="2.4"/><circle cx="643.2" cy="94.04" r="2.4"/><circle cx="643.2" cy="71.2" r="2.4"/><circle cx="643.2" cy="65.1" r="2.4"/><circle cx="643.2" cy="59.08" r="2.4"/><circle cx="643.2" cy="50.77" r="2.4"/><circle cx="643.2" cy="55.87" r="2.4"/><circle cx="643.2" cy="87.05" r="2.4"/><circle cx="643.2" cy="72.25" r="2.4"/><circle cx="643.2" cy="72.98" r="2.4"/><circle cx="643.2" cy="67.09" r="2.4"/><circle cx="643.2" cy="93.81" r="2.4"/><circle cx="643.2" cy="83.48" r="2.4"/><circle cx="643.2" cy="67.87" r="2.4"/><circle cx="643.2" cy="87.68" r="2.4"/><circle cx="643.2" cy="67.62" r="2.4"/><circle cx="643.2" cy="43.03" r="2.4"/><circle cx="643.2" cy="107.09" r="2.4"/><circle cx="643.2" cy="82.78" r="2.4"/><circle cx="643.2" cy="47.84" r="2.4"/><circle cx="643.2" cy="97.85" r="2.4"/><circle cx="643.2" cy="79.82" r="2.4"/><circle cx="643.2" cy="32.93" r="2.4"/><circle cx="643.2" cy="110.89" r="2.4"/><circle cx="643.2" cy="79.54" r="2.4"/><circle cx="643.2" cy="93.24" r="2.4"/><circle cx="643.2" cy="76.21" r="2.4"/><circle cx="643.2" cy="67.68" r="2.4"/><circle cx="643.2" cy="33.33" r="2.4"/><circle cx="643.2" cy="95.21" r="2.4"/><circle cx="643.2" cy="72.09" r="2.4"/><circle cx="643.2" cy="64.31" r="2.4"/><circle cx="643.2" cy="79.97" r="2.4"/><circle cx="643.2" cy="73.27" r="2.4"/><circle cx="643.2" cy="87.94" r="2.4"/><circle cx="643.2" cy="62.24" r="2.4"/><circle cx="643.2" cy="70.45" r="2.4"/><circle cx="643.2" cy="60.95" r="2.4"/><circle cx="643.2" cy="87.95" r="2.4"/><circle cx="643.2" cy="104.18" r="2.4"/><circle cx="643.2" cy="62.41" r="2.4"/><circle cx="643.2" cy="68.37" r="2.4"/><circle cx="643.2" cy="110.24" r="2.4"/><circle cx="643.2" cy="63.35" r="2.4"/><circle cx="643.2" cy="89.38" r="2.4"/><circle cx="643.2" cy="112.57" r="2.4"/><circle cx="643.2" cy="72.33" r="2.4"/><circle cx="643.2" cy="101.48" r="2.4"/><circle cx="643.2" cy="53.9" r="2.4"/><circle cx="643.2" cy="76.45" r="2.4"/><circle cx="643.2" cy="69.45" r="2.4"/><circle cx="643.2" cy="74.17" r="2.4"/><circle cx="643.2" cy="99.1" r="2.4"/><circle cx="643.2" cy="55.01" r="2.4"/><circle cx="643.2" cy="57.23" r="2.4"/><circle cx="643.2" cy="83.57" r="2.4"/><circle cx="643.2" cy="45.44" r="2.4"/><circle cx="643.2" cy="83.56" r="2.4"/><circle cx="643.2" cy="85.4" r="2.4"/><circle cx="643.2" cy="64.53" r="2.4"/><circle cx="643.2" cy="84.4" r="2.4"/><circle cx="643.2" cy="33.3" r="2.4"/><circle cx="643.2" cy="90.01" r="2.4"/><circle cx="643.2" cy="33.41" r="2.4"/><circle cx="643.2" cy="54.25" r="2.4"/><circle cx="643.2" cy="57.69" r="2.4"/><circle cx="643.2" cy="61.5" r="2.4"/><circle cx="643.2" cy="92.44" r="2.4"/><circle cx="643.2" cy="73.36" r="2.4"/><circle cx="643.2" cy="61.59" r="2.4"/><circle cx="643.2" cy="84.7" r="2.4"/><circle cx="643.2" cy="110.19" r="2.4"/><circle cx="643.2" cy="71.5" r="2.4"/><circle cx="643.2" cy="80.33" r="2.4"/><circle cx="643.2" cy="101.8" r="2.4"/><circle cx="643.2" cy="77.93" r="2.4"/><circle cx="643.2" cy="39.82" r="2.4"/><circle cx="643.2" cy="70.39" r="2.4"/><circle cx="643.2" cy="81.6" r="2.4"/><circle cx="643.2" cy="95.07" r="2.4"/><circle cx="643.2" cy="87.78" r="2.4"/><circle cx="643.2" cy="64.66" r="2.4"/><circle cx="643.2" cy="45.47" r="2.4"/><circle cx="643.2" cy="73.88" r="2.4"/><circle cx="643.2" cy="96.73" r="2.4"/><circle cx="643.2" cy="44.59" r="2.4"/><circle cx="643.2" cy="46.12" r="2.4"/><circle cx="643.2" cy="70.75" r="2.4"/><circle cx="643.2" cy="64.96" r="2.4"/><circle cx="643.2" cy="60.63" r="2.4"/><circle cx="643.2" cy="82.42" r="2.4"/><circle cx="643.2" cy="54.11" r="2.4"/><circle cx="643.2" cy="49.69" r="2.4"/><circle cx="643.2" cy="61.67" r="2.4"/><circle cx="643.2" cy="70.12" r="2.4"/><circle cx="643.2" cy="55.03" r="2.4"/><circle cx="643.2" cy="71.65" r="2.4"/><circle cx="643.2" cy="89.78" r="2.4"/><circle cx="643.2" cy="100.46" r="2.4"/><circle cx="643.2" cy="113.22" r="2.4"/><circle cx="643.2" cy="52.11" r="2.4"/><circle cx="643.2" cy="61.04" r="2.4"/><circle cx="643.2" cy="118" r="2.4"/><circle cx="643.2" cy="53.55" r="2.4"/><circle cx="643.2" cy="70.53" r="2.4"/><circle cx="643.2" cy="84.18" r="2.4"/><circle cx="643.2" cy="37.98" r="2.4"/><circle cx="643.2" cy="82.74" r="2.4"/><circle cx="643.2" cy="70.7" r="2.4"/><circle cx="643.2" cy="26.5" r="2.4"/><circle cx="643.2" cy="78.52" r="2.4"/><circle cx="643.2" cy="100.69" r="2.4"/><circle cx="643.2" cy="25.48" r="2.4"/><circle cx="643.2" cy="91.18" r="2.4"/><circle cx="643.2" cy="76.49" r="2.4"/><circle cx="643.2" cy="25.1" r="2.4"/><circle cx="643.2" cy="26.3" r="2.4"/><circle cx="643.2" cy="121.4" r="2.4"/><circle cx="643.2" cy="122.6" r="2.4"/></g>
<line x1="643.2" y1="26.3" x2="643.2" y2="56" stroke="#111" stroke-width="1.1"/>
<line x1="643.2" y1="86.7" x2="643.2" y2="121.4" stroke="#111" stroke-width="1.1"/>
<line x1="640.2" y1="26.3" x2="646.2" y2="26.3" stroke="#111" stroke-width="1.1"/>
<line x1="640.2" y1="121.4" x2="646.2" y2="121.4" stroke="#111" stroke-width="1.1"/>
<rect x="637.2" y="56" width="12" height="30.7" fill="none" stroke="#111" stroke-width="1.2"/>
<line x1="637.8" y1="71.5" x2="648.6" y2="71.5" stroke="#f5a21b" stroke-width="1.2"/>
<g transform="rotate(-90 603.1 72.35)"><text x="589.3" y="72.35" font-size="8.4" textLength="21.24" lengthAdjust="spacingAndGlyphs">HD95</text><path d="M613.72,66.47V72.02 M612.04,70L613.72,72.52L615.4,70" fill="none" stroke="#000" stroke-width="0.76" stroke-linecap="round" stroke-linejoin="round"/></g>
<text x="402" y="34.2" font-size="8" textLength="15.09" lengthAdjust="spacingAndGlyphs">Max</text>
<text x="404.8" y="55.7" font-size="8" textLength="5.75" lengthAdjust="spacingAndGlyphs">Q</text>
<text x="410.3" y="57.2" font-size="5" textLength="3.18" lengthAdjust="spacingAndGlyphs">3</text>
<text x="405.2" y="74.3" font-size="8" textLength="6.3" lengthAdjust="spacingAndGlyphs">M</text>
<text x="404.8" y="92.1" font-size="8" textLength="5.75" lengthAdjust="spacingAndGlyphs">Q</text>
<text x="410.3" y="93.6" font-size="5" textLength="3.18" lengthAdjust="spacingAndGlyphs">1</text>
<text x="402" y="119.7" font-size="8" textLength="12.95" lengthAdjust="spacingAndGlyphs">Min</text>
<defs>
<filter id="bl1" x="-20%" y="-20%" width="140%" height="140%"><feGaussianBlur stdDeviation="0.6"/></filter><filter id="bl05" x="-5%" y="-5%" width="110%" height="110%"><feGaussianBlur stdDeviation="0.6"/></filter>
<filter id="bl2" x="-20%" y="-20%" width="140%" height="140%"><feGaussianBlur stdDeviation="1.2"/></filter>
<clipPath id="clip100"><rect x="0" y="0" width="100" height="100"/></clipPath>
<clipPath id="clip72"><rect x="0" y="0" width="72" height="72"/></clipPath>
<g id="ctC"><rect width="100" height="100" fill="#020202"/><g filter="url(#bl1)"><path d="M2,15 C2,12 4,10 8,8 C25,0.5 75,-0.5 96,5.5 C99,6.5 101,9 100,12 C99,14 96,14 94,13.5 C75,8.5 28,9.5 10,15.5 C6,17 2,17 2,15 Z" fill="#181818" stroke="#a8a8a8" stroke-width="1.3"/><path d="M15,21 C19,15 31,13 52,13 C72,13 86,15 90,21 C94,28 94,36 92,44 C90,57 82,67 68,72 C60,74 56,76 52,75 C48,76 42,75 34,72 C19,67 11,57 10,46 C9,36 11,27 15,21 Z" fill="#666"/><path d="M19,25 C23,19 35,18 52,18 C68,18 82,19 86,25 C89,31 89,39 87,47 C85,56 78,63 68,66 C60,67 56,68 52,68 C48,68 44,67 36,66 C25,64 17,57 16,48 C15,40 16,31 19,25 Z" fill="#707070"/><path d="M64,25 C72,23 80,27 82,35 C84,42 80,46 74,46 C68,46 63,42 62,36 C61,30 62,27 64,25 Z" fill="#6a6a6a"/><path d="M20,56 C26,60 34,61 42,60 C44,58 45,56 44,55 C36,56 28,56 20,56 Z" fill="#080808"/><path d="M56,55 C62,56 72,56 80,55 C76,60 66,62 58,61 C56,60 55,57 56,55 Z" fill="#080808"/><ellipse cx="50" cy="53" rx="4.5" ry="5.5" fill="#a8a8a8"/><ellipse cx="50" cy="60" rx="4" ry="2" fill="#c8c8c8"/></g><rect x="37" y="56.8" width="7.5" height="7.6" fill="none" stroke="#d62728" stroke-width="1.4"/><rect x="57.8" y="56.3" width="8.2" height="9.2" fill="none" stroke="#1f77b4" stroke-width="1.4"/></g>
<g id="ctD"><rect width="100" height="100" fill="#020202"/><g filter="url(#bl1)"><path d="M2,15 C2,12 4,10 8,8 C25,0.5 75,-0.5 96,5.5 C99,6.5 101,9 100,12 C99,14 96,14 94,13.5 C75,8.5 28,9.5 10,15.5 C6,17 2,17 2,15 Z" fill="#181818" stroke="#a8a8a8" stroke-width="1.3"/><path d="M15,21 C19,15 31,13 52,13 C72,13 86,15 90,21 C94,28 94,36 92,44 C90,57 82,67 68,72 C60,74 56,76 52,75 C48,76 42,75 34,72 C19,67 11,57 10,46 C9,36 11,27 15,21 Z" fill="#666"/><path d="M19,25 C23,19 35,18 52,18 C68,18 82,19 86,25 C89,31 89,39 87,47 C85,56 78,63 68,66 C60,67 56,68 52,68 C48,68 44,67 36,66 C25,64 17,57 16,48 C15,40 16,31 19,25 Z" fill="#707070"/><path d="M23,46 C24,43 29,43 31,46 C33,50 32,56 29,57 C25,58 22,55 23,46 Z" fill="#060606"/><path d="M37,39 C39,38 42,39 42,41 C42,43 39,44 37,43 Z" fill="#060606"/><path d="M67,35 C70,32 75,33 77,37 C79,42 79,48 76,50 C72,51 68,47 67,42 Z" fill="#060606"/><path d="M56,58 C60,62 66,62 70,58 C68,63 60,64 56,58 Z" fill="#151515"/><ellipse cx="49" cy="52" rx="5" ry="5.5" fill="#a0a0a0"/><ellipse cx="48" cy="59" rx="4" ry="2" fill="#c8c8c8"/></g><rect x="29" y="29" width="9" height="9" fill="none" stroke="#d62728" stroke-width="1.4"/><rect x="58.8" y="48" width="8.6" height="8.4" fill="none" stroke="#1f77b4" stroke-width="1.4"/></g>
<linearGradient id="gC1" x1="0" y1="0" x2="0.3" y2="1"><stop offset="0" stop-color="#8a8a8a"/><stop offset="0.5" stop-color="#7c7c7c"/><stop offset="1" stop-color="#5a5a5a"/></linearGradient>
<g id="roiC1"><g clip-path="url(#clip72)"><g filter="url(#bl2)"><rect x="-5" y="-5" width="82" height="82" fill="url(#gC1)"/><path d="M-5,41 C8,36 18,33 24,31 C34,27 42,24 48,20 C54,16 58,12 62,9 C66,6 70,3 77,-1 L77,20 C72,23 66,27 61,31 C56,36 54,39 51,42 C45,46 41,49 37,51 C30,55 26,57 22,58 C14,60 6,62 -5,65 Z" fill="#0e0e0e"/><path d="M-5,65 C6,62 14,60 22,58 L20,66 L10,72 L-5,74 Z" fill="#2c2c2c"/><path d="M51,42 C56,39 61,33 77,20 L77,77 L40,77 C38,66 42,56 51,42 Z" fill="#7a7a7a"/><path d="M22,58 C26,57 30,55 37,51 C44,48 48,46 51,42 C46,52 42,62 40,77 L10,77 C12,70 16,62 22,58 Z" fill="#858585"/><ellipse cx="37" cy="60" rx="8" ry="5" fill="#eeeeee" transform="rotate(-25 37 60)"/><path d="M10,72 C18,66 26,63 34,61 L36,66 C28,68 20,71 14,74 Z" fill="#c8c8c8"/></g></g></g>
<g id="roiC2"><g clip-path="url(#clip72)"><g filter="url(#bl2)"><rect x="-5" y="-5" width="82" height="82" fill="#0c0c0c"/><path d="M27,-5 C31,5 37,12 45,17 C52,21 60,24 77,27 L77,-5 Z" fill="#858585"/><path d="M-5,30 C2,42 10,54 26,64 C34,68 44,70 77,73 L77,77 L-5,77 Z" fill="#7c7c7c"/><path d="M6,54 C11,57 18,63 24,72 L17,73 C13,67 8,61 6,54 Z" fill="#f0f0f0"/><g fill="#3a3a3a"><circle cx="12" cy="21" r="1.6"/><circle cx="23" cy="31" r="1.5"/><circle cx="36" cy="44" r="1.3"/><circle cx="50" cy="48" r="1.4"/><circle cx="62" cy="50" r="1.5"/><circle cx="44" cy="58" r="1.2"/><circle cx="27" cy="12" r="1.2"/><circle cx="55" cy="36" r="1.1"/><circle cx="68" cy="40" r="1.3"/></g></g></g></g>
</defs>
<text x="-0.2" y="159.2" font-size="15.2" font-weight="bold" textLength="8.45" lengthAdjust="spacingAndGlyphs">c</text>
<use href="#ctC" transform="translate(18 169) scale(0.71 0.71)"/>
<use href="#roiC1" transform="translate(91.2 168.2)" />
<rect x="92" y="169" width="70.1" height="70.1" fill="none" stroke="#e02626" stroke-width="1.8"/>
<use href="#roiC2" transform="translate(166.2 168.2)" />
<rect x="167" y="169" width="70.1" height="70.1" fill="none" stroke="#2277bb" stroke-width="1.8"/>
<use href="#ctC" transform="translate(18 244) scale(0.71 0.71)"/>
<use href="#roiC1" transform="translate(91.2 243.2)" />
<rect x="92" y="244" width="70.1" height="70.1" fill="none" stroke="#e02626" stroke-width="1.8"/>
<use href="#roiC2" transform="translate(166.2 243.2)" />
<rect x="167" y="244" width="70.1" height="70.1" fill="none" stroke="#2277bb" stroke-width="1.8"/>
<text x="116.85" y="164.4" font-size="8.7" textLength="20.31" lengthAdjust="spacingAndGlyphs">ROI1</text>
<text x="191.85" y="164.4" font-size="8.7" textLength="20.31" lengthAdjust="spacingAndGlyphs">ROI2</text>
<g transform="rotate(-90 12.9 206.2)"><text x="-2.26" y="206.2" font-size="8.8" textLength="30.32" lengthAdjust="spacingAndGlyphs">Original</text></g>
<g transform="rotate(-90 12.9 277)"><text x="-16.69" y="277" font-size="8.8" textLength="59.18" lengthAdjust="spacingAndGlyphs">Decompressed</text></g>
<line x1="110.5" y1="221" x2="144.5" y2="187.5" stroke="#fff" stroke-width="2" stroke-dasharray="5.4 2.5"/>
<line x1="184.8" y1="187.4" x2="218.4" y2="220.9" stroke="#fff" stroke-width="2" stroke-dasharray="5.4 2.5"/>
<line x1="110.5" y1="296" x2="144.5" y2="262.5" stroke="#fff" stroke-width="2" stroke-dasharray="5.4 2.5"/>
<line x1="184.8" y1="262.4" x2="218.4" y2="295.9" stroke="#fff" stroke-width="2" stroke-dasharray="5.4 2.5"/>
<text x="342.8" y="158.8" font-size="15.2" font-weight="bold" textLength="9.28" lengthAdjust="spacingAndGlyphs">d</text>
<use href="#ctD" transform="translate(362 169) scale(0.7 0.71)"/>
<use href="#ctD" transform="translate(362 244) scale(0.7 0.71)"/>
<defs>
<g id="roiD1"><g clip-path="url(#clip72)"><g filter="url(#bl05)"><path fill="#3c3c3c" d="M54.91 40.09h2.42v2.42h-2.42zM61.26 54.91h2.42v2.42h-2.42z"/><path fill="#505050" d="M59.14 33.73h2.42v2.42h-2.42z"/><path fill="#5a5a5a" d="M21.03 12.56h2.42v2.42h-2.42zM35.85 44.32h2.42v2.42h-2.42z"/><path fill="#646464" d="M46.44 6.2h2.42v2.42h-2.42zM44.32 8.32h2.42v2.42h-2.42zM65.5 8.32h2.42v2.42h-2.42zM25.26 10.44h2.42v2.42h-2.42zM67.61 21.03h2.42v2.42h-2.42zM57.03 33.73h2.42v2.42h-2.42zM54.91 37.97h2.42v2.42h-2.42zM57.03 42.2h2.42v2.42h-2.42zM37.97 44.32h2.42v2.42h-2.42zM59.14 54.91h2.42v2.42h-2.42zM25.26 61.26h2.42v2.42h-2.42z"/><path fill="#6e6e6e" d="M65.5 1.97h2.42v2.42h-2.42zM8.32 4.09h2.42v2.42h-2.42zM25.26 6.2h2.42v2.42h-2.42zM54.91 6.2h2.42v2.42h-2.42zM65.5 6.2h2.42v2.42h-2.42zM23.14 8.32h2.42v2.42h-2.42zM4.09 10.44h2.42v2.42h-2.42zM21.03 10.44h2.42v2.42h-2.42zM16.79 14.67h2.42v2.42h-2.42zM21.03 18.91h2.42v2.42h-2.42zM21.03 21.03h2.42v2.42h-2.42zM29.5 23.14h2.42v2.42h-2.42zM8.32 25.26h2.42v2.42h-2.42zM29.5 25.26h2.42v2.42h-2.42zM61.26 29.5h2.42v2.42h-2.42zM67.61 33.73h2.42v2.42h-2.42zM10.44 42.2h2.42v2.42h-2.42zM44.32 46.44h2.42v2.42h-2.42zM-0.15 50.67h2.42v2.42h-2.42zM61.26 57.03h2.42v2.42h-2.42zM63.38 57.03h2.42v2.42h-2.42zM46.44 61.26h2.42v2.42h-2.42zM31.61 65.5h2.42v2.42h-2.42zM6.2 69.73h2.42v2.42h-2.42z"/><path fill="#787878" d="M48.56 4.09h2.42v2.42h-2.42zM21.03 8.32h2.42v2.42h-2.42zM46.44 8.32h2.42v2.42h-2.42zM23.14 10.44h2.42v2.42h-2.42zM63.38 10.44h2.42v2.42h-2.42zM48.56 12.56h2.42v2.42h-2.42zM50.67 12.56h2.42v2.42h-2.42zM31.61 14.67h2.42v2.42h-2.42zM48.56 14.67h2.42v2.42h-2.42zM65.5 16.79h2.42v2.42h-2.42zM59.14 23.14h2.42v2.42h-2.42zM42.2 25.26h2.42v2.42h-2.42zM12.56 27.38h2.42v2.42h-2.42zM57.03 31.61h2.42v2.42h-2.42zM33.73 33.73h2.42v2.42h-2.42zM44.32 37.97h2.42v2.42h-2.42zM40.09 40.09h2.42v2.42h-2.42zM67.61 50.67h2.42v2.42h-2.42zM6.2 52.79h2.42v2.42h-2.42zM4.09 54.91h2.42v2.42h-2.42zM6.2 54.91h2.42v2.42h-2.42zM-0.15 57.03h2.42v2.42h-2.42zM6.2 57.03h2.42v2.42h-2.42zM16.79 57.03h2.42v2.42h-2.42zM65.5 57.03h2.42v2.42h-2.42zM48.56 63.38h2.42v2.42h-2.42zM61.26 63.38h2.42v2.42h-2.42zM44.32 67.61h2.42v2.42h-2.42z"/><path fill="#828282" d="M1.97 6.2h2.42v2.42h-2.42zM31.61 6.2h2.42v2.42h-2.42zM50.67 6.2h2.42v2.42h-2.42zM1.97 8.32h2.42v2.42h-2.42zM42.2 8.32h2.42v2.42h-2.42zM63.38 8.32h2.42v2.42h-2.42zM52.79 12.56h2.42v2.42h-2.42zM69.73 12.56h2.42v2.42h-2.42zM18.91 14.67h2.42v2.42h-2.42zM21.03 14.67h2.42v2.42h-2.42zM65.5 18.91h2.42v2.42h-2.42zM65.5 21.03h2.42v2.42h-2.42zM40.09 23.14h2.42v2.42h-2.42zM14.67 25.26h2.42v2.42h-2.42zM40.09 25.26h2.42v2.42h-2.42zM-0.15 27.38h2.42v2.42h-2.42zM57.03 27.38h2.42v2.42h-2.42zM46.44 31.61h2.42v2.42h-2.42zM54.91 31.61h2.42v2.42h-2.42zM59.14 31.61h2.42v2.42h-2.42zM18.91 33.73h2.42v2.42h-2.42zM54.91 33.73h2.42v2.42h-2.42zM29.5 35.85h2.42v2.42h-2.42zM10.44 40.09h2.42v2.42h-2.42zM16.79 40.09h2.42v2.42h-2.42zM33.73 40.09h2.42v2.42h-2.42zM12.56 42.2h2.42v2.42h-2.42zM54.91 42.2h2.42v2.42h-2.42zM14.67 46.44h2.42v2.42h-2.42zM42.2 48.56h2.42v2.42h-2.42zM69.73 48.56h2.42v2.42h-2.42zM10.44 50.67h2.42v2.42h-2.42zM42.2 50.67h2.42v2.42h-2.42zM67.61 54.91h2.42v2.42h-2.42zM59.14 57.03h2.42v2.42h-2.42zM25.26 59.14h2.42v2.42h-2.42zM48.56 61.26h2.42v2.42h-2.42zM35.85 63.38h2.42v2.42h-2.42zM59.14 63.38h2.42v2.42h-2.42zM6.2 65.5h2.42v2.42h-2.42zM27.38 65.5h2.42v2.42h-2.42zM35.85 67.61h2.42v2.42h-2.42zM40.09 69.73h2.42v2.42h-2.42z"/><path fill="#8c8c8c" d="M4.09 -0.15h2.42v2.42h-2.42zM16.79 -0.15h2.42v2.42h-2.42zM69.73 -0.15h2.42v2.42h-2.42zM67.61 1.97h2.42v2.42h-2.42zM50.67 4.09h2.42v2.42h-2.42zM23.14 6.2h2.42v2.42h-2.42zM35.85 6.2h2.42v2.42h-2.42zM48.56 6.2h2.42v2.42h-2.42zM63.38 6.2h2.42v2.42h-2.42zM42.2 10.44h2.42v2.42h-2.42zM4.09 12.56h2.42v2.42h-2.42zM10.44 12.56h2.42v2.42h-2.42zM12.56 12.56h2.42v2.42h-2.42zM14.67 12.56h2.42v2.42h-2.42zM16.79 12.56h2.42v2.42h-2.42zM46.44 12.56h2.42v2.42h-2.42zM4.09 14.67h2.42v2.42h-2.42zM50.67 14.67h2.42v2.42h-2.42zM4.09 16.79h2.42v2.42h-2.42zM37.97 16.79h2.42v2.42h-2.42zM48.56 16.79h2.42v2.42h-2.42zM52.79 16.79h2.42v2.42h-2.42zM69.73 16.79h2.42v2.42h-2.42zM23.14 18.91h2.42v2.42h-2.42zM46.44 18.91h2.42v2.42h-2.42zM8.32 21.03h2.42v2.42h-2.42zM57.03 21.03h2.42v2.42h-2.42zM1.97 23.14h2.42v2.42h-2.42zM14.67 23.14h2.42v2.42h-2.42zM4.09 25.26h2.42v2.42h-2.42zM10.44 25.26h2.42v2.42h-2.42zM12.56 25.26h2.42v2.42h-2.42zM10.44 27.38h2.42v2.42h-2.42zM18.91 27.38h2.42v2.42h-2.42zM21.03 27.38h2.42v2.42h-2.42zM6.2 29.5h2.42v2.42h-2.42zM14.67 29.5h2.42v2.42h-2.42zM16.79 29.5h2.42v2.42h-2.42zM35.85 29.5h2.42v2.42h-2.42zM14.67 31.61h2.42v2.42h-2.42zM23.14 31.61h2.42v2.42h-2.42zM46.44 33.73h2.42v2.42h-2.42zM6.2 35.85h2.42v2.42h-2.42zM12.56 35.85h2.42v2.42h-2.42zM46.44 35.85h2.42v2.42h-2.42zM59.14 35.85h2.42v2.42h-2.42zM67.61 35.85h2.42v2.42h-2.42zM12.56 37.97h2.42v2.42h-2.42zM16.79 37.97h2.42v2.42h-2.42zM31.61 37.97h2.42v2.42h-2.42zM46.44 37.97h2.42v2.42h-2.42zM29.5 40.09h2.42v2.42h-2.42zM46.44 40.09h2.42v2.42h-2.42zM57.03 40.09h2.42v2.42h-2.42zM59.14 42.2h2.42v2.42h-2.42zM14.67 44.32h2.42v2.42h-2.42zM54.91 44.32h2.42v2.42h-2.42zM31.61 46.44h2.42v2.42h-2.42zM35.85 46.44h2.42v2.42h-2.42zM50.67 46.44h2.42v2.42h-2.42zM61.26 46.44h2.42v2.42h-2.42zM-0.15 48.56h2.42v2.42h-2.42zM10.44 48.56h2.42v2.42h-2.42zM50.67 48.56h2.42v2.42h-2.42zM35.85 50.67h2.42v2.42h-2.42zM10.44 52.79h2.42v2.42h-2.42zM27.38 52.79h2.42v2.42h-2.42zM37.97 52.79h2.42v2.42h-2.42zM42.2 52.79h2.42v2.42h-2.42zM-0.15 54.91h2.42v2.42h-2.42zM1.97 54.91h2.42v2.42h-2.42zM27.38 54.91h2.42v2.42h-2.42zM48.56 54.91h2.42v2.42h-2.42zM52.79 54.91h2.42v2.42h-2.42zM1.97 57.03h2.42v2.42h-2.42zM21.03 57.03h2.42v2.42h-2.42zM25.26 57.03h2.42v2.42h-2.42zM46.44 59.14h2.42v2.42h-2.42zM48.56 59.14h2.42v2.42h-2.42zM63.38 59.14h2.42v2.42h-2.42zM65.5 59.14h2.42v2.42h-2.42zM23.14 61.26h2.42v2.42h-2.42zM40.09 63.38h2.42v2.42h-2.42zM12.56 65.5h2.42v2.42h-2.42zM29.5 65.5h2.42v2.42h-2.42zM33.73 65.5h2.42v2.42h-2.42zM44.32 65.5h2.42v2.42h-2.42zM57.03 65.5h2.42v2.42h-2.42zM-0.15 67.61h2.42v2.42h-2.42zM37.97 69.73h2.42v2.42h-2.42zM44.32 69.73h2.42v2.42h-2.42z"/><path fill="#969696" d="M67.61 -0.15h2.42v2.42h-2.42zM16.79 4.09h2.42v2.42h-2.42zM35.85 4.09h2.42v2.42h-2.42zM52.79 4.09h2.42v2.42h-2.42zM54.91 4.09h2.42v2.42h-2.42zM65.5 4.09h2.42v2.42h-2.42zM-0.15 6.2h2.42v2.42h-2.42zM12.56 6.2h2.42v2.42h-2.42zM57.03 6.2h2.42v2.42h-2.42zM-0.15 8.32h2.42v2.42h-2.42zM4.09 8.32h2.42v2.42h-2.42zM16.79 8.32h2.42v2.42h-2.42zM35.85 8.32h2.42v2.42h-2.42zM10.44 10.44h2.42v2.42h-2.42zM40.09 10.44h2.42v2.42h-2.42zM44.32 10.44h2.42v2.42h-2.42zM65.5 10.44h2.42v2.42h-2.42zM23.14 12.56h2.42v2.42h-2.42zM25.26 12.56h2.42v2.42h-2.42zM12.56 14.67h2.42v2.42h-2.42zM14.67 14.67h2.42v2.42h-2.42zM33.73 14.67h2.42v2.42h-2.42zM52.79 14.67h2.42v2.42h-2.42zM63.38 14.67h2.42v2.42h-2.42zM65.5 14.67h2.42v2.42h-2.42zM23.14 16.79h2.42v2.42h-2.42zM29.5 16.79h2.42v2.42h-2.42zM1.97 18.91h2.42v2.42h-2.42zM48.56 18.91h2.42v2.42h-2.42zM67.61 18.91h2.42v2.42h-2.42zM69.73 18.91h2.42v2.42h-2.42zM12.56 21.03h2.42v2.42h-2.42zM16.79 23.14h2.42v2.42h-2.42zM48.56 23.14h2.42v2.42h-2.42zM57.03 23.14h2.42v2.42h-2.42zM67.61 23.14h2.42v2.42h-2.42zM6.2 25.26h2.42v2.42h-2.42zM46.44 25.26h2.42v2.42h-2.42zM63.38 25.26h2.42v2.42h-2.42zM1.97 27.38h2.42v2.42h-2.42zM40.09 27.38h2.42v2.42h-2.42zM42.2 27.38h2.42v2.42h-2.42zM59.14 27.38h2.42v2.42h-2.42zM10.44 29.5h2.42v2.42h-2.42zM52.79 29.5h2.42v2.42h-2.42zM59.14 29.5h2.42v2.42h-2.42zM63.38 29.5h2.42v2.42h-2.42zM1.97 31.61h2.42v2.42h-2.42zM4.09 31.61h2.42v2.42h-2.42zM18.91 31.61h2.42v2.42h-2.42zM52.79 31.61h2.42v2.42h-2.42zM61.26 31.61h2.42v2.42h-2.42zM23.14 33.73h2.42v2.42h-2.42zM42.2 33.73h2.42v2.42h-2.42zM61.26 33.73h2.42v2.42h-2.42zM69.73 33.73h2.42v2.42h-2.42zM44.32 35.85h2.42v2.42h-2.42zM54.91 35.85h2.42v2.42h-2.42zM1.97 40.09h2.42v2.42h-2.42zM25.26 40.09h2.42v2.42h-2.42zM46.44 42.2h2.42v2.42h-2.42zM61.26 42.2h2.42v2.42h-2.42zM21.03 44.32h2.42v2.42h-2.42zM33.73 44.32h2.42v2.42h-2.42zM63.38 44.32h2.42v2.42h-2.42zM-0.15 46.44h2.42v2.42h-2.42zM59.14 46.44h2.42v2.42h-2.42zM1.97 48.56h2.42v2.42h-2.42zM67.61 48.56h2.42v2.42h-2.42zM1.97 50.67h2.42v2.42h-2.42zM18.91 50.67h2.42v2.42h-2.42zM21.03 50.67h2.42v2.42h-2.42zM27.38 50.67h2.42v2.42h-2.42zM-0.15 52.79h2.42v2.42h-2.42zM8.32 52.79h2.42v2.42h-2.42zM31.61 52.79h2.42v2.42h-2.42zM61.26 52.79h2.42v2.42h-2.42zM31.61 54.91h2.42v2.42h-2.42zM54.91 54.91h2.42v2.42h-2.42zM4.09 57.03h2.42v2.42h-2.42zM18.91 57.03h2.42v2.42h-2.42zM27.38 57.03h2.42v2.42h-2.42zM-0.15 59.14h2.42v2.42h-2.42zM27.38 59.14h2.42v2.42h-2.42zM16.79 61.26h2.42v2.42h-2.42zM21.03 61.26h2.42v2.42h-2.42zM27.38 61.26h2.42v2.42h-2.42zM44.32 61.26h2.42v2.42h-2.42zM6.2 63.38h2.42v2.42h-2.42zM21.03 63.38h2.42v2.42h-2.42zM44.32 63.38h2.42v2.42h-2.42zM63.38 63.38h2.42v2.42h-2.42zM67.61 63.38h2.42v2.42h-2.42zM-0.15 65.5h2.42v2.42h-2.42zM1.97 65.5h2.42v2.42h-2.42zM59.14 65.5h2.42v2.42h-2.42zM21.03 67.61h2.42v2.42h-2.42zM27.38 67.61h2.42v2.42h-2.42zM57.03 67.61h2.42v2.42h-2.42zM1.97 69.73h2.42v2.42h-2.42zM27.38 69.73h2.42v2.42h-2.42zM33.73 69.73h2.42v2.42h-2.42z"/><path fill="#a0a0a0" d="M6.2 -0.15h2.42v2.42h-2.42zM46.44 -0.15h2.42v2.42h-2.42zM65.5 -0.15h2.42v2.42h-2.42zM16.79 1.97h2.42v2.42h-2.42zM18.91 1.97h2.42v2.42h-2.42zM42.2 1.97h2.42v2.42h-2.42zM63.38 1.97h2.42v2.42h-2.42zM-0.15 4.09h2.42v2.42h-2.42zM44.32 6.2h2.42v2.42h-2.42zM40.09 8.32h2.42v2.42h-2.42zM8.32 10.44h2.42v2.42h-2.42zM12.56 10.44h2.42v2.42h-2.42zM35.85 12.56h2.42v2.42h-2.42zM44.32 12.56h2.42v2.42h-2.42zM63.38 12.56h2.42v2.42h-2.42zM10.44 14.67h2.42v2.42h-2.42zM29.5 14.67h2.42v2.42h-2.42zM35.85 14.67h2.42v2.42h-2.42zM59.14 14.67h2.42v2.42h-2.42zM25.26 16.79h2.42v2.42h-2.42zM31.61 16.79h2.42v2.42h-2.42zM50.67 16.79h2.42v2.42h-2.42zM-0.15 18.91h2.42v2.42h-2.42zM8.32 18.91h2.42v2.42h-2.42zM37.97 18.91h2.42v2.42h-2.42zM16.79 21.03h2.42v2.42h-2.42zM18.91 21.03h2.42v2.42h-2.42zM25.26 21.03h2.42v2.42h-2.42zM50.67 21.03h2.42v2.42h-2.42zM54.91 21.03h2.42v2.42h-2.42zM-0.15 23.14h2.42v2.42h-2.42zM18.91 23.14h2.42v2.42h-2.42zM21.03 23.14h2.42v2.42h-2.42zM50.67 23.14h2.42v2.42h-2.42zM16.79 25.26h2.42v2.42h-2.42zM33.73 25.26h2.42v2.42h-2.42zM37.97 25.26h2.42v2.42h-2.42zM50.67 25.26h2.42v2.42h-2.42zM52.79 25.26h2.42v2.42h-2.42zM59.14 25.26h2.42v2.42h-2.42zM61.26 25.26h2.42v2.42h-2.42zM4.09 27.38h2.42v2.42h-2.42zM14.67 27.38h2.42v2.42h-2.42zM16.79 27.38h2.42v2.42h-2.42zM54.91 27.38h2.42v2.42h-2.42zM-0.15 29.5h2.42v2.42h-2.42zM4.09 29.5h2.42v2.42h-2.42zM8.32 29.5h2.42v2.42h-2.42zM18.91 29.5h2.42v2.42h-2.42zM65.5 29.5h2.42v2.42h-2.42zM-0.15 31.61h2.42v2.42h-2.42zM10.44 31.61h2.42v2.42h-2.42zM12.56 31.61h2.42v2.42h-2.42zM25.26 31.61h2.42v2.42h-2.42zM29.5 31.61h2.42v2.42h-2.42zM35.85 31.61h2.42v2.42h-2.42zM48.56 31.61h2.42v2.42h-2.42zM63.38 31.61h2.42v2.42h-2.42zM6.2 33.73h2.42v2.42h-2.42zM8.32 33.73h2.42v2.42h-2.42zM10.44 33.73h2.42v2.42h-2.42zM21.03 33.73h2.42v2.42h-2.42zM48.56 33.73h2.42v2.42h-2.42zM8.32 35.85h2.42v2.42h-2.42zM10.44 35.85h2.42v2.42h-2.42zM16.79 35.85h2.42v2.42h-2.42zM31.61 35.85h2.42v2.42h-2.42zM35.85 35.85h2.42v2.42h-2.42zM50.67 35.85h2.42v2.42h-2.42zM1.97 37.97h2.42v2.42h-2.42zM25.26 37.97h2.42v2.42h-2.42zM29.5 37.97h2.42v2.42h-2.42zM33.73 37.97h2.42v2.42h-2.42zM42.2 37.97h2.42v2.42h-2.42zM52.79 37.97h2.42v2.42h-2.42zM67.61 37.97h2.42v2.42h-2.42zM-0.15 40.09h2.42v2.42h-2.42zM12.56 40.09h2.42v2.42h-2.42zM14.67 40.09h2.42v2.42h-2.42zM48.56 40.09h2.42v2.42h-2.42zM52.79 40.09h2.42v2.42h-2.42zM29.5 42.2h2.42v2.42h-2.42zM-0.15 44.32h2.42v2.42h-2.42zM8.32 44.32h2.42v2.42h-2.42zM61.26 44.32h2.42v2.42h-2.42zM12.56 46.44h2.42v2.42h-2.42zM33.73 46.44h2.42v2.42h-2.42zM21.03 48.56h2.42v2.42h-2.42zM27.38 48.56h2.42v2.42h-2.42zM29.5 48.56h2.42v2.42h-2.42zM40.09 48.56h2.42v2.42h-2.42zM37.97 50.67h2.42v2.42h-2.42zM50.67 50.67h2.42v2.42h-2.42zM52.79 50.67h2.42v2.42h-2.42zM65.5 50.67h2.42v2.42h-2.42zM29.5 52.79h2.42v2.42h-2.42zM59.14 52.79h2.42v2.42h-2.42zM25.26 54.91h2.42v2.42h-2.42zM29.5 54.91h2.42v2.42h-2.42zM33.73 54.91h2.42v2.42h-2.42zM37.97 54.91h2.42v2.42h-2.42zM42.2 54.91h2.42v2.42h-2.42zM63.38 54.91h2.42v2.42h-2.42zM69.73 54.91h2.42v2.42h-2.42zM14.67 57.03h2.42v2.42h-2.42zM35.85 57.03h2.42v2.42h-2.42zM46.44 57.03h2.42v2.42h-2.42zM48.56 57.03h2.42v2.42h-2.42zM18.91 61.26h2.42v2.42h-2.42zM37.97 61.26h2.42v2.42h-2.42zM63.38 61.26h2.42v2.42h-2.42zM8.32 63.38h2.42v2.42h-2.42zM23.14 63.38h2.42v2.42h-2.42zM46.44 63.38h2.42v2.42h-2.42zM50.67 63.38h2.42v2.42h-2.42zM65.5 63.38h2.42v2.42h-2.42zM4.09 65.5h2.42v2.42h-2.42zM35.85 65.5h2.42v2.42h-2.42zM61.26 65.5h2.42v2.42h-2.42zM63.38 65.5h2.42v2.42h-2.42zM33.73 67.61h2.42v2.42h-2.42zM4.09 69.73h2.42v2.42h-2.42zM10.44 69.73h2.42v2.42h-2.42zM25.26 69.73h2.42v2.42h-2.42z"/><path fill="#aaaaaa" d="M33.73 -0.15h2.42v2.42h-2.42zM29.5 1.97h2.42v2.42h-2.42zM44.32 1.97h2.42v2.42h-2.42zM57.03 1.97h2.42v2.42h-2.42zM1.97 4.09h2.42v2.42h-2.42zM6.2 4.09h2.42v2.42h-2.42zM18.91 4.09h2.42v2.42h-2.42zM46.44 4.09h2.42v2.42h-2.42zM63.38 4.09h2.42v2.42h-2.42zM8.32 6.2h2.42v2.42h-2.42zM10.44 6.2h2.42v2.42h-2.42zM33.73 6.2h2.42v2.42h-2.42zM52.79 6.2h2.42v2.42h-2.42zM12.56 8.32h2.42v2.42h-2.42zM14.67 8.32h2.42v2.42h-2.42zM25.26 8.32h2.42v2.42h-2.42zM48.56 8.32h2.42v2.42h-2.42zM50.67 8.32h2.42v2.42h-2.42zM52.79 8.32h2.42v2.42h-2.42zM69.73 8.32h2.42v2.42h-2.42zM27.38 10.44h2.42v2.42h-2.42zM31.61 10.44h2.42v2.42h-2.42zM50.67 10.44h2.42v2.42h-2.42zM52.79 10.44h2.42v2.42h-2.42zM59.14 10.44h2.42v2.42h-2.42zM61.26 10.44h2.42v2.42h-2.42zM8.32 12.56h2.42v2.42h-2.42zM27.38 12.56h2.42v2.42h-2.42zM37.97 12.56h2.42v2.42h-2.42zM40.09 12.56h2.42v2.42h-2.42zM59.14 12.56h2.42v2.42h-2.42zM8.32 14.67h2.42v2.42h-2.42zM-0.15 16.79h2.42v2.42h-2.42zM8.32 16.79h2.42v2.42h-2.42zM46.44 16.79h2.42v2.42h-2.42zM54.91 16.79h2.42v2.42h-2.42zM57.03 16.79h2.42v2.42h-2.42zM63.38 16.79h2.42v2.42h-2.42zM4.09 18.91h2.42v2.42h-2.42zM25.26 18.91h2.42v2.42h-2.42zM44.32 18.91h2.42v2.42h-2.42zM-0.15 21.03h2.42v2.42h-2.42zM6.2 21.03h2.42v2.42h-2.42zM27.38 21.03h2.42v2.42h-2.42zM37.97 21.03h2.42v2.42h-2.42zM4.09 23.14h2.42v2.42h-2.42zM6.2 23.14h2.42v2.42h-2.42zM8.32 23.14h2.42v2.42h-2.42zM12.56 23.14h2.42v2.42h-2.42zM44.32 23.14h2.42v2.42h-2.42zM52.79 23.14h2.42v2.42h-2.42zM54.91 23.14h2.42v2.42h-2.42zM65.5 23.14h2.42v2.42h-2.42zM-0.15 25.26h2.42v2.42h-2.42zM21.03 25.26h2.42v2.42h-2.42zM31.61 25.26h2.42v2.42h-2.42zM44.32 25.26h2.42v2.42h-2.42zM48.56 25.26h2.42v2.42h-2.42zM69.73 25.26h2.42v2.42h-2.42zM8.32 27.38h2.42v2.42h-2.42zM23.14 27.38h2.42v2.42h-2.42zM31.61 27.38h2.42v2.42h-2.42zM46.44 27.38h2.42v2.42h-2.42zM52.79 27.38h2.42v2.42h-2.42zM67.61 29.5h2.42v2.42h-2.42zM6.2 31.61h2.42v2.42h-2.42zM27.38 31.61h2.42v2.42h-2.42zM37.97 31.61h2.42v2.42h-2.42zM1.97 33.73h2.42v2.42h-2.42zM12.56 33.73h2.42v2.42h-2.42zM35.85 33.73h2.42v2.42h-2.42zM44.32 33.73h2.42v2.42h-2.42zM27.38 35.85h2.42v2.42h-2.42zM33.73 35.85h2.42v2.42h-2.42zM42.2 35.85h2.42v2.42h-2.42zM57.03 35.85h2.42v2.42h-2.42zM61.26 35.85h2.42v2.42h-2.42zM69.73 35.85h2.42v2.42h-2.42zM40.09 37.97h2.42v2.42h-2.42zM65.5 37.97h2.42v2.42h-2.42zM37.97 40.09h2.42v2.42h-2.42zM42.2 40.09h2.42v2.42h-2.42zM44.32 40.09h2.42v2.42h-2.42zM1.97 42.2h2.42v2.42h-2.42zM27.38 42.2h2.42v2.42h-2.42zM40.09 42.2h2.42v2.42h-2.42zM12.56 44.32h2.42v2.42h-2.42zM18.91 44.32h2.42v2.42h-2.42zM27.38 44.32h2.42v2.42h-2.42zM40.09 44.32h2.42v2.42h-2.42zM65.5 44.32h2.42v2.42h-2.42zM1.97 46.44h2.42v2.42h-2.42zM4.09 46.44h2.42v2.42h-2.42zM8.32 46.44h2.42v2.42h-2.42zM16.79 46.44h2.42v2.42h-2.42zM57.03 46.44h2.42v2.42h-2.42zM63.38 46.44h2.42v2.42h-2.42zM18.91 48.56h2.42v2.42h-2.42zM25.26 48.56h2.42v2.42h-2.42zM31.61 48.56h2.42v2.42h-2.42zM33.73 48.56h2.42v2.42h-2.42zM35.85 48.56h2.42v2.42h-2.42zM61.26 48.56h2.42v2.42h-2.42zM6.2 50.67h2.42v2.42h-2.42zM8.32 50.67h2.42v2.42h-2.42zM63.38 52.79h2.42v2.42h-2.42zM10.44 54.91h2.42v2.42h-2.42zM23.14 54.91h2.42v2.42h-2.42zM40.09 54.91h2.42v2.42h-2.42zM46.44 54.91h2.42v2.42h-2.42zM23.14 57.03h2.42v2.42h-2.42zM29.5 57.03h2.42v2.42h-2.42zM44.32 57.03h2.42v2.42h-2.42zM52.79 57.03h2.42v2.42h-2.42zM12.56 59.14h2.42v2.42h-2.42zM18.91 59.14h2.42v2.42h-2.42zM31.61 59.14h2.42v2.42h-2.42zM52.79 59.14h2.42v2.42h-2.42zM59.14 59.14h2.42v2.42h-2.42zM10.44 61.26h2.42v2.42h-2.42zM12.56 61.26h2.42v2.42h-2.42zM35.85 61.26h2.42v2.42h-2.42zM40.09 61.26h2.42v2.42h-2.42zM54.91 61.26h2.42v2.42h-2.42zM65.5 61.26h2.42v2.42h-2.42zM1.97 63.38h2.42v2.42h-2.42zM18.91 63.38h2.42v2.42h-2.42zM33.73 63.38h2.42v2.42h-2.42zM37.97 63.38h2.42v2.42h-2.42zM52.79 63.38h2.42v2.42h-2.42zM1.97 67.61h2.42v2.42h-2.42zM37.97 67.61h2.42v2.42h-2.42zM54.91 67.61h2.42v2.42h-2.42zM61.26 67.61h2.42v2.42h-2.42zM23.14 69.73h2.42v2.42h-2.42z"/><path fill="#b4b4b4" d="M10.44 -0.15h2.42v2.42h-2.42zM14.67 -0.15h2.42v2.42h-2.42zM18.91 -0.15h2.42v2.42h-2.42zM21.03 -0.15h2.42v2.42h-2.42zM25.26 -0.15h2.42v2.42h-2.42zM29.5 -0.15h2.42v2.42h-2.42zM37.97 -0.15h2.42v2.42h-2.42zM44.32 -0.15h2.42v2.42h-2.42zM54.91 -0.15h2.42v2.42h-2.42zM57.03 -0.15h2.42v2.42h-2.42zM63.38 -0.15h2.42v2.42h-2.42zM69.73 1.97h2.42v2.42h-2.42zM37.97 4.09h2.42v2.42h-2.42zM57.03 4.09h2.42v2.42h-2.42zM59.14 4.09h2.42v2.42h-2.42zM67.61 4.09h2.42v2.42h-2.42zM14.67 6.2h2.42v2.42h-2.42zM16.79 6.2h2.42v2.42h-2.42zM21.03 6.2h2.42v2.42h-2.42zM18.91 8.32h2.42v2.42h-2.42zM33.73 10.44h2.42v2.42h-2.42zM35.85 10.44h2.42v2.42h-2.42zM57.03 10.44h2.42v2.42h-2.42zM18.91 12.56h2.42v2.42h-2.42zM29.5 12.56h2.42v2.42h-2.42zM33.73 12.56h2.42v2.42h-2.42zM42.2 14.67h2.42v2.42h-2.42zM46.44 14.67h2.42v2.42h-2.42zM54.91 14.67h2.42v2.42h-2.42zM57.03 14.67h2.42v2.42h-2.42zM69.73 14.67h2.42v2.42h-2.42zM10.44 16.79h2.42v2.42h-2.42zM12.56 16.79h2.42v2.42h-2.42zM18.91 16.79h2.42v2.42h-2.42zM59.14 16.79h2.42v2.42h-2.42zM10.44 18.91h2.42v2.42h-2.42zM35.85 18.91h2.42v2.42h-2.42zM1.97 21.03h2.42v2.42h-2.42zM14.67 21.03h2.42v2.42h-2.42zM23.14 21.03h2.42v2.42h-2.42zM40.09 21.03h2.42v2.42h-2.42zM44.32 21.03h2.42v2.42h-2.42zM48.56 21.03h2.42v2.42h-2.42zM52.79 21.03h2.42v2.42h-2.42zM63.38 21.03h2.42v2.42h-2.42zM69.73 21.03h2.42v2.42h-2.42zM31.61 23.14h2.42v2.42h-2.42zM42.2 23.14h2.42v2.42h-2.42zM61.26 23.14h2.42v2.42h-2.42zM69.73 23.14h2.42v2.42h-2.42zM23.14 25.26h2.42v2.42h-2.42zM29.5 27.38h2.42v2.42h-2.42zM12.56 29.5h2.42v2.42h-2.42zM23.14 29.5h2.42v2.42h-2.42zM25.26 29.5h2.42v2.42h-2.42zM27.38 29.5h2.42v2.42h-2.42zM29.5 29.5h2.42v2.42h-2.42zM40.09 29.5h2.42v2.42h-2.42zM42.2 29.5h2.42v2.42h-2.42zM46.44 29.5h2.42v2.42h-2.42zM54.91 29.5h2.42v2.42h-2.42zM8.32 31.61h2.42v2.42h-2.42zM16.79 31.61h2.42v2.42h-2.42zM21.03 31.61h2.42v2.42h-2.42zM33.73 31.61h2.42v2.42h-2.42zM-0.15 33.73h2.42v2.42h-2.42zM31.61 33.73h2.42v2.42h-2.42zM50.67 33.73h2.42v2.42h-2.42zM65.5 33.73h2.42v2.42h-2.42zM14.67 35.85h2.42v2.42h-2.42zM40.09 35.85h2.42v2.42h-2.42zM10.44 37.97h2.42v2.42h-2.42zM14.67 37.97h2.42v2.42h-2.42zM37.97 37.97h2.42v2.42h-2.42zM50.67 37.97h2.42v2.42h-2.42zM8.32 40.09h2.42v2.42h-2.42zM21.03 40.09h2.42v2.42h-2.42zM65.5 40.09h2.42v2.42h-2.42zM4.09 42.2h2.42v2.42h-2.42zM8.32 42.2h2.42v2.42h-2.42zM14.67 42.2h2.42v2.42h-2.42zM16.79 42.2h2.42v2.42h-2.42zM48.56 42.2h2.42v2.42h-2.42zM1.97 44.32h2.42v2.42h-2.42zM6.2 44.32h2.42v2.42h-2.42zM23.14 44.32h2.42v2.42h-2.42zM57.03 44.32h2.42v2.42h-2.42zM59.14 44.32h2.42v2.42h-2.42zM6.2 46.44h2.42v2.42h-2.42zM10.44 46.44h2.42v2.42h-2.42zM29.5 46.44h2.42v2.42h-2.42zM42.2 46.44h2.42v2.42h-2.42zM54.91 46.44h2.42v2.42h-2.42zM69.73 46.44h2.42v2.42h-2.42zM6.2 48.56h2.42v2.42h-2.42zM44.32 48.56h2.42v2.42h-2.42zM63.38 48.56h2.42v2.42h-2.42zM16.79 50.67h2.42v2.42h-2.42zM33.73 50.67h2.42v2.42h-2.42zM63.38 50.67h2.42v2.42h-2.42zM4.09 52.79h2.42v2.42h-2.42zM14.67 52.79h2.42v2.42h-2.42zM33.73 52.79h2.42v2.42h-2.42zM40.09 52.79h2.42v2.42h-2.42zM48.56 52.79h2.42v2.42h-2.42zM67.61 52.79h2.42v2.42h-2.42zM12.56 54.91h2.42v2.42h-2.42zM35.85 54.91h2.42v2.42h-2.42zM57.03 54.91h2.42v2.42h-2.42zM10.44 57.03h2.42v2.42h-2.42zM12.56 57.03h2.42v2.42h-2.42zM37.97 57.03h2.42v2.42h-2.42zM10.44 59.14h2.42v2.42h-2.42zM16.79 59.14h2.42v2.42h-2.42zM21.03 59.14h2.42v2.42h-2.42zM40.09 59.14h2.42v2.42h-2.42zM50.67 59.14h2.42v2.42h-2.42zM8.32 61.26h2.42v2.42h-2.42zM31.61 61.26h2.42v2.42h-2.42zM57.03 61.26h2.42v2.42h-2.42zM4.09 63.38h2.42v2.42h-2.42zM10.44 63.38h2.42v2.42h-2.42zM31.61 63.38h2.42v2.42h-2.42zM57.03 63.38h2.42v2.42h-2.42zM10.44 65.5h2.42v2.42h-2.42zM14.67 65.5h2.42v2.42h-2.42zM23.14 65.5h2.42v2.42h-2.42zM25.26 65.5h2.42v2.42h-2.42zM46.44 65.5h2.42v2.42h-2.42zM48.56 65.5h2.42v2.42h-2.42zM31.61 67.61h2.42v2.42h-2.42zM42.2 67.61h2.42v2.42h-2.42zM8.32 69.73h2.42v2.42h-2.42zM35.85 69.73h2.42v2.42h-2.42z"/><path fill="#bebebe" d="M61.26 -0.15h2.42v2.42h-2.42zM8.32 1.97h2.42v2.42h-2.42zM10.44 1.97h2.42v2.42h-2.42zM40.09 1.97h2.42v2.42h-2.42zM46.44 1.97h2.42v2.42h-2.42zM52.79 1.97h2.42v2.42h-2.42zM31.61 4.09h2.42v2.42h-2.42zM29.5 6.2h2.42v2.42h-2.42zM33.73 8.32h2.42v2.42h-2.42zM57.03 8.32h2.42v2.42h-2.42zM1.97 10.44h2.42v2.42h-2.42zM6.2 10.44h2.42v2.42h-2.42zM29.5 10.44h2.42v2.42h-2.42zM54.91 10.44h2.42v2.42h-2.42zM69.73 10.44h2.42v2.42h-2.42zM-0.15 12.56h2.42v2.42h-2.42zM1.97 12.56h2.42v2.42h-2.42zM6.2 12.56h2.42v2.42h-2.42zM42.2 12.56h2.42v2.42h-2.42zM57.03 12.56h2.42v2.42h-2.42zM65.5 12.56h2.42v2.42h-2.42zM23.14 14.67h2.42v2.42h-2.42zM61.26 14.67h2.42v2.42h-2.42zM1.97 16.79h2.42v2.42h-2.42zM14.67 16.79h2.42v2.42h-2.42zM18.91 18.91h2.42v2.42h-2.42zM33.73 18.91h2.42v2.42h-2.42zM40.09 18.91h2.42v2.42h-2.42zM61.26 18.91h2.42v2.42h-2.42zM63.38 18.91h2.42v2.42h-2.42zM10.44 21.03h2.42v2.42h-2.42zM46.44 21.03h2.42v2.42h-2.42zM59.14 21.03h2.42v2.42h-2.42zM10.44 23.14h2.42v2.42h-2.42zM23.14 23.14h2.42v2.42h-2.42zM46.44 23.14h2.42v2.42h-2.42zM27.38 25.26h2.42v2.42h-2.42zM65.5 25.26h2.42v2.42h-2.42zM33.73 27.38h2.42v2.42h-2.42zM35.85 27.38h2.42v2.42h-2.42zM50.67 27.38h2.42v2.42h-2.42zM1.97 29.5h2.42v2.42h-2.42zM57.03 29.5h2.42v2.42h-2.42zM65.5 31.61h2.42v2.42h-2.42zM27.38 33.73h2.42v2.42h-2.42zM29.5 33.73h2.42v2.42h-2.42zM37.97 33.73h2.42v2.42h-2.42zM40.09 33.73h2.42v2.42h-2.42zM52.79 33.73h2.42v2.42h-2.42zM1.97 35.85h2.42v2.42h-2.42zM4.09 35.85h2.42v2.42h-2.42zM18.91 35.85h2.42v2.42h-2.42zM25.26 35.85h2.42v2.42h-2.42zM-0.15 37.97h2.42v2.42h-2.42zM48.56 37.97h2.42v2.42h-2.42zM69.73 37.97h2.42v2.42h-2.42zM23.14 40.09h2.42v2.42h-2.42zM31.61 40.09h2.42v2.42h-2.42zM50.67 40.09h2.42v2.42h-2.42zM59.14 40.09h2.42v2.42h-2.42zM61.26 40.09h2.42v2.42h-2.42zM18.91 42.2h2.42v2.42h-2.42zM21.03 42.2h2.42v2.42h-2.42zM33.73 42.2h2.42v2.42h-2.42zM63.38 42.2h2.42v2.42h-2.42zM69.73 42.2h2.42v2.42h-2.42zM31.61 44.32h2.42v2.42h-2.42zM67.61 44.32h2.42v2.42h-2.42zM23.14 46.44h2.42v2.42h-2.42zM4.09 48.56h2.42v2.42h-2.42zM8.32 48.56h2.42v2.42h-2.42zM14.67 48.56h2.42v2.42h-2.42zM16.79 48.56h2.42v2.42h-2.42zM37.97 48.56h2.42v2.42h-2.42zM52.79 48.56h2.42v2.42h-2.42zM57.03 48.56h2.42v2.42h-2.42zM59.14 48.56h2.42v2.42h-2.42zM25.26 50.67h2.42v2.42h-2.42zM40.09 50.67h2.42v2.42h-2.42zM1.97 52.79h2.42v2.42h-2.42zM52.79 52.79h2.42v2.42h-2.42zM57.03 52.79h2.42v2.42h-2.42zM14.67 54.91h2.42v2.42h-2.42zM50.67 54.91h2.42v2.42h-2.42zM65.5 54.91h2.42v2.42h-2.42zM33.73 57.03h2.42v2.42h-2.42zM67.61 57.03h2.42v2.42h-2.42zM14.67 59.14h2.42v2.42h-2.42zM29.5 59.14h2.42v2.42h-2.42zM33.73 59.14h2.42v2.42h-2.42zM37.97 59.14h2.42v2.42h-2.42zM61.26 59.14h2.42v2.42h-2.42zM29.5 61.26h2.42v2.42h-2.42zM-0.15 63.38h2.42v2.42h-2.42zM16.79 63.38h2.42v2.42h-2.42zM8.32 65.5h2.42v2.42h-2.42zM42.2 65.5h2.42v2.42h-2.42zM10.44 67.61h2.42v2.42h-2.42zM25.26 67.61h2.42v2.42h-2.42zM29.5 67.61h2.42v2.42h-2.42zM40.09 67.61h2.42v2.42h-2.42zM46.44 67.61h2.42v2.42h-2.42zM59.14 67.61h2.42v2.42h-2.42zM69.73 67.61h2.42v2.42h-2.42zM-0.15 69.73h2.42v2.42h-2.42zM16.79 69.73h2.42v2.42h-2.42zM21.03 69.73h2.42v2.42h-2.42zM57.03 69.73h2.42v2.42h-2.42zM61.26 69.73h2.42v2.42h-2.42zM65.5 69.73h2.42v2.42h-2.42z"/><path fill="#c8c8c8" d="M1.97 -0.15h2.42v2.42h-2.42zM8.32 -0.15h2.42v2.42h-2.42zM12.56 -0.15h2.42v2.42h-2.42zM27.38 -0.15h2.42v2.42h-2.42zM35.85 -0.15h2.42v2.42h-2.42zM42.2 -0.15h2.42v2.42h-2.42zM48.56 -0.15h2.42v2.42h-2.42zM59.14 -0.15h2.42v2.42h-2.42zM35.85 1.97h2.42v2.42h-2.42zM37.97 1.97h2.42v2.42h-2.42zM50.67 1.97h2.42v2.42h-2.42zM59.14 1.97h2.42v2.42h-2.42zM10.44 4.09h2.42v2.42h-2.42zM21.03 4.09h2.42v2.42h-2.42zM25.26 4.09h2.42v2.42h-2.42zM27.38 4.09h2.42v2.42h-2.42zM44.32 4.09h2.42v2.42h-2.42zM69.73 4.09h2.42v2.42h-2.42zM42.2 6.2h2.42v2.42h-2.42zM67.61 6.2h2.42v2.42h-2.42zM69.73 6.2h2.42v2.42h-2.42zM37.97 8.32h2.42v2.42h-2.42zM67.61 8.32h2.42v2.42h-2.42zM14.67 10.44h2.42v2.42h-2.42zM16.79 10.44h2.42v2.42h-2.42zM37.97 10.44h2.42v2.42h-2.42zM31.61 12.56h2.42v2.42h-2.42zM54.91 12.56h2.42v2.42h-2.42zM-0.15 14.67h2.42v2.42h-2.42zM40.09 14.67h2.42v2.42h-2.42zM21.03 16.79h2.42v2.42h-2.42zM27.38 16.79h2.42v2.42h-2.42zM33.73 16.79h2.42v2.42h-2.42zM35.85 16.79h2.42v2.42h-2.42zM40.09 16.79h2.42v2.42h-2.42zM67.61 16.79h2.42v2.42h-2.42zM27.38 18.91h2.42v2.42h-2.42zM31.61 18.91h2.42v2.42h-2.42zM50.67 18.91h2.42v2.42h-2.42zM57.03 18.91h2.42v2.42h-2.42zM61.26 21.03h2.42v2.42h-2.42zM33.73 23.14h2.42v2.42h-2.42zM37.97 23.14h2.42v2.42h-2.42zM63.38 23.14h2.42v2.42h-2.42zM1.97 25.26h2.42v2.42h-2.42zM54.91 25.26h2.42v2.42h-2.42zM57.03 25.26h2.42v2.42h-2.42zM27.38 27.38h2.42v2.42h-2.42zM63.38 27.38h2.42v2.42h-2.42zM65.5 27.38h2.42v2.42h-2.42zM44.32 31.61h2.42v2.42h-2.42zM50.67 31.61h2.42v2.42h-2.42zM4.09 33.73h2.42v2.42h-2.42zM16.79 33.73h2.42v2.42h-2.42zM25.26 33.73h2.42v2.42h-2.42zM52.79 35.85h2.42v2.42h-2.42zM4.09 37.97h2.42v2.42h-2.42zM6.2 37.97h2.42v2.42h-2.42zM57.03 37.97h2.42v2.42h-2.42zM4.09 40.09h2.42v2.42h-2.42zM18.91 40.09h2.42v2.42h-2.42zM27.38 40.09h2.42v2.42h-2.42zM23.14 42.2h2.42v2.42h-2.42zM31.61 42.2h2.42v2.42h-2.42zM44.32 42.2h2.42v2.42h-2.42zM10.44 44.32h2.42v2.42h-2.42zM25.26 44.32h2.42v2.42h-2.42zM29.5 44.32h2.42v2.42h-2.42zM50.67 44.32h2.42v2.42h-2.42zM25.26 46.44h2.42v2.42h-2.42zM27.38 46.44h2.42v2.42h-2.42zM37.97 46.44h2.42v2.42h-2.42zM40.09 46.44h2.42v2.42h-2.42zM46.44 46.44h2.42v2.42h-2.42zM67.61 46.44h2.42v2.42h-2.42zM12.56 48.56h2.42v2.42h-2.42zM48.56 48.56h2.42v2.42h-2.42zM54.91 48.56h2.42v2.42h-2.42zM4.09 50.67h2.42v2.42h-2.42zM65.5 52.79h2.42v2.42h-2.42zM8.32 54.91h2.42v2.42h-2.42zM21.03 54.91h2.42v2.42h-2.42zM8.32 57.03h2.42v2.42h-2.42zM31.61 57.03h2.42v2.42h-2.42zM42.2 57.03h2.42v2.42h-2.42zM50.67 57.03h2.42v2.42h-2.42zM54.91 57.03h2.42v2.42h-2.42zM6.2 59.14h2.42v2.42h-2.42zM67.61 59.14h2.42v2.42h-2.42zM6.2 61.26h2.42v2.42h-2.42zM33.73 61.26h2.42v2.42h-2.42zM52.79 61.26h2.42v2.42h-2.42zM59.14 61.26h2.42v2.42h-2.42zM25.26 63.38h2.42v2.42h-2.42zM69.73 63.38h2.42v2.42h-2.42zM18.91 65.5h2.42v2.42h-2.42zM21.03 65.5h2.42v2.42h-2.42zM37.97 65.5h2.42v2.42h-2.42zM67.61 65.5h2.42v2.42h-2.42zM12.56 67.61h2.42v2.42h-2.42zM23.14 67.61h2.42v2.42h-2.42zM48.56 67.61h2.42v2.42h-2.42zM50.67 67.61h2.42v2.42h-2.42zM52.79 67.61h2.42v2.42h-2.42zM63.38 67.61h2.42v2.42h-2.42zM12.56 69.73h2.42v2.42h-2.42zM18.91 69.73h2.42v2.42h-2.42zM42.2 69.73h2.42v2.42h-2.42zM52.79 69.73h2.42v2.42h-2.42zM59.14 69.73h2.42v2.42h-2.42z"/><path fill="#d2d2d2" d="M-0.15 -0.15h2.42v2.42h-2.42zM50.67 -0.15h2.42v2.42h-2.42zM4.09 1.97h2.42v2.42h-2.42zM6.2 1.97h2.42v2.42h-2.42zM25.26 1.97h2.42v2.42h-2.42zM27.38 1.97h2.42v2.42h-2.42zM48.56 1.97h2.42v2.42h-2.42zM54.91 1.97h2.42v2.42h-2.42zM4.09 4.09h2.42v2.42h-2.42zM40.09 4.09h2.42v2.42h-2.42zM61.26 4.09h2.42v2.42h-2.42zM27.38 6.2h2.42v2.42h-2.42zM8.32 8.32h2.42v2.42h-2.42zM31.61 8.32h2.42v2.42h-2.42zM54.91 8.32h2.42v2.42h-2.42zM59.14 8.32h2.42v2.42h-2.42zM-0.15 10.44h2.42v2.42h-2.42zM18.91 10.44h2.42v2.42h-2.42zM48.56 10.44h2.42v2.42h-2.42zM61.26 12.56h2.42v2.42h-2.42zM67.61 12.56h2.42v2.42h-2.42zM6.2 14.67h2.42v2.42h-2.42zM44.32 14.67h2.42v2.42h-2.42zM16.79 16.79h2.42v2.42h-2.42zM61.26 16.79h2.42v2.42h-2.42zM12.56 18.91h2.42v2.42h-2.42zM14.67 18.91h2.42v2.42h-2.42zM16.79 18.91h2.42v2.42h-2.42zM42.2 18.91h2.42v2.42h-2.42zM54.91 18.91h2.42v2.42h-2.42zM59.14 18.91h2.42v2.42h-2.42zM4.09 21.03h2.42v2.42h-2.42zM25.26 23.14h2.42v2.42h-2.42zM27.38 23.14h2.42v2.42h-2.42zM6.2 27.38h2.42v2.42h-2.42zM69.73 27.38h2.42v2.42h-2.42zM50.67 29.5h2.42v2.42h-2.42zM14.67 33.73h2.42v2.42h-2.42zM63.38 33.73h2.42v2.42h-2.42zM23.14 35.85h2.42v2.42h-2.42zM37.97 35.85h2.42v2.42h-2.42zM8.32 37.97h2.42v2.42h-2.42zM18.91 37.97h2.42v2.42h-2.42zM23.14 37.97h2.42v2.42h-2.42zM27.38 37.97h2.42v2.42h-2.42zM59.14 37.97h2.42v2.42h-2.42zM63.38 40.09h2.42v2.42h-2.42zM-0.15 42.2h2.42v2.42h-2.42zM6.2 42.2h2.42v2.42h-2.42zM35.85 42.2h2.42v2.42h-2.42zM37.97 42.2h2.42v2.42h-2.42zM52.79 42.2h2.42v2.42h-2.42zM16.79 44.32h2.42v2.42h-2.42zM44.32 44.32h2.42v2.42h-2.42zM52.79 44.32h2.42v2.42h-2.42zM18.91 46.44h2.42v2.42h-2.42zM48.56 46.44h2.42v2.42h-2.42zM52.79 46.44h2.42v2.42h-2.42zM23.14 48.56h2.42v2.42h-2.42zM23.14 50.67h2.42v2.42h-2.42zM29.5 50.67h2.42v2.42h-2.42zM31.61 50.67h2.42v2.42h-2.42zM44.32 50.67h2.42v2.42h-2.42zM48.56 50.67h2.42v2.42h-2.42zM54.91 50.67h2.42v2.42h-2.42zM61.26 50.67h2.42v2.42h-2.42zM69.73 50.67h2.42v2.42h-2.42zM16.79 52.79h2.42v2.42h-2.42zM16.79 54.91h2.42v2.42h-2.42zM18.91 54.91h2.42v2.42h-2.42zM44.32 54.91h2.42v2.42h-2.42zM69.73 57.03h2.42v2.42h-2.42zM8.32 59.14h2.42v2.42h-2.42zM23.14 59.14h2.42v2.42h-2.42zM57.03 59.14h2.42v2.42h-2.42zM42.2 61.26h2.42v2.42h-2.42zM50.67 61.26h2.42v2.42h-2.42zM61.26 61.26h2.42v2.42h-2.42zM27.38 63.38h2.42v2.42h-2.42zM42.2 63.38h2.42v2.42h-2.42zM54.91 63.38h2.42v2.42h-2.42zM40.09 65.5h2.42v2.42h-2.42zM54.91 65.5h2.42v2.42h-2.42zM65.5 65.5h2.42v2.42h-2.42zM69.73 65.5h2.42v2.42h-2.42zM18.91 67.61h2.42v2.42h-2.42zM31.61 69.73h2.42v2.42h-2.42zM46.44 69.73h2.42v2.42h-2.42zM48.56 69.73h2.42v2.42h-2.42zM50.67 69.73h2.42v2.42h-2.42zM63.38 69.73h2.42v2.42h-2.42z"/><path fill="#dcdcdc" d="M40.09 -0.15h2.42v2.42h-2.42zM-0.15 1.97h2.42v2.42h-2.42zM1.97 1.97h2.42v2.42h-2.42zM12.56 1.97h2.42v2.42h-2.42zM23.14 1.97h2.42v2.42h-2.42zM61.26 1.97h2.42v2.42h-2.42zM14.67 4.09h2.42v2.42h-2.42zM29.5 4.09h2.42v2.42h-2.42zM42.2 4.09h2.42v2.42h-2.42zM4.09 6.2h2.42v2.42h-2.42zM59.14 6.2h2.42v2.42h-2.42zM29.5 8.32h2.42v2.42h-2.42zM61.26 8.32h2.42v2.42h-2.42zM46.44 10.44h2.42v2.42h-2.42zM1.97 14.67h2.42v2.42h-2.42zM37.97 14.67h2.42v2.42h-2.42zM6.2 16.79h2.42v2.42h-2.42zM44.32 16.79h2.42v2.42h-2.42zM52.79 18.91h2.42v2.42h-2.42zM35.85 21.03h2.42v2.42h-2.42zM18.91 25.26h2.42v2.42h-2.42zM25.26 27.38h2.42v2.42h-2.42zM44.32 27.38h2.42v2.42h-2.42zM61.26 27.38h2.42v2.42h-2.42zM67.61 27.38h2.42v2.42h-2.42zM21.03 29.5h2.42v2.42h-2.42zM31.61 29.5h2.42v2.42h-2.42zM33.73 29.5h2.42v2.42h-2.42zM37.97 29.5h2.42v2.42h-2.42zM42.2 31.61h2.42v2.42h-2.42zM48.56 35.85h2.42v2.42h-2.42zM63.38 35.85h2.42v2.42h-2.42zM35.85 37.97h2.42v2.42h-2.42zM61.26 37.97h2.42v2.42h-2.42zM35.85 40.09h2.42v2.42h-2.42zM69.73 40.09h2.42v2.42h-2.42zM25.26 42.2h2.42v2.42h-2.42zM42.2 42.2h2.42v2.42h-2.42zM69.73 44.32h2.42v2.42h-2.42zM21.03 46.44h2.42v2.42h-2.42zM46.44 48.56h2.42v2.42h-2.42zM65.5 48.56h2.42v2.42h-2.42zM12.56 50.67h2.42v2.42h-2.42zM57.03 50.67h2.42v2.42h-2.42zM59.14 50.67h2.42v2.42h-2.42zM54.91 52.79h2.42v2.42h-2.42zM40.09 57.03h2.42v2.42h-2.42zM1.97 59.14h2.42v2.42h-2.42zM-0.15 61.26h2.42v2.42h-2.42zM1.97 61.26h2.42v2.42h-2.42zM14.67 61.26h2.42v2.42h-2.42zM67.61 61.26h2.42v2.42h-2.42zM12.56 63.38h2.42v2.42h-2.42zM14.67 63.38h2.42v2.42h-2.42zM16.79 65.5h2.42v2.42h-2.42zM4.09 67.61h2.42v2.42h-2.42zM6.2 67.61h2.42v2.42h-2.42zM8.32 67.61h2.42v2.42h-2.42zM14.67 67.61h2.42v2.42h-2.42zM67.61 67.61h2.42v2.42h-2.42zM29.5 69.73h2.42v2.42h-2.42zM54.91 69.73h2.42v2.42h-2.42zM67.61 69.73h2.42v2.42h-2.42z"/><path fill="#e6e6e6" d="M31.61 -0.15h2.42v2.42h-2.42zM52.79 -0.15h2.42v2.42h-2.42zM21.03 1.97h2.42v2.42h-2.42zM6.2 6.2h2.42v2.42h-2.42zM40.09 6.2h2.42v2.42h-2.42zM6.2 8.32h2.42v2.42h-2.42zM27.38 8.32h2.42v2.42h-2.42zM67.61 10.44h2.42v2.42h-2.42zM67.61 14.67h2.42v2.42h-2.42zM29.5 18.91h2.42v2.42h-2.42zM29.5 21.03h2.42v2.42h-2.42zM31.61 21.03h2.42v2.42h-2.42zM42.2 21.03h2.42v2.42h-2.42zM35.85 25.26h2.42v2.42h-2.42zM48.56 27.38h2.42v2.42h-2.42zM40.09 31.61h2.42v2.42h-2.42zM-0.15 35.85h2.42v2.42h-2.42zM21.03 35.85h2.42v2.42h-2.42zM65.5 35.85h2.42v2.42h-2.42zM21.03 37.97h2.42v2.42h-2.42zM63.38 37.97h2.42v2.42h-2.42zM6.2 40.09h2.42v2.42h-2.42zM67.61 42.2h2.42v2.42h-2.42zM42.2 44.32h2.42v2.42h-2.42zM46.44 44.32h2.42v2.42h-2.42zM14.67 50.67h2.42v2.42h-2.42zM12.56 52.79h2.42v2.42h-2.42zM25.26 52.79h2.42v2.42h-2.42zM44.32 52.79h2.42v2.42h-2.42zM46.44 52.79h2.42v2.42h-2.42zM50.67 52.79h2.42v2.42h-2.42zM4.09 59.14h2.42v2.42h-2.42zM35.85 59.14h2.42v2.42h-2.42zM42.2 59.14h2.42v2.42h-2.42zM16.79 67.61h2.42v2.42h-2.42zM14.67 69.73h2.42v2.42h-2.42zM69.73 69.73h2.42v2.42h-2.42z"/><path fill="#f0f0f0" d="M23.14 -0.15h2.42v2.42h-2.42zM14.67 1.97h2.42v2.42h-2.42zM33.73 4.09h2.42v2.42h-2.42zM18.91 6.2h2.42v2.42h-2.42zM61.26 6.2h2.42v2.42h-2.42zM10.44 8.32h2.42v2.42h-2.42zM42.2 16.79h2.42v2.42h-2.42zM6.2 18.91h2.42v2.42h-2.42zM37.97 27.38h2.42v2.42h-2.42zM48.56 29.5h2.42v2.42h-2.42zM69.73 29.5h2.42v2.42h-2.42zM69.73 31.61h2.42v2.42h-2.42zM50.67 42.2h2.42v2.42h-2.42zM65.5 42.2h2.42v2.42h-2.42zM48.56 44.32h2.42v2.42h-2.42zM46.44 50.67h2.42v2.42h-2.42zM23.14 52.79h2.42v2.42h-2.42zM35.85 52.79h2.42v2.42h-2.42zM57.03 57.03h2.42v2.42h-2.42zM44.32 59.14h2.42v2.42h-2.42zM54.91 59.14h2.42v2.42h-2.42zM29.5 63.38h2.42v2.42h-2.42zM50.67 65.5h2.42v2.42h-2.42z"/><path fill="#fafafa" d="M31.61 1.97h2.42v2.42h-2.42zM33.73 1.97h2.42v2.42h-2.42zM12.56 4.09h2.42v2.42h-2.42zM23.14 4.09h2.42v2.42h-2.42zM37.97 6.2h2.42v2.42h-2.42zM25.26 14.67h2.42v2.42h-2.42zM27.38 14.67h2.42v2.42h-2.42zM33.73 21.03h2.42v2.42h-2.42zM35.85 23.14h2.42v2.42h-2.42zM25.26 25.26h2.42v2.42h-2.42zM67.61 25.26h2.42v2.42h-2.42zM44.32 29.5h2.42v2.42h-2.42zM31.61 31.61h2.42v2.42h-2.42zM67.61 31.61h2.42v2.42h-2.42zM67.61 40.09h2.42v2.42h-2.42zM4.09 44.32h2.42v2.42h-2.42zM65.5 46.44h2.42v2.42h-2.42zM18.91 52.79h2.42v2.42h-2.42zM21.03 52.79h2.42v2.42h-2.42zM69.73 52.79h2.42v2.42h-2.42zM69.73 59.14h2.42v2.42h-2.42zM4.09 61.26h2.42v2.42h-2.42zM69.73 61.26h2.42v2.42h-2.42zM52.79 65.5h2.42v2.42h-2.42zM65.5 67.61h2.42v2.42h-2.42z"/></g><radialGradient id="roiD1_g0"><stop offset="0" stop-color="#000" stop-opacity="0.85"/><stop offset="0.55" stop-color="#000" stop-opacity="0.51"/><stop offset="1" stop-color="#000" stop-opacity="0"/></radialGradient><circle cx="66" cy="71" r="15" fill="url(#roiD1_g0)"/><radialGradient id="roiD1_g1"><stop offset="0" stop-color="#000" stop-opacity="0.6"/><stop offset="0.55" stop-color="#000" stop-opacity="0.36"/><stop offset="1" stop-color="#000" stop-opacity="0"/></radialGradient><circle cx="71" cy="1" r="6" fill="url(#roiD1_g1)"/><radialGradient id="roiD1_g2"><stop offset="0" stop-color="#000" stop-opacity="0.12"/><stop offset="0.55" stop-color="#000" stop-opacity="0.07"/><stop offset="1" stop-color="#000" stop-opacity="0"/></radialGradient><circle cx="55" cy="40" r="30" fill="url(#roiD1_g2)"/></g></g>
<g id="roiD2"><g clip-path="url(#clip72)"><g filter="url(#bl05)"><path fill="#3c3c3c" d="M1.97 1.97h2.42v2.42h-2.42z"/><path fill="#464646" d="M35.85 40.09h2.42v2.42h-2.42z"/><path fill="#505050" d="M-0.15 1.97h2.42v2.42h-2.42zM69.73 14.67h2.42v2.42h-2.42zM48.56 18.91h2.42v2.42h-2.42zM12.56 25.26h2.42v2.42h-2.42z"/><path fill="#5a5a5a" d="M37.97 14.67h2.42v2.42h-2.42zM10.44 23.14h2.42v2.42h-2.42zM8.32 57.03h2.42v2.42h-2.42z"/><path fill="#646464" d="M48.56 -0.15h2.42v2.42h-2.42zM1.97 4.09h2.42v2.42h-2.42zM16.79 10.44h2.42v2.42h-2.42zM10.44 12.56h2.42v2.42h-2.42zM1.97 18.91h2.42v2.42h-2.42zM69.73 21.03h2.42v2.42h-2.42zM21.03 23.14h2.42v2.42h-2.42zM67.61 31.61h2.42v2.42h-2.42zM67.61 33.73h2.42v2.42h-2.42z"/><path fill="#6e6e6e" d="M52.79 -0.15h2.42v2.42h-2.42zM63.38 1.97h2.42v2.42h-2.42zM42.2 10.44h2.42v2.42h-2.42zM-0.15 14.67h2.42v2.42h-2.42zM48.56 16.79h2.42v2.42h-2.42zM10.44 18.91h2.42v2.42h-2.42zM18.91 18.91h2.42v2.42h-2.42zM-0.15 21.03h2.42v2.42h-2.42zM18.91 23.14h2.42v2.42h-2.42zM54.91 23.14h2.42v2.42h-2.42zM10.44 25.26h2.42v2.42h-2.42zM21.03 25.26h2.42v2.42h-2.42zM12.56 27.38h2.42v2.42h-2.42zM8.32 44.32h2.42v2.42h-2.42zM10.44 44.32h2.42v2.42h-2.42zM33.73 44.32h2.42v2.42h-2.42zM69.73 63.38h2.42v2.42h-2.42z"/><path fill="#787878" d="M18.91 -0.15h2.42v2.42h-2.42zM54.91 -0.15h2.42v2.42h-2.42zM69.73 -0.15h2.42v2.42h-2.42zM35.85 1.97h2.42v2.42h-2.42zM54.91 1.97h2.42v2.42h-2.42zM67.61 4.09h2.42v2.42h-2.42zM52.79 8.32h2.42v2.42h-2.42zM42.2 12.56h2.42v2.42h-2.42zM-0.15 16.79h2.42v2.42h-2.42zM29.5 16.79h2.42v2.42h-2.42zM4.09 18.91h2.42v2.42h-2.42zM21.03 18.91h2.42v2.42h-2.42zM25.26 18.91h2.42v2.42h-2.42zM4.09 21.03h2.42v2.42h-2.42zM10.44 21.03h2.42v2.42h-2.42zM67.61 21.03h2.42v2.42h-2.42zM27.38 25.26h2.42v2.42h-2.42zM27.38 27.38h2.42v2.42h-2.42zM54.91 31.61h2.42v2.42h-2.42zM31.61 35.85h2.42v2.42h-2.42zM8.32 40.09h2.42v2.42h-2.42zM10.44 40.09h2.42v2.42h-2.42zM16.79 42.2h2.42v2.42h-2.42zM57.03 42.2h2.42v2.42h-2.42zM-0.15 44.32h2.42v2.42h-2.42zM35.85 46.44h2.42v2.42h-2.42zM16.79 50.67h2.42v2.42h-2.42zM8.32 52.79h2.42v2.42h-2.42zM16.79 52.79h2.42v2.42h-2.42zM18.91 54.91h2.42v2.42h-2.42zM50.67 57.03h2.42v2.42h-2.42zM61.26 61.26h2.42v2.42h-2.42zM37.97 63.38h2.42v2.42h-2.42zM65.5 65.5h2.42v2.42h-2.42zM65.5 67.61h2.42v2.42h-2.42zM14.67 69.73h2.42v2.42h-2.42z"/><path fill="#828282" d="M42.2 -0.15h2.42v2.42h-2.42zM-0.15 4.09h2.42v2.42h-2.42zM63.38 4.09h2.42v2.42h-2.42zM69.73 4.09h2.42v2.42h-2.42zM48.56 8.32h2.42v2.42h-2.42zM59.14 8.32h2.42v2.42h-2.42zM61.26 8.32h2.42v2.42h-2.42zM59.14 10.44h2.42v2.42h-2.42zM6.2 14.67h2.42v2.42h-2.42zM29.5 14.67h2.42v2.42h-2.42zM31.61 16.79h2.42v2.42h-2.42zM37.97 16.79h2.42v2.42h-2.42zM52.79 16.79h2.42v2.42h-2.42zM63.38 16.79h2.42v2.42h-2.42zM14.67 18.91h2.42v2.42h-2.42zM12.56 21.03h2.42v2.42h-2.42zM12.56 23.14h2.42v2.42h-2.42zM16.79 23.14h2.42v2.42h-2.42zM23.14 23.14h2.42v2.42h-2.42zM16.79 27.38h2.42v2.42h-2.42zM31.61 31.61h2.42v2.42h-2.42zM59.14 31.61h2.42v2.42h-2.42zM18.91 33.73h2.42v2.42h-2.42zM57.03 35.85h2.42v2.42h-2.42zM48.56 42.2h2.42v2.42h-2.42zM35.85 44.32h2.42v2.42h-2.42zM54.91 44.32h2.42v2.42h-2.42zM57.03 44.32h2.42v2.42h-2.42zM67.61 44.32h2.42v2.42h-2.42zM69.73 44.32h2.42v2.42h-2.42zM27.38 46.44h2.42v2.42h-2.42zM69.73 46.44h2.42v2.42h-2.42zM8.32 54.91h2.42v2.42h-2.42zM16.79 54.91h2.42v2.42h-2.42zM57.03 54.91h2.42v2.42h-2.42zM61.26 57.03h2.42v2.42h-2.42zM63.38 57.03h2.42v2.42h-2.42zM44.32 59.14h2.42v2.42h-2.42zM-0.15 63.38h2.42v2.42h-2.42zM23.14 65.5h2.42v2.42h-2.42zM52.79 65.5h2.42v2.42h-2.42zM52.79 67.61h2.42v2.42h-2.42zM25.26 69.73h2.42v2.42h-2.42zM67.61 69.73h2.42v2.42h-2.42z"/><path fill="#8c8c8c" d="M-0.15 -0.15h2.42v2.42h-2.42zM21.03 -0.15h2.42v2.42h-2.42zM33.73 -0.15h2.42v2.42h-2.42zM46.44 -0.15h2.42v2.42h-2.42zM50.67 -0.15h2.42v2.42h-2.42zM4.09 1.97h2.42v2.42h-2.42zM48.56 1.97h2.42v2.42h-2.42zM61.26 1.97h2.42v2.42h-2.42zM23.14 4.09h2.42v2.42h-2.42zM31.61 4.09h2.42v2.42h-2.42zM40.09 4.09h2.42v2.42h-2.42zM12.56 6.2h2.42v2.42h-2.42zM31.61 6.2h2.42v2.42h-2.42zM35.85 6.2h2.42v2.42h-2.42zM61.26 6.2h2.42v2.42h-2.42zM18.91 8.32h2.42v2.42h-2.42zM10.44 10.44h2.42v2.42h-2.42zM18.91 10.44h2.42v2.42h-2.42zM33.73 10.44h2.42v2.42h-2.42zM-0.15 12.56h2.42v2.42h-2.42zM6.2 12.56h2.42v2.42h-2.42zM12.56 12.56h2.42v2.42h-2.42zM52.79 12.56h2.42v2.42h-2.42zM35.85 14.67h2.42v2.42h-2.42zM59.14 14.67h2.42v2.42h-2.42zM33.73 16.79h2.42v2.42h-2.42zM6.2 18.91h2.42v2.42h-2.42zM8.32 18.91h2.42v2.42h-2.42zM25.26 21.03h2.42v2.42h-2.42zM35.85 21.03h2.42v2.42h-2.42zM44.32 21.03h2.42v2.42h-2.42zM14.67 23.14h2.42v2.42h-2.42zM29.5 23.14h2.42v2.42h-2.42zM52.79 23.14h2.42v2.42h-2.42zM25.26 25.26h2.42v2.42h-2.42zM67.61 25.26h2.42v2.42h-2.42zM21.03 27.38h2.42v2.42h-2.42zM57.03 27.38h2.42v2.42h-2.42zM12.56 31.61h2.42v2.42h-2.42zM14.67 31.61h2.42v2.42h-2.42zM33.73 31.61h2.42v2.42h-2.42zM52.79 31.61h2.42v2.42h-2.42zM35.85 35.85h2.42v2.42h-2.42zM46.44 35.85h2.42v2.42h-2.42zM42.2 37.97h2.42v2.42h-2.42zM50.67 40.09h2.42v2.42h-2.42zM52.79 40.09h2.42v2.42h-2.42zM33.73 42.2h2.42v2.42h-2.42zM35.85 42.2h2.42v2.42h-2.42zM54.91 42.2h2.42v2.42h-2.42zM67.61 42.2h2.42v2.42h-2.42zM69.73 42.2h2.42v2.42h-2.42zM6.2 44.32h2.42v2.42h-2.42zM16.79 44.32h2.42v2.42h-2.42zM63.38 44.32h2.42v2.42h-2.42zM-0.15 46.44h2.42v2.42h-2.42zM50.67 46.44h2.42v2.42h-2.42zM46.44 48.56h2.42v2.42h-2.42zM42.2 50.67h2.42v2.42h-2.42zM14.67 52.79h2.42v2.42h-2.42zM18.91 52.79h2.42v2.42h-2.42zM48.56 52.79h2.42v2.42h-2.42zM61.26 52.79h2.42v2.42h-2.42zM12.56 54.91h2.42v2.42h-2.42zM46.44 54.91h2.42v2.42h-2.42zM6.2 57.03h2.42v2.42h-2.42zM59.14 57.03h2.42v2.42h-2.42zM16.79 59.14h2.42v2.42h-2.42zM18.91 59.14h2.42v2.42h-2.42zM61.26 59.14h2.42v2.42h-2.42zM63.38 59.14h2.42v2.42h-2.42zM12.56 61.26h2.42v2.42h-2.42zM27.38 61.26h2.42v2.42h-2.42zM33.73 63.38h2.42v2.42h-2.42zM21.03 65.5h2.42v2.42h-2.42zM31.61 65.5h2.42v2.42h-2.42zM33.73 67.61h2.42v2.42h-2.42zM57.03 67.61h2.42v2.42h-2.42zM18.91 69.73h2.42v2.42h-2.42z"/><path fill="#969696" d="M8.32 -0.15h2.42v2.42h-2.42zM8.32 1.97h2.42v2.42h-2.42zM18.91 1.97h2.42v2.42h-2.42zM31.61 1.97h2.42v2.42h-2.42zM33.73 1.97h2.42v2.42h-2.42zM37.97 1.97h2.42v2.42h-2.42zM57.03 1.97h2.42v2.42h-2.42zM59.14 1.97h2.42v2.42h-2.42zM67.61 1.97h2.42v2.42h-2.42zM61.26 4.09h2.42v2.42h-2.42zM65.5 4.09h2.42v2.42h-2.42zM14.67 6.2h2.42v2.42h-2.42zM16.79 6.2h2.42v2.42h-2.42zM63.38 6.2h2.42v2.42h-2.42zM54.91 8.32h2.42v2.42h-2.42zM4.09 10.44h2.42v2.42h-2.42zM8.32 10.44h2.42v2.42h-2.42zM44.32 10.44h2.42v2.42h-2.42zM52.79 10.44h2.42v2.42h-2.42zM61.26 10.44h2.42v2.42h-2.42zM8.32 12.56h2.42v2.42h-2.42zM25.26 12.56h2.42v2.42h-2.42zM40.09 12.56h2.42v2.42h-2.42zM54.91 12.56h2.42v2.42h-2.42zM69.73 12.56h2.42v2.42h-2.42zM14.67 14.67h2.42v2.42h-2.42zM21.03 14.67h2.42v2.42h-2.42zM65.5 14.67h2.42v2.42h-2.42zM21.03 16.79h2.42v2.42h-2.42zM12.56 18.91h2.42v2.42h-2.42zM33.73 18.91h2.42v2.42h-2.42zM63.38 18.91h2.42v2.42h-2.42zM14.67 21.03h2.42v2.42h-2.42zM21.03 21.03h2.42v2.42h-2.42zM40.09 21.03h2.42v2.42h-2.42zM59.14 21.03h2.42v2.42h-2.42zM63.38 21.03h2.42v2.42h-2.42zM27.38 23.14h2.42v2.42h-2.42zM44.32 23.14h2.42v2.42h-2.42zM61.26 23.14h2.42v2.42h-2.42zM18.91 25.26h2.42v2.42h-2.42zM23.14 25.26h2.42v2.42h-2.42zM-0.15 27.38h2.42v2.42h-2.42zM4.09 27.38h2.42v2.42h-2.42zM25.26 27.38h2.42v2.42h-2.42zM33.73 27.38h2.42v2.42h-2.42zM35.85 27.38h2.42v2.42h-2.42zM42.2 27.38h2.42v2.42h-2.42zM59.14 27.38h2.42v2.42h-2.42zM65.5 27.38h2.42v2.42h-2.42zM69.73 27.38h2.42v2.42h-2.42zM25.26 29.5h2.42v2.42h-2.42zM67.61 29.5h2.42v2.42h-2.42zM61.26 31.61h2.42v2.42h-2.42zM69.73 31.61h2.42v2.42h-2.42zM21.03 33.73h2.42v2.42h-2.42zM59.14 33.73h2.42v2.42h-2.42zM37.97 35.85h2.42v2.42h-2.42zM42.2 35.85h2.42v2.42h-2.42zM50.67 35.85h2.42v2.42h-2.42zM65.5 35.85h2.42v2.42h-2.42zM6.2 37.97h2.42v2.42h-2.42zM8.32 37.97h2.42v2.42h-2.42zM25.26 37.97h2.42v2.42h-2.42zM35.85 37.97h2.42v2.42h-2.42zM65.5 37.97h2.42v2.42h-2.42zM67.61 37.97h2.42v2.42h-2.42zM69.73 37.97h2.42v2.42h-2.42zM1.97 40.09h2.42v2.42h-2.42zM4.09 40.09h2.42v2.42h-2.42zM33.73 40.09h2.42v2.42h-2.42zM42.2 40.09h2.42v2.42h-2.42zM59.14 40.09h2.42v2.42h-2.42zM31.61 42.2h2.42v2.42h-2.42zM18.91 44.32h2.42v2.42h-2.42zM23.14 44.32h2.42v2.42h-2.42zM44.32 44.32h2.42v2.42h-2.42zM10.44 46.44h2.42v2.42h-2.42zM59.14 46.44h2.42v2.42h-2.42zM67.61 46.44h2.42v2.42h-2.42zM18.91 48.56h2.42v2.42h-2.42zM31.61 48.56h2.42v2.42h-2.42zM44.32 48.56h2.42v2.42h-2.42zM67.61 48.56h2.42v2.42h-2.42zM8.32 50.67h2.42v2.42h-2.42zM12.56 52.79h2.42v2.42h-2.42zM10.44 54.91h2.42v2.42h-2.42zM44.32 54.91h2.42v2.42h-2.42zM23.14 57.03h2.42v2.42h-2.42zM27.38 57.03h2.42v2.42h-2.42zM52.79 57.03h2.42v2.42h-2.42zM1.97 61.26h2.42v2.42h-2.42zM10.44 61.26h2.42v2.42h-2.42zM21.03 63.38h2.42v2.42h-2.42zM29.5 63.38h2.42v2.42h-2.42zM48.56 63.38h2.42v2.42h-2.42zM61.26 63.38h2.42v2.42h-2.42zM67.61 63.38h2.42v2.42h-2.42zM4.09 65.5h2.42v2.42h-2.42zM16.79 65.5h2.42v2.42h-2.42zM67.61 65.5h2.42v2.42h-2.42zM69.73 65.5h2.42v2.42h-2.42zM50.67 67.61h2.42v2.42h-2.42zM23.14 69.73h2.42v2.42h-2.42zM31.61 69.73h2.42v2.42h-2.42zM59.14 69.73h2.42v2.42h-2.42zM65.5 69.73h2.42v2.42h-2.42z"/><path fill="#a0a0a0" d="M35.85 -0.15h2.42v2.42h-2.42zM25.26 1.97h2.42v2.42h-2.42zM46.44 1.97h2.42v2.42h-2.42zM65.5 1.97h2.42v2.42h-2.42zM69.73 1.97h2.42v2.42h-2.42zM4.09 4.09h2.42v2.42h-2.42zM16.79 4.09h2.42v2.42h-2.42zM25.26 4.09h2.42v2.42h-2.42zM35.85 4.09h2.42v2.42h-2.42zM37.97 4.09h2.42v2.42h-2.42zM8.32 6.2h2.42v2.42h-2.42zM18.91 6.2h2.42v2.42h-2.42zM23.14 6.2h2.42v2.42h-2.42zM52.79 6.2h2.42v2.42h-2.42zM57.03 6.2h2.42v2.42h-2.42zM67.61 6.2h2.42v2.42h-2.42zM63.38 8.32h2.42v2.42h-2.42zM1.97 10.44h2.42v2.42h-2.42zM40.09 10.44h2.42v2.42h-2.42zM48.56 10.44h2.42v2.42h-2.42zM69.73 10.44h2.42v2.42h-2.42zM4.09 12.56h2.42v2.42h-2.42zM16.79 12.56h2.42v2.42h-2.42zM18.91 12.56h2.42v2.42h-2.42zM37.97 12.56h2.42v2.42h-2.42zM57.03 12.56h2.42v2.42h-2.42zM59.14 12.56h2.42v2.42h-2.42zM1.97 14.67h2.42v2.42h-2.42zM33.73 14.67h2.42v2.42h-2.42zM40.09 14.67h2.42v2.42h-2.42zM46.44 14.67h2.42v2.42h-2.42zM63.38 14.67h2.42v2.42h-2.42zM67.61 14.67h2.42v2.42h-2.42zM12.56 16.79h2.42v2.42h-2.42zM14.67 16.79h2.42v2.42h-2.42zM18.91 16.79h2.42v2.42h-2.42zM50.67 16.79h2.42v2.42h-2.42zM61.26 16.79h2.42v2.42h-2.42zM-0.15 18.91h2.42v2.42h-2.42zM16.79 18.91h2.42v2.42h-2.42zM37.97 18.91h2.42v2.42h-2.42zM44.32 18.91h2.42v2.42h-2.42zM1.97 21.03h2.42v2.42h-2.42zM23.14 21.03h2.42v2.42h-2.42zM27.38 21.03h2.42v2.42h-2.42zM29.5 21.03h2.42v2.42h-2.42zM37.97 21.03h2.42v2.42h-2.42zM61.26 21.03h2.42v2.42h-2.42zM4.09 23.14h2.42v2.42h-2.42zM4.09 25.26h2.42v2.42h-2.42zM8.32 25.26h2.42v2.42h-2.42zM16.79 25.26h2.42v2.42h-2.42zM29.5 25.26h2.42v2.42h-2.42zM33.73 25.26h2.42v2.42h-2.42zM35.85 25.26h2.42v2.42h-2.42zM42.2 25.26h2.42v2.42h-2.42zM54.91 25.26h2.42v2.42h-2.42zM61.26 25.26h2.42v2.42h-2.42zM69.73 25.26h2.42v2.42h-2.42zM14.67 27.38h2.42v2.42h-2.42zM23.14 27.38h2.42v2.42h-2.42zM63.38 27.38h2.42v2.42h-2.42zM67.61 27.38h2.42v2.42h-2.42zM-0.15 29.5h2.42v2.42h-2.42zM12.56 29.5h2.42v2.42h-2.42zM40.09 29.5h2.42v2.42h-2.42zM48.56 29.5h2.42v2.42h-2.42zM57.03 29.5h2.42v2.42h-2.42zM63.38 29.5h2.42v2.42h-2.42zM40.09 31.61h2.42v2.42h-2.42zM16.79 33.73h2.42v2.42h-2.42zM40.09 33.73h2.42v2.42h-2.42zM54.91 33.73h2.42v2.42h-2.42zM63.38 33.73h2.42v2.42h-2.42zM65.5 33.73h2.42v2.42h-2.42zM23.14 35.85h2.42v2.42h-2.42zM25.26 35.85h2.42v2.42h-2.42zM40.09 35.85h2.42v2.42h-2.42zM52.79 35.85h2.42v2.42h-2.42zM63.38 35.85h2.42v2.42h-2.42zM-0.15 37.97h2.42v2.42h-2.42zM4.09 37.97h2.42v2.42h-2.42zM12.56 37.97h2.42v2.42h-2.42zM50.67 37.97h2.42v2.42h-2.42zM52.79 37.97h2.42v2.42h-2.42zM57.03 37.97h2.42v2.42h-2.42zM63.38 37.97h2.42v2.42h-2.42zM-0.15 40.09h2.42v2.42h-2.42zM57.03 40.09h2.42v2.42h-2.42zM6.2 42.2h2.42v2.42h-2.42zM14.67 42.2h2.42v2.42h-2.42zM12.56 44.32h2.42v2.42h-2.42zM14.67 44.32h2.42v2.42h-2.42zM21.03 44.32h2.42v2.42h-2.42zM48.56 44.32h2.42v2.42h-2.42zM50.67 44.32h2.42v2.42h-2.42zM52.79 44.32h2.42v2.42h-2.42zM65.5 44.32h2.42v2.42h-2.42zM14.67 46.44h2.42v2.42h-2.42zM33.73 46.44h2.42v2.42h-2.42zM40.09 46.44h2.42v2.42h-2.42zM42.2 46.44h2.42v2.42h-2.42zM-0.15 48.56h2.42v2.42h-2.42zM42.2 48.56h2.42v2.42h-2.42zM10.44 50.67h2.42v2.42h-2.42zM37.97 50.67h2.42v2.42h-2.42zM44.32 50.67h2.42v2.42h-2.42zM25.26 52.79h2.42v2.42h-2.42zM27.38 52.79h2.42v2.42h-2.42zM59.14 52.79h2.42v2.42h-2.42zM63.38 52.79h2.42v2.42h-2.42zM14.67 54.91h2.42v2.42h-2.42zM40.09 54.91h2.42v2.42h-2.42zM25.26 57.03h2.42v2.42h-2.42zM65.5 57.03h2.42v2.42h-2.42zM21.03 59.14h2.42v2.42h-2.42zM27.38 59.14h2.42v2.42h-2.42zM29.5 59.14h2.42v2.42h-2.42zM37.97 59.14h2.42v2.42h-2.42zM40.09 59.14h2.42v2.42h-2.42zM46.44 59.14h2.42v2.42h-2.42zM65.5 59.14h2.42v2.42h-2.42zM69.73 59.14h2.42v2.42h-2.42zM18.91 61.26h2.42v2.42h-2.42zM25.26 61.26h2.42v2.42h-2.42zM29.5 61.26h2.42v2.42h-2.42zM40.09 61.26h2.42v2.42h-2.42zM42.2 61.26h2.42v2.42h-2.42zM54.91 61.26h2.42v2.42h-2.42zM1.97 63.38h2.42v2.42h-2.42zM23.14 63.38h2.42v2.42h-2.42zM25.26 63.38h2.42v2.42h-2.42zM40.09 63.38h2.42v2.42h-2.42zM50.67 63.38h2.42v2.42h-2.42zM52.79 63.38h2.42v2.42h-2.42zM59.14 63.38h2.42v2.42h-2.42zM63.38 63.38h2.42v2.42h-2.42zM33.73 65.5h2.42v2.42h-2.42zM46.44 65.5h2.42v2.42h-2.42zM50.67 65.5h2.42v2.42h-2.42zM57.03 65.5h2.42v2.42h-2.42zM14.67 67.61h2.42v2.42h-2.42zM31.61 67.61h2.42v2.42h-2.42zM42.2 67.61h2.42v2.42h-2.42zM67.61 67.61h2.42v2.42h-2.42zM4.09 69.73h2.42v2.42h-2.42zM42.2 69.73h2.42v2.42h-2.42zM48.56 69.73h2.42v2.42h-2.42zM63.38 69.73h2.42v2.42h-2.42zM69.73 69.73h2.42v2.42h-2.42z"/><path fill="#aaaaaa" d="M1.97 -0.15h2.42v2.42h-2.42zM23.14 -0.15h2.42v2.42h-2.42zM31.61 -0.15h2.42v2.42h-2.42zM44.32 -0.15h2.42v2.42h-2.42zM6.2 1.97h2.42v2.42h-2.42zM27.38 1.97h2.42v2.42h-2.42zM40.09 1.97h2.42v2.42h-2.42zM10.44 4.09h2.42v2.42h-2.42zM21.03 4.09h2.42v2.42h-2.42zM57.03 4.09h2.42v2.42h-2.42zM59.14 4.09h2.42v2.42h-2.42zM10.44 6.2h2.42v2.42h-2.42zM37.97 6.2h2.42v2.42h-2.42zM54.91 6.2h2.42v2.42h-2.42zM59.14 6.2h2.42v2.42h-2.42zM29.5 8.32h2.42v2.42h-2.42zM-0.15 10.44h2.42v2.42h-2.42zM65.5 10.44h2.42v2.42h-2.42zM27.38 12.56h2.42v2.42h-2.42zM48.56 12.56h2.42v2.42h-2.42zM50.67 12.56h2.42v2.42h-2.42zM4.09 14.67h2.42v2.42h-2.42zM16.79 14.67h2.42v2.42h-2.42zM18.91 14.67h2.42v2.42h-2.42zM25.26 14.67h2.42v2.42h-2.42zM42.2 14.67h2.42v2.42h-2.42zM1.97 16.79h2.42v2.42h-2.42zM6.2 16.79h2.42v2.42h-2.42zM8.32 16.79h2.42v2.42h-2.42zM10.44 16.79h2.42v2.42h-2.42zM25.26 16.79h2.42v2.42h-2.42zM44.32 16.79h2.42v2.42h-2.42zM67.61 16.79h2.42v2.42h-2.42zM69.73 16.79h2.42v2.42h-2.42zM27.38 18.91h2.42v2.42h-2.42zM50.67 18.91h2.42v2.42h-2.42zM52.79 18.91h2.42v2.42h-2.42zM54.91 18.91h2.42v2.42h-2.42zM16.79 21.03h2.42v2.42h-2.42zM54.91 21.03h2.42v2.42h-2.42zM65.5 21.03h2.42v2.42h-2.42zM-0.15 23.14h2.42v2.42h-2.42zM31.61 23.14h2.42v2.42h-2.42zM40.09 23.14h2.42v2.42h-2.42zM50.67 23.14h2.42v2.42h-2.42zM63.38 23.14h2.42v2.42h-2.42zM67.61 23.14h2.42v2.42h-2.42zM14.67 25.26h2.42v2.42h-2.42zM50.67 27.38h2.42v2.42h-2.42zM61.26 27.38h2.42v2.42h-2.42zM23.14 29.5h2.42v2.42h-2.42zM37.97 29.5h2.42v2.42h-2.42zM42.2 29.5h2.42v2.42h-2.42zM46.44 29.5h2.42v2.42h-2.42zM61.26 29.5h2.42v2.42h-2.42zM69.73 29.5h2.42v2.42h-2.42zM18.91 31.61h2.42v2.42h-2.42zM21.03 31.61h2.42v2.42h-2.42zM63.38 31.61h2.42v2.42h-2.42zM1.97 33.73h2.42v2.42h-2.42zM12.56 33.73h2.42v2.42h-2.42zM25.26 33.73h2.42v2.42h-2.42zM31.61 33.73h2.42v2.42h-2.42zM42.2 33.73h2.42v2.42h-2.42zM69.73 33.73h2.42v2.42h-2.42zM4.09 35.85h2.42v2.42h-2.42zM8.32 35.85h2.42v2.42h-2.42zM12.56 35.85h2.42v2.42h-2.42zM54.91 35.85h2.42v2.42h-2.42zM1.97 37.97h2.42v2.42h-2.42zM40.09 37.97h2.42v2.42h-2.42zM44.32 37.97h2.42v2.42h-2.42zM6.2 40.09h2.42v2.42h-2.42zM31.61 40.09h2.42v2.42h-2.42zM40.09 40.09h2.42v2.42h-2.42zM48.56 40.09h2.42v2.42h-2.42zM8.32 42.2h2.42v2.42h-2.42zM12.56 42.2h2.42v2.42h-2.42zM18.91 42.2h2.42v2.42h-2.42zM21.03 42.2h2.42v2.42h-2.42zM37.97 42.2h2.42v2.42h-2.42zM40.09 42.2h2.42v2.42h-2.42zM50.67 42.2h2.42v2.42h-2.42zM25.26 44.32h2.42v2.42h-2.42zM59.14 44.32h2.42v2.42h-2.42zM8.32 46.44h2.42v2.42h-2.42zM29.5 46.44h2.42v2.42h-2.42zM57.03 46.44h2.42v2.42h-2.42zM14.67 48.56h2.42v2.42h-2.42zM16.79 48.56h2.42v2.42h-2.42zM27.38 48.56h2.42v2.42h-2.42zM59.14 48.56h2.42v2.42h-2.42zM-0.15 50.67h2.42v2.42h-2.42zM4.09 50.67h2.42v2.42h-2.42zM48.56 50.67h2.42v2.42h-2.42zM69.73 50.67h2.42v2.42h-2.42zM10.44 52.79h2.42v2.42h-2.42zM21.03 52.79h2.42v2.42h-2.42zM35.85 52.79h2.42v2.42h-2.42zM50.67 52.79h2.42v2.42h-2.42zM67.61 52.79h2.42v2.42h-2.42zM23.14 54.91h2.42v2.42h-2.42zM25.26 54.91h2.42v2.42h-2.42zM27.38 54.91h2.42v2.42h-2.42zM29.5 54.91h2.42v2.42h-2.42zM-0.15 57.03h2.42v2.42h-2.42zM10.44 57.03h2.42v2.42h-2.42zM-0.15 59.14h2.42v2.42h-2.42zM1.97 59.14h2.42v2.42h-2.42zM31.61 59.14h2.42v2.42h-2.42zM-0.15 61.26h2.42v2.42h-2.42zM4.09 61.26h2.42v2.42h-2.42zM6.2 61.26h2.42v2.42h-2.42zM16.79 61.26h2.42v2.42h-2.42zM21.03 61.26h2.42v2.42h-2.42zM23.14 61.26h2.42v2.42h-2.42zM33.73 61.26h2.42v2.42h-2.42zM48.56 61.26h2.42v2.42h-2.42zM27.38 63.38h2.42v2.42h-2.42zM35.85 63.38h2.42v2.42h-2.42zM1.97 65.5h2.42v2.42h-2.42zM42.2 65.5h2.42v2.42h-2.42zM44.32 65.5h2.42v2.42h-2.42zM59.14 65.5h2.42v2.42h-2.42zM4.09 67.61h2.42v2.42h-2.42zM6.2 67.61h2.42v2.42h-2.42zM12.56 67.61h2.42v2.42h-2.42zM54.91 67.61h2.42v2.42h-2.42zM69.73 67.61h2.42v2.42h-2.42zM16.79 69.73h2.42v2.42h-2.42zM33.73 69.73h2.42v2.42h-2.42zM35.85 69.73h2.42v2.42h-2.42zM57.03 69.73h2.42v2.42h-2.42z"/><path fill="#b4b4b4" d="M6.2 -0.15h2.42v2.42h-2.42zM16.79 -0.15h2.42v2.42h-2.42zM27.38 -0.15h2.42v2.42h-2.42zM40.09 -0.15h2.42v2.42h-2.42zM12.56 1.97h2.42v2.42h-2.42zM16.79 1.97h2.42v2.42h-2.42zM21.03 1.97h2.42v2.42h-2.42zM18.91 4.09h2.42v2.42h-2.42zM27.38 4.09h2.42v2.42h-2.42zM33.73 4.09h2.42v2.42h-2.42zM27.38 6.2h2.42v2.42h-2.42zM40.09 6.2h2.42v2.42h-2.42zM48.56 6.2h2.42v2.42h-2.42zM65.5 6.2h2.42v2.42h-2.42zM69.73 6.2h2.42v2.42h-2.42zM37.97 8.32h2.42v2.42h-2.42zM50.67 8.32h2.42v2.42h-2.42zM57.03 8.32h2.42v2.42h-2.42zM65.5 8.32h2.42v2.42h-2.42zM6.2 10.44h2.42v2.42h-2.42zM14.67 10.44h2.42v2.42h-2.42zM25.26 10.44h2.42v2.42h-2.42zM37.97 10.44h2.42v2.42h-2.42zM46.44 10.44h2.42v2.42h-2.42zM50.67 10.44h2.42v2.42h-2.42zM63.38 10.44h2.42v2.42h-2.42zM29.5 12.56h2.42v2.42h-2.42zM33.73 12.56h2.42v2.42h-2.42zM44.32 12.56h2.42v2.42h-2.42zM46.44 12.56h2.42v2.42h-2.42zM10.44 14.67h2.42v2.42h-2.42zM12.56 14.67h2.42v2.42h-2.42zM23.14 14.67h2.42v2.42h-2.42zM27.38 14.67h2.42v2.42h-2.42zM31.61 14.67h2.42v2.42h-2.42zM52.79 14.67h2.42v2.42h-2.42zM57.03 14.67h2.42v2.42h-2.42zM16.79 16.79h2.42v2.42h-2.42zM23.14 16.79h2.42v2.42h-2.42zM35.85 16.79h2.42v2.42h-2.42zM65.5 16.79h2.42v2.42h-2.42zM23.14 18.91h2.42v2.42h-2.42zM69.73 18.91h2.42v2.42h-2.42zM18.91 21.03h2.42v2.42h-2.42zM33.73 21.03h2.42v2.42h-2.42zM25.26 23.14h2.42v2.42h-2.42zM42.2 23.14h2.42v2.42h-2.42zM57.03 23.14h2.42v2.42h-2.42zM59.14 23.14h2.42v2.42h-2.42zM69.73 23.14h2.42v2.42h-2.42zM1.97 25.26h2.42v2.42h-2.42zM31.61 25.26h2.42v2.42h-2.42zM40.09 25.26h2.42v2.42h-2.42zM44.32 25.26h2.42v2.42h-2.42zM65.5 25.26h2.42v2.42h-2.42zM10.44 27.38h2.42v2.42h-2.42zM18.91 27.38h2.42v2.42h-2.42zM29.5 27.38h2.42v2.42h-2.42zM44.32 27.38h2.42v2.42h-2.42zM27.38 29.5h2.42v2.42h-2.42zM33.73 29.5h2.42v2.42h-2.42zM44.32 29.5h2.42v2.42h-2.42zM54.91 29.5h2.42v2.42h-2.42zM16.79 31.61h2.42v2.42h-2.42zM29.5 31.61h2.42v2.42h-2.42zM37.97 31.61h2.42v2.42h-2.42zM50.67 31.61h2.42v2.42h-2.42zM65.5 31.61h2.42v2.42h-2.42zM-0.15 33.73h2.42v2.42h-2.42zM37.97 33.73h2.42v2.42h-2.42zM52.79 33.73h2.42v2.42h-2.42zM57.03 33.73h2.42v2.42h-2.42zM61.26 33.73h2.42v2.42h-2.42zM1.97 35.85h2.42v2.42h-2.42zM21.03 35.85h2.42v2.42h-2.42zM44.32 35.85h2.42v2.42h-2.42zM14.67 37.97h2.42v2.42h-2.42zM23.14 37.97h2.42v2.42h-2.42zM16.79 40.09h2.42v2.42h-2.42zM46.44 40.09h2.42v2.42h-2.42zM65.5 40.09h2.42v2.42h-2.42zM23.14 42.2h2.42v2.42h-2.42zM1.97 44.32h2.42v2.42h-2.42zM29.5 44.32h2.42v2.42h-2.42zM31.61 44.32h2.42v2.42h-2.42zM40.09 44.32h2.42v2.42h-2.42zM6.2 46.44h2.42v2.42h-2.42zM16.79 46.44h2.42v2.42h-2.42zM18.91 46.44h2.42v2.42h-2.42zM23.14 46.44h2.42v2.42h-2.42zM31.61 46.44h2.42v2.42h-2.42zM46.44 46.44h2.42v2.42h-2.42zM52.79 46.44h2.42v2.42h-2.42zM54.91 46.44h2.42v2.42h-2.42zM10.44 48.56h2.42v2.42h-2.42zM33.73 48.56h2.42v2.42h-2.42zM48.56 48.56h2.42v2.42h-2.42zM52.79 48.56h2.42v2.42h-2.42zM57.03 48.56h2.42v2.42h-2.42zM14.67 50.67h2.42v2.42h-2.42zM18.91 50.67h2.42v2.42h-2.42zM25.26 50.67h2.42v2.42h-2.42zM27.38 50.67h2.42v2.42h-2.42zM31.61 50.67h2.42v2.42h-2.42zM40.09 50.67h2.42v2.42h-2.42zM52.79 50.67h2.42v2.42h-2.42zM67.61 50.67h2.42v2.42h-2.42zM23.14 52.79h2.42v2.42h-2.42zM29.5 52.79h2.42v2.42h-2.42zM42.2 52.79h2.42v2.42h-2.42zM52.79 52.79h2.42v2.42h-2.42zM65.5 52.79h2.42v2.42h-2.42zM69.73 52.79h2.42v2.42h-2.42zM31.61 54.91h2.42v2.42h-2.42zM42.2 54.91h2.42v2.42h-2.42zM50.67 54.91h2.42v2.42h-2.42zM59.14 54.91h2.42v2.42h-2.42zM1.97 57.03h2.42v2.42h-2.42zM12.56 57.03h2.42v2.42h-2.42zM31.61 57.03h2.42v2.42h-2.42zM46.44 57.03h2.42v2.42h-2.42zM8.32 59.14h2.42v2.42h-2.42zM35.85 59.14h2.42v2.42h-2.42zM42.2 59.14h2.42v2.42h-2.42zM54.91 59.14h2.42v2.42h-2.42zM67.61 59.14h2.42v2.42h-2.42zM14.67 61.26h2.42v2.42h-2.42zM35.85 61.26h2.42v2.42h-2.42zM44.32 61.26h2.42v2.42h-2.42zM50.67 61.26h2.42v2.42h-2.42zM52.79 61.26h2.42v2.42h-2.42zM57.03 61.26h2.42v2.42h-2.42zM63.38 61.26h2.42v2.42h-2.42zM69.73 61.26h2.42v2.42h-2.42zM4.09 63.38h2.42v2.42h-2.42zM16.79 63.38h2.42v2.42h-2.42zM42.2 63.38h2.42v2.42h-2.42zM54.91 63.38h2.42v2.42h-2.42zM12.56 65.5h2.42v2.42h-2.42zM37.97 65.5h2.42v2.42h-2.42zM40.09 65.5h2.42v2.42h-2.42zM54.91 65.5h2.42v2.42h-2.42zM29.5 67.61h2.42v2.42h-2.42zM44.32 67.61h2.42v2.42h-2.42zM63.38 67.61h2.42v2.42h-2.42zM6.2 69.73h2.42v2.42h-2.42zM12.56 69.73h2.42v2.42h-2.42zM21.03 69.73h2.42v2.42h-2.42zM29.5 69.73h2.42v2.42h-2.42zM54.91 69.73h2.42v2.42h-2.42z"/><path fill="#bebebe" d="M10.44 -0.15h2.42v2.42h-2.42zM12.56 -0.15h2.42v2.42h-2.42zM25.26 -0.15h2.42v2.42h-2.42zM37.97 -0.15h2.42v2.42h-2.42zM63.38 -0.15h2.42v2.42h-2.42zM67.61 -0.15h2.42v2.42h-2.42zM14.67 1.97h2.42v2.42h-2.42zM52.79 1.97h2.42v2.42h-2.42zM14.67 4.09h2.42v2.42h-2.42zM29.5 6.2h2.42v2.42h-2.42zM6.2 8.32h2.42v2.42h-2.42zM16.79 8.32h2.42v2.42h-2.42zM23.14 8.32h2.42v2.42h-2.42zM42.2 8.32h2.42v2.42h-2.42zM67.61 8.32h2.42v2.42h-2.42zM69.73 8.32h2.42v2.42h-2.42zM31.61 10.44h2.42v2.42h-2.42zM57.03 10.44h2.42v2.42h-2.42zM21.03 12.56h2.42v2.42h-2.42zM54.91 14.67h2.42v2.42h-2.42zM27.38 16.79h2.42v2.42h-2.42zM46.44 16.79h2.42v2.42h-2.42zM59.14 16.79h2.42v2.42h-2.42zM31.61 18.91h2.42v2.42h-2.42zM46.44 18.91h2.42v2.42h-2.42zM57.03 18.91h2.42v2.42h-2.42zM6.2 21.03h2.42v2.42h-2.42zM42.2 21.03h2.42v2.42h-2.42zM52.79 21.03h2.42v2.42h-2.42zM1.97 23.14h2.42v2.42h-2.42zM6.2 23.14h2.42v2.42h-2.42zM33.73 23.14h2.42v2.42h-2.42zM35.85 23.14h2.42v2.42h-2.42zM37.97 23.14h2.42v2.42h-2.42zM46.44 23.14h2.42v2.42h-2.42zM-0.15 25.26h2.42v2.42h-2.42zM37.97 25.26h2.42v2.42h-2.42zM46.44 25.26h2.42v2.42h-2.42zM6.2 27.38h2.42v2.42h-2.42zM37.97 27.38h2.42v2.42h-2.42zM46.44 27.38h2.42v2.42h-2.42zM21.03 29.5h2.42v2.42h-2.42zM29.5 29.5h2.42v2.42h-2.42zM31.61 29.5h2.42v2.42h-2.42zM35.85 29.5h2.42v2.42h-2.42zM59.14 29.5h2.42v2.42h-2.42zM65.5 29.5h2.42v2.42h-2.42zM-0.15 31.61h2.42v2.42h-2.42zM6.2 31.61h2.42v2.42h-2.42zM8.32 31.61h2.42v2.42h-2.42zM57.03 31.61h2.42v2.42h-2.42zM14.67 33.73h2.42v2.42h-2.42zM23.14 33.73h2.42v2.42h-2.42zM35.85 33.73h2.42v2.42h-2.42zM44.32 33.73h2.42v2.42h-2.42zM27.38 35.85h2.42v2.42h-2.42zM33.73 35.85h2.42v2.42h-2.42zM48.56 35.85h2.42v2.42h-2.42zM59.14 35.85h2.42v2.42h-2.42zM27.38 37.97h2.42v2.42h-2.42zM31.61 37.97h2.42v2.42h-2.42zM14.67 40.09h2.42v2.42h-2.42zM67.61 40.09h2.42v2.42h-2.42zM4.09 42.2h2.42v2.42h-2.42zM29.5 42.2h2.42v2.42h-2.42zM42.2 42.2h2.42v2.42h-2.42zM44.32 42.2h2.42v2.42h-2.42zM52.79 42.2h2.42v2.42h-2.42zM46.44 44.32h2.42v2.42h-2.42zM1.97 46.44h2.42v2.42h-2.42zM12.56 46.44h2.42v2.42h-2.42zM25.26 46.44h2.42v2.42h-2.42zM37.97 46.44h2.42v2.42h-2.42zM48.56 46.44h2.42v2.42h-2.42zM61.26 46.44h2.42v2.42h-2.42zM63.38 46.44h2.42v2.42h-2.42zM12.56 48.56h2.42v2.42h-2.42zM21.03 48.56h2.42v2.42h-2.42zM25.26 48.56h2.42v2.42h-2.42zM29.5 48.56h2.42v2.42h-2.42zM69.73 48.56h2.42v2.42h-2.42zM6.2 50.67h2.42v2.42h-2.42zM12.56 50.67h2.42v2.42h-2.42zM23.14 50.67h2.42v2.42h-2.42zM29.5 50.67h2.42v2.42h-2.42zM50.67 50.67h2.42v2.42h-2.42zM59.14 50.67h2.42v2.42h-2.42zM61.26 50.67h2.42v2.42h-2.42zM44.32 52.79h2.42v2.42h-2.42zM4.09 54.91h2.42v2.42h-2.42zM35.85 54.91h2.42v2.42h-2.42zM48.56 54.91h2.42v2.42h-2.42zM52.79 54.91h2.42v2.42h-2.42zM63.38 54.91h2.42v2.42h-2.42zM18.91 57.03h2.42v2.42h-2.42zM44.32 57.03h2.42v2.42h-2.42zM48.56 57.03h2.42v2.42h-2.42zM57.03 57.03h2.42v2.42h-2.42zM69.73 57.03h2.42v2.42h-2.42zM6.2 59.14h2.42v2.42h-2.42zM50.67 59.14h2.42v2.42h-2.42zM52.79 59.14h2.42v2.42h-2.42zM8.32 61.26h2.42v2.42h-2.42zM37.97 61.26h2.42v2.42h-2.42zM18.91 63.38h2.42v2.42h-2.42zM31.61 63.38h2.42v2.42h-2.42zM65.5 63.38h2.42v2.42h-2.42zM27.38 65.5h2.42v2.42h-2.42zM29.5 65.5h2.42v2.42h-2.42zM35.85 65.5h2.42v2.42h-2.42zM63.38 65.5h2.42v2.42h-2.42zM27.38 67.61h2.42v2.42h-2.42zM35.85 67.61h2.42v2.42h-2.42zM-0.15 69.73h2.42v2.42h-2.42zM1.97 69.73h2.42v2.42h-2.42zM10.44 69.73h2.42v2.42h-2.42zM37.97 69.73h2.42v2.42h-2.42zM50.67 69.73h2.42v2.42h-2.42zM52.79 69.73h2.42v2.42h-2.42zM61.26 69.73h2.42v2.42h-2.42z"/><path fill="#c8c8c8" d="M4.09 -0.15h2.42v2.42h-2.42zM14.67 -0.15h2.42v2.42h-2.42zM29.5 -0.15h2.42v2.42h-2.42zM10.44 1.97h2.42v2.42h-2.42zM29.5 1.97h2.42v2.42h-2.42zM8.32 4.09h2.42v2.42h-2.42zM12.56 4.09h2.42v2.42h-2.42zM48.56 4.09h2.42v2.42h-2.42zM54.91 4.09h2.42v2.42h-2.42zM6.2 6.2h2.42v2.42h-2.42zM21.03 6.2h2.42v2.42h-2.42zM33.73 6.2h2.42v2.42h-2.42zM46.44 6.2h2.42v2.42h-2.42zM-0.15 8.32h2.42v2.42h-2.42zM4.09 8.32h2.42v2.42h-2.42zM8.32 8.32h2.42v2.42h-2.42zM25.26 8.32h2.42v2.42h-2.42zM35.85 8.32h2.42v2.42h-2.42zM12.56 10.44h2.42v2.42h-2.42zM27.38 10.44h2.42v2.42h-2.42zM29.5 10.44h2.42v2.42h-2.42zM54.91 10.44h2.42v2.42h-2.42zM1.97 12.56h2.42v2.42h-2.42zM14.67 12.56h2.42v2.42h-2.42zM23.14 12.56h2.42v2.42h-2.42zM63.38 12.56h2.42v2.42h-2.42zM65.5 12.56h2.42v2.42h-2.42zM54.91 16.79h2.42v2.42h-2.42zM40.09 18.91h2.42v2.42h-2.42zM59.14 18.91h2.42v2.42h-2.42zM61.26 18.91h2.42v2.42h-2.42zM65.5 18.91h2.42v2.42h-2.42zM67.61 18.91h2.42v2.42h-2.42zM31.61 21.03h2.42v2.42h-2.42zM57.03 21.03h2.42v2.42h-2.42zM8.32 23.14h2.42v2.42h-2.42zM65.5 23.14h2.42v2.42h-2.42zM50.67 25.26h2.42v2.42h-2.42zM52.79 25.26h2.42v2.42h-2.42zM57.03 25.26h2.42v2.42h-2.42zM59.14 25.26h2.42v2.42h-2.42zM63.38 25.26h2.42v2.42h-2.42zM1.97 27.38h2.42v2.42h-2.42zM8.32 27.38h2.42v2.42h-2.42zM40.09 27.38h2.42v2.42h-2.42zM48.56 27.38h2.42v2.42h-2.42zM1.97 29.5h2.42v2.42h-2.42zM8.32 29.5h2.42v2.42h-2.42zM14.67 29.5h2.42v2.42h-2.42zM18.91 29.5h2.42v2.42h-2.42zM50.67 29.5h2.42v2.42h-2.42zM1.97 31.61h2.42v2.42h-2.42zM25.26 31.61h2.42v2.42h-2.42zM35.85 31.61h2.42v2.42h-2.42zM6.2 33.73h2.42v2.42h-2.42zM8.32 33.73h2.42v2.42h-2.42zM10.44 33.73h2.42v2.42h-2.42zM6.2 35.85h2.42v2.42h-2.42zM18.91 35.85h2.42v2.42h-2.42zM29.5 35.85h2.42v2.42h-2.42zM67.61 35.85h2.42v2.42h-2.42zM10.44 37.97h2.42v2.42h-2.42zM21.03 37.97h2.42v2.42h-2.42zM37.97 37.97h2.42v2.42h-2.42zM46.44 37.97h2.42v2.42h-2.42zM48.56 37.97h2.42v2.42h-2.42zM54.91 37.97h2.42v2.42h-2.42zM59.14 37.97h2.42v2.42h-2.42zM61.26 37.97h2.42v2.42h-2.42zM12.56 40.09h2.42v2.42h-2.42zM29.5 40.09h2.42v2.42h-2.42zM37.97 40.09h2.42v2.42h-2.42zM44.32 40.09h2.42v2.42h-2.42zM54.91 40.09h2.42v2.42h-2.42zM61.26 40.09h2.42v2.42h-2.42zM63.38 40.09h2.42v2.42h-2.42zM-0.15 42.2h2.42v2.42h-2.42zM63.38 42.2h2.42v2.42h-2.42zM65.5 42.2h2.42v2.42h-2.42zM27.38 44.32h2.42v2.42h-2.42zM37.97 44.32h2.42v2.42h-2.42zM42.2 44.32h2.42v2.42h-2.42zM61.26 44.32h2.42v2.42h-2.42zM44.32 46.44h2.42v2.42h-2.42zM8.32 48.56h2.42v2.42h-2.42zM40.09 48.56h2.42v2.42h-2.42zM50.67 48.56h2.42v2.42h-2.42zM61.26 48.56h2.42v2.42h-2.42zM65.5 48.56h2.42v2.42h-2.42zM21.03 50.67h2.42v2.42h-2.42zM46.44 50.67h2.42v2.42h-2.42zM4.09 52.79h2.42v2.42h-2.42zM6.2 52.79h2.42v2.42h-2.42zM37.97 52.79h2.42v2.42h-2.42zM46.44 52.79h2.42v2.42h-2.42zM6.2 54.91h2.42v2.42h-2.42zM54.91 54.91h2.42v2.42h-2.42zM4.09 57.03h2.42v2.42h-2.42zM16.79 57.03h2.42v2.42h-2.42zM35.85 57.03h2.42v2.42h-2.42zM40.09 57.03h2.42v2.42h-2.42zM4.09 59.14h2.42v2.42h-2.42zM10.44 59.14h2.42v2.42h-2.42zM14.67 59.14h2.42v2.42h-2.42zM25.26 59.14h2.42v2.42h-2.42zM48.56 59.14h2.42v2.42h-2.42zM31.61 61.26h2.42v2.42h-2.42zM6.2 63.38h2.42v2.42h-2.42zM57.03 63.38h2.42v2.42h-2.42zM6.2 65.5h2.42v2.42h-2.42zM10.44 65.5h2.42v2.42h-2.42zM14.67 65.5h2.42v2.42h-2.42zM25.26 65.5h2.42v2.42h-2.42zM16.79 67.61h2.42v2.42h-2.42zM23.14 67.61h2.42v2.42h-2.42zM25.26 67.61h2.42v2.42h-2.42zM8.32 69.73h2.42v2.42h-2.42zM27.38 69.73h2.42v2.42h-2.42zM44.32 69.73h2.42v2.42h-2.42zM46.44 69.73h2.42v2.42h-2.42z"/><path fill="#d2d2d2" d="M57.03 -0.15h2.42v2.42h-2.42zM61.26 -0.15h2.42v2.42h-2.42zM42.2 1.97h2.42v2.42h-2.42zM44.32 1.97h2.42v2.42h-2.42zM6.2 4.09h2.42v2.42h-2.42zM52.79 4.09h2.42v2.42h-2.42zM42.2 6.2h2.42v2.42h-2.42zM44.32 6.2h2.42v2.42h-2.42zM21.03 8.32h2.42v2.42h-2.42zM27.38 8.32h2.42v2.42h-2.42zM40.09 8.32h2.42v2.42h-2.42zM44.32 8.32h2.42v2.42h-2.42zM46.44 8.32h2.42v2.42h-2.42zM35.85 10.44h2.42v2.42h-2.42zM31.61 12.56h2.42v2.42h-2.42zM61.26 12.56h2.42v2.42h-2.42zM48.56 14.67h2.42v2.42h-2.42zM61.26 14.67h2.42v2.42h-2.42zM40.09 16.79h2.42v2.42h-2.42zM57.03 16.79h2.42v2.42h-2.42zM29.5 18.91h2.42v2.42h-2.42zM8.32 21.03h2.42v2.42h-2.42zM46.44 21.03h2.42v2.42h-2.42zM48.56 21.03h2.42v2.42h-2.42zM4.09 29.5h2.42v2.42h-2.42zM6.2 29.5h2.42v2.42h-2.42zM4.09 31.61h2.42v2.42h-2.42zM10.44 31.61h2.42v2.42h-2.42zM46.44 31.61h2.42v2.42h-2.42zM48.56 31.61h2.42v2.42h-2.42zM27.38 33.73h2.42v2.42h-2.42zM29.5 33.73h2.42v2.42h-2.42zM33.73 33.73h2.42v2.42h-2.42zM46.44 33.73h2.42v2.42h-2.42zM50.67 33.73h2.42v2.42h-2.42zM14.67 35.85h2.42v2.42h-2.42zM69.73 35.85h2.42v2.42h-2.42zM16.79 37.97h2.42v2.42h-2.42zM33.73 37.97h2.42v2.42h-2.42zM25.26 40.09h2.42v2.42h-2.42zM27.38 40.09h2.42v2.42h-2.42zM69.73 40.09h2.42v2.42h-2.42zM25.26 42.2h2.42v2.42h-2.42zM4.09 46.44h2.42v2.42h-2.42zM21.03 46.44h2.42v2.42h-2.42zM65.5 46.44h2.42v2.42h-2.42zM1.97 48.56h2.42v2.42h-2.42zM6.2 48.56h2.42v2.42h-2.42zM23.14 48.56h2.42v2.42h-2.42zM37.97 48.56h2.42v2.42h-2.42zM54.91 48.56h2.42v2.42h-2.42zM1.97 50.67h2.42v2.42h-2.42zM33.73 50.67h2.42v2.42h-2.42zM57.03 52.79h2.42v2.42h-2.42zM37.97 54.91h2.42v2.42h-2.42zM65.5 54.91h2.42v2.42h-2.42zM14.67 57.03h2.42v2.42h-2.42zM37.97 57.03h2.42v2.42h-2.42zM67.61 57.03h2.42v2.42h-2.42zM12.56 59.14h2.42v2.42h-2.42zM23.14 59.14h2.42v2.42h-2.42zM57.03 59.14h2.42v2.42h-2.42zM59.14 61.26h2.42v2.42h-2.42zM65.5 61.26h2.42v2.42h-2.42zM67.61 61.26h2.42v2.42h-2.42zM12.56 63.38h2.42v2.42h-2.42zM44.32 63.38h2.42v2.42h-2.42zM18.91 65.5h2.42v2.42h-2.42zM-0.15 67.61h2.42v2.42h-2.42zM18.91 67.61h2.42v2.42h-2.42zM37.97 67.61h2.42v2.42h-2.42zM40.09 67.61h2.42v2.42h-2.42zM46.44 67.61h2.42v2.42h-2.42zM48.56 67.61h2.42v2.42h-2.42zM61.26 67.61h2.42v2.42h-2.42z"/><path fill="#dcdcdc" d="M65.5 -0.15h2.42v2.42h-2.42zM29.5 4.09h2.42v2.42h-2.42zM42.2 4.09h2.42v2.42h-2.42zM4.09 6.2h2.42v2.42h-2.42zM10.44 8.32h2.42v2.42h-2.42zM31.61 8.32h2.42v2.42h-2.42zM67.61 10.44h2.42v2.42h-2.42zM67.61 12.56h2.42v2.42h-2.42zM50.67 14.67h2.42v2.42h-2.42zM4.09 16.79h2.42v2.42h-2.42zM42.2 16.79h2.42v2.42h-2.42zM35.85 18.91h2.42v2.42h-2.42zM42.2 18.91h2.42v2.42h-2.42zM48.56 25.26h2.42v2.42h-2.42zM31.61 27.38h2.42v2.42h-2.42zM16.79 29.5h2.42v2.42h-2.42zM52.79 29.5h2.42v2.42h-2.42zM23.14 31.61h2.42v2.42h-2.42zM27.38 31.61h2.42v2.42h-2.42zM42.2 31.61h2.42v2.42h-2.42zM4.09 33.73h2.42v2.42h-2.42zM-0.15 35.85h2.42v2.42h-2.42zM16.79 35.85h2.42v2.42h-2.42zM29.5 37.97h2.42v2.42h-2.42zM18.91 40.09h2.42v2.42h-2.42zM21.03 40.09h2.42v2.42h-2.42zM1.97 42.2h2.42v2.42h-2.42zM59.14 42.2h2.42v2.42h-2.42zM61.26 42.2h2.42v2.42h-2.42zM4.09 44.32h2.42v2.42h-2.42zM35.85 50.67h2.42v2.42h-2.42zM65.5 50.67h2.42v2.42h-2.42zM33.73 52.79h2.42v2.42h-2.42zM40.09 52.79h2.42v2.42h-2.42zM54.91 52.79h2.42v2.42h-2.42zM-0.15 54.91h2.42v2.42h-2.42zM33.73 54.91h2.42v2.42h-2.42zM61.26 54.91h2.42v2.42h-2.42zM69.73 54.91h2.42v2.42h-2.42zM21.03 57.03h2.42v2.42h-2.42zM29.5 57.03h2.42v2.42h-2.42zM33.73 57.03h2.42v2.42h-2.42zM42.2 57.03h2.42v2.42h-2.42zM54.91 57.03h2.42v2.42h-2.42zM33.73 59.14h2.42v2.42h-2.42zM59.14 59.14h2.42v2.42h-2.42zM46.44 63.38h2.42v2.42h-2.42zM-0.15 65.5h2.42v2.42h-2.42zM8.32 65.5h2.42v2.42h-2.42zM8.32 67.61h2.42v2.42h-2.42zM10.44 67.61h2.42v2.42h-2.42zM21.03 67.61h2.42v2.42h-2.42zM59.14 67.61h2.42v2.42h-2.42zM40.09 69.73h2.42v2.42h-2.42z"/><path fill="#e6e6e6" d="M23.14 1.97h2.42v2.42h-2.42zM50.67 1.97h2.42v2.42h-2.42zM46.44 4.09h2.42v2.42h-2.42zM12.56 8.32h2.42v2.42h-2.42zM14.67 8.32h2.42v2.42h-2.42zM35.85 12.56h2.42v2.42h-2.42zM8.32 14.67h2.42v2.42h-2.42zM44.32 14.67h2.42v2.42h-2.42zM50.67 21.03h2.42v2.42h-2.42zM48.56 23.14h2.42v2.42h-2.42zM44.32 31.61h2.42v2.42h-2.42zM23.14 40.09h2.42v2.42h-2.42zM27.38 42.2h2.42v2.42h-2.42zM46.44 42.2h2.42v2.42h-2.42zM4.09 48.56h2.42v2.42h-2.42zM57.03 50.67h2.42v2.42h-2.42zM21.03 54.91h2.42v2.42h-2.42zM67.61 54.91h2.42v2.42h-2.42zM46.44 61.26h2.42v2.42h-2.42zM14.67 63.38h2.42v2.42h-2.42zM48.56 65.5h2.42v2.42h-2.42zM1.97 67.61h2.42v2.42h-2.42z"/><path fill="#f0f0f0" d="M44.32 4.09h2.42v2.42h-2.42zM50.67 4.09h2.42v2.42h-2.42zM-0.15 6.2h2.42v2.42h-2.42zM25.26 6.2h2.42v2.42h-2.42zM50.67 6.2h2.42v2.42h-2.42zM1.97 8.32h2.42v2.42h-2.42zM6.2 25.26h2.42v2.42h-2.42zM54.91 27.38h2.42v2.42h-2.42zM10.44 29.5h2.42v2.42h-2.42zM48.56 33.73h2.42v2.42h-2.42zM61.26 35.85h2.42v2.42h-2.42zM18.91 37.97h2.42v2.42h-2.42zM10.44 42.2h2.42v2.42h-2.42zM35.85 48.56h2.42v2.42h-2.42zM-0.15 52.79h2.42v2.42h-2.42zM31.61 52.79h2.42v2.42h-2.42zM8.32 63.38h2.42v2.42h-2.42z"/><path fill="#fafafa" d="M59.14 -0.15h2.42v2.42h-2.42zM1.97 6.2h2.42v2.42h-2.42zM33.73 8.32h2.42v2.42h-2.42zM21.03 10.44h2.42v2.42h-2.42zM23.14 10.44h2.42v2.42h-2.42zM52.79 27.38h2.42v2.42h-2.42zM10.44 35.85h2.42v2.42h-2.42zM63.38 48.56h2.42v2.42h-2.42zM54.91 50.67h2.42v2.42h-2.42zM63.38 50.67h2.42v2.42h-2.42zM1.97 52.79h2.42v2.42h-2.42zM1.97 54.91h2.42v2.42h-2.42zM10.44 63.38h2.42v2.42h-2.42zM61.26 65.5h2.42v2.42h-2.42z"/></g><radialGradient id="roiD2_g0"><stop offset="0" stop-color="#000" stop-opacity="0.8"/><stop offset="0.55" stop-color="#000" stop-opacity="0.48"/><stop offset="1" stop-color="#000" stop-opacity="0"/></radialGradient><circle cx="71" cy="1" r="11" fill="url(#roiD2_g0)"/><radialGradient id="roiD2_g1"><stop offset="0" stop-color="#000" stop-opacity="0.9"/><stop offset="0.55" stop-color="#000" stop-opacity="0.54"/><stop offset="1" stop-color="#000" stop-opacity="0"/></radialGradient><circle cx="71" cy="71" r="10" fill="url(#roiD2_g1)"/><radialGradient id="roiD2_g2"><stop offset="0" stop-color="#000" stop-opacity="0.3"/><stop offset="0.55" stop-color="#000" stop-opacity="0.18"/><stop offset="1" stop-color="#000" stop-opacity="0"/></radialGradient><circle cx="2" cy="71" r="6" fill="url(#roiD2_g2)"/><radialGradient id="roiD2_g3"><stop offset="0" stop-color="#000" stop-opacity="0.25"/><stop offset="0.55" stop-color="#000" stop-opacity="0.15"/><stop offset="1" stop-color="#000" stop-opacity="0"/></radialGradient><circle cx="72" cy="36" r="8" fill="url(#roiD2_g3)"/></g></g>
</defs>
<use href="#roiD1" transform="translate(435.1 168.1)"/>
<rect x="435.9" y="168.9" width="70.1" height="70.1" fill="none" stroke="#e02626" stroke-width="1.8"/>
<use href="#roiD2" transform="translate(510 168.1)"/>
<rect x="510.8" y="168.9" width="70.1" height="70.1" fill="none" stroke="#2277bb" stroke-width="1.8"/>
<use href="#roiD1" transform="translate(435.1 243.1)"/>
<rect x="435.9" y="243.9" width="70.1" height="70.1" fill="none" stroke="#e02626" stroke-width="1.8"/>
<use href="#roiD2" transform="translate(510 243.1)"/>
<rect x="510.8" y="243.9" width="70.1" height="70.1" fill="none" stroke="#2277bb" stroke-width="1.8"/>
<line x1="454.1" y1="220.6" x2="488.3" y2="187.1" stroke="#000" stroke-width="2" stroke-dasharray="5.4 2.5"/>
<line x1="528.6" y1="187.1" x2="562.1" y2="220.6" stroke="#000" stroke-width="2" stroke-dasharray="5.4 2.5"/>
<line x1="454.1" y1="295.6" x2="488.3" y2="262.1" stroke="#000" stroke-width="2" stroke-dasharray="5.4 2.5"/>
<line x1="528.6" y1="262.1" x2="562.1" y2="295.6" stroke="#000" stroke-width="2" stroke-dasharray="5.4 2.5"/>
<text x="461.15" y="165" font-size="8.7" textLength="20.31" lengthAdjust="spacingAndGlyphs">ROI1</text>
<text x="534.55" y="165" font-size="8.7" textLength="20.31" lengthAdjust="spacingAndGlyphs">ROI2</text>
<g transform="rotate(-90 357.4 206.2)"><text x="342.24" y="206.2" font-size="8.8" textLength="30.32" lengthAdjust="spacingAndGlyphs">Original</text></g>
<g transform="rotate(-90 357.4 277)"><text x="327.81" y="277" font-size="8.8" textLength="59.18" lengthAdjust="spacingAndGlyphs">Decompressed</text></g>
<line x1="266.3" y1="158.2" x2="280.8" y2="158.2" stroke="#9a9a9a" stroke-width="1.1"/>
<line x1="266.3" y1="168.2" x2="280.8" y2="168.2" stroke="#7b1f8c" stroke-width="1.3"/>
<text x="286" y="160.5" font-size="6.6" textLength="25.83" lengthAdjust="spacingAndGlyphs">Original</text>
<text x="286" y="170.5" font-size="6.6" textLength="49.18" lengthAdjust="spacingAndGlyphs">Decompressed</text>
<line x1="265.6" y1="204.4" x2="337.5" y2="204.4" stroke="#ebebeb" stroke-width="0.8"/>
<line x1="263.1" y1="204.4" x2="265.6" y2="204.4" stroke="#333" stroke-width="0.8"/>
<text x="252.07" y="206.7" font-size="7" textLength="9.73" lengthAdjust="spacingAndGlyphs">−8</text>
<line x1="265.6" y1="225.4" x2="337.5" y2="225.4" stroke="#ebebeb" stroke-width="0.8"/>
<line x1="263.1" y1="225.4" x2="265.6" y2="225.4" stroke="#333" stroke-width="0.8"/>
<text x="252.07" y="227.7" font-size="7" textLength="9.73" lengthAdjust="spacingAndGlyphs">−9</text>
<line x1="265.6" y1="187" x2="265.6" y2="233.2" stroke="#333" stroke-width="0.9"/>
<line x1="265.6" y1="233.2" x2="337.5" y2="233.2" stroke="#333" stroke-width="0.9"/>
<line x1="265.6" y1="233.2" x2="265.6" y2="235.7" stroke="#333" stroke-width="0.8"/>
<line x1="312.4" y1="233.2" x2="312.4" y2="235.7" stroke="#333" stroke-width="0.8"/>
<polyline points="265.6,195.37 267.94,208.81 270.28,213.64 272.62,215.11 274.96,217.84 277.3,212.8 279.64,213.01 281.98,217.42 284.32,225.4 286.66,220.36 289,215.11 291.34,193.69 293.68,189.91 296.02,203.14 298.36,219.1 300.7,211.96 303.04,207.13 305.38,208.39 307.72,213.64 310.06,222.04 312.4,226.03 314.74,230.44 317.08,226.45" fill="none" stroke="#9a9a9a" stroke-width="1.2" stroke-linejoin="round"/>
<polyline points="265.6,194.74 267.94,207.76 270.28,211.75 272.62,213.43 274.96,215.74 277.3,211.75 279.64,211.75 281.98,215.74 284.32,224.35 286.66,219.1 289,214.06 291.34,193.06 293.68,189.49 296.02,202.09 298.36,215.74 300.7,210.7 303.04,206.08 305.38,207.34 307.72,212.38 310.06,220.36 312.4,224.77 314.74,227.29 317.08,224.35" fill="none" stroke="#7b1f8c" stroke-width="1.5" stroke-linejoin="round"/>
<text x="266.1" y="184.4" font-size="7" textLength="13.93" lengthAdjust="spacingAndGlyphs">×10</text>
<text x="280.33" y="181.6" font-size="4.7" textLength="2.99" lengthAdjust="spacingAndGlyphs">2</text>
<text x="291.4" y="183.2" font-size="8.8" textLength="19.3" lengthAdjust="spacingAndGlyphs">ROI1</text>
<g transform="rotate(-90 246.8 210.1)"><text x="223.92" y="210.1" font-size="7" textLength="45.77" lengthAdjust="spacingAndGlyphs">Intensity (HU)</text></g>
<line x1="265.6" y1="255.1" x2="337.5" y2="255.1" stroke="#ebebeb" stroke-width="0.8"/>
<line x1="263.1" y1="255.1" x2="265.6" y2="255.1" stroke="#333" stroke-width="0.8"/>
<text x="252.07" y="257.4" font-size="7" textLength="9.73" lengthAdjust="spacingAndGlyphs">−7</text>
<line x1="265.6" y1="274.2" x2="337.5" y2="274.2" stroke="#ebebeb" stroke-width="0.8"/>
<line x1="263.1" y1="274.2" x2="265.6" y2="274.2" stroke="#333" stroke-width="0.8"/>
<text x="252.07" y="276.5" font-size="7" textLength="9.73" lengthAdjust="spacingAndGlyphs">−8</text>
<line x1="265.6" y1="293.3" x2="337.5" y2="293.3" stroke="#ebebeb" stroke-width="0.8"/>
<line x1="263.1" y1="293.3" x2="265.6" y2="293.3" stroke="#333" stroke-width="0.8"/>
<text x="252.07" y="295.6" font-size="7" textLength="9.73" lengthAdjust="spacingAndGlyphs">−9</text>
<line x1="265.6" y1="253.5" x2="265.6" y2="299.2" stroke="#333" stroke-width="0.9"/>
<line x1="265.6" y1="299.2" x2="337.5" y2="299.2" stroke="#333" stroke-width="0.9"/>
<line x1="265.6" y1="299.2" x2="265.6" y2="301.7" stroke="#333" stroke-width="0.8"/>
<line x1="312.4" y1="299.2" x2="312.4" y2="301.7" stroke="#333" stroke-width="0.8"/>
<text x="263.5" y="308.8" font-size="7" textLength="4.2" lengthAdjust="spacingAndGlyphs">0</text>
<text x="308.2" y="308.8" font-size="7" textLength="8.4" lengthAdjust="spacingAndGlyphs">20</text>
<text x="279.45" y="317.9" font-size="7" textLength="44.2" lengthAdjust="spacingAndGlyphs">Distance (px)</text>
<polyline points="265.6,289.67 267.94,283.75 270.28,275.54 272.62,265.41 274.96,255.48 277.3,270.19 279.64,285.09 281.98,285.28 284.32,287.38 286.66,287.76 289,291.77 291.34,294.26 293.68,293.11 296.02,291.58 298.36,291.2 300.7,291.58 303.04,289.67 305.38,287.19 307.72,289.86 310.06,291.77 312.4,290.44 314.74,284.51 317.08,277.26 319.42,278.78 321.76,288.53 324.1,288.72 326.44,287 328.78,284.9 331.12,289.86 333.46,297.31" fill="none" stroke="#9a9a9a" stroke-width="1.2" stroke-linejoin="round"/>
<polyline points="265.6,288.72 267.94,282.99 270.28,274.96 272.62,264.84 274.96,255.1 277.3,269.43 279.64,283.56 281.98,283.37 284.32,285.47 286.66,285.85 289,289.86 291.34,292.73 293.68,291.96 296.02,290.44 298.36,290.05 300.7,290.44 303.04,288.72 305.38,286.23 307.72,288.72 310.06,290.44 312.4,289.29 314.74,283.56 317.08,276.49 319.42,277.83 321.76,287 324.1,287.57 326.44,285.85 328.78,283.94 331.12,288.72 333.46,293.49" fill="none" stroke="#7b1f8c" stroke-width="1.5" stroke-linejoin="round"/>
<text x="266.1" y="250.9" font-size="7" textLength="13.93" lengthAdjust="spacingAndGlyphs">×10</text>
<text x="280.33" y="248.1" font-size="4.7" textLength="2.99" lengthAdjust="spacingAndGlyphs">2</text>
<text x="291.4" y="249.7" font-size="8.8" textLength="19.3" lengthAdjust="spacingAndGlyphs">ROI2</text>
<g transform="rotate(-90 246.8 276.35)"><text x="223.92" y="276.35" font-size="7" textLength="45.77" lengthAdjust="spacingAndGlyphs">Intensity (HU)</text></g>
<line x1="606.4" y1="158.2" x2="620.9" y2="158.2" stroke="#9a9a9a" stroke-width="1.1"/>
<line x1="606.4" y1="168.2" x2="620.9" y2="168.2" stroke="#7b1f8c" stroke-width="1.3"/>
<text x="626.1" y="160.5" font-size="6.6" textLength="25.83" lengthAdjust="spacingAndGlyphs">Original</text>
<text x="626.1" y="170.5" font-size="6.6" textLength="49.18" lengthAdjust="spacingAndGlyphs">Decompressed</text>
<line x1="601.8" y1="195" x2="680.4" y2="195" stroke="#ebebeb" stroke-width="0.8"/>
<line x1="599.3" y1="195" x2="601.8" y2="195" stroke="#333" stroke-width="0.8"/>
<text x="593.8" y="197.3" font-size="7" textLength="4.2" lengthAdjust="spacingAndGlyphs">5</text>
<line x1="601.8" y1="210.4" x2="680.4" y2="210.4" stroke="#ebebeb" stroke-width="0.8"/>
<line x1="599.3" y1="210.4" x2="601.8" y2="210.4" stroke="#333" stroke-width="0.8"/>
<text x="593.8" y="212.7" font-size="7" textLength="4.2" lengthAdjust="spacingAndGlyphs">0</text>
<line x1="601.8" y1="225.8" x2="680.4" y2="225.8" stroke="#ebebeb" stroke-width="0.8"/>
<line x1="599.3" y1="225.8" x2="601.8" y2="225.8" stroke="#333" stroke-width="0.8"/>
<text x="588.27" y="228.1" font-size="7" textLength="9.73" lengthAdjust="spacingAndGlyphs">−5</text>
<line x1="601.8" y1="186.8" x2="601.8" y2="233.5" stroke="#333" stroke-width="0.9"/>
<line x1="601.8" y1="233.5" x2="680.4" y2="233.5" stroke="#333" stroke-width="0.9"/>
<line x1="601.8" y1="233.5" x2="601.8" y2="236" stroke="#333" stroke-width="0.8"/>
<line x1="653.34" y1="233.5" x2="653.34" y2="236" stroke="#333" stroke-width="0.8"/>
<polyline points="601.8,216.9 604.38,208.86 606.95,201.53 609.53,215.97 612.11,219.73 614.68,216.28 617.26,218.16 619.84,221.61 622.42,223.52 624.99,225.71 627.57,229.8 630.15,216.9 632.72,211.57 635.3,226.32 637.88,223.18 640.45,220.35 643.03,217.79 645.61,221 648.19,228.85 650.76,229.47 653.34,212.22 655.92,199.62 658.49,202.76 661.07,208.74 663.65,202.76 666.22,196.48 668.8,189.89 671.38,199 673.96,204.95 676.53,213.08" fill="none" stroke="#9a9a9a" stroke-width="1.2" stroke-linejoin="round"/>
<polyline points="601.8,215.05 604.38,207.63 606.95,200.61 609.53,214.43 612.11,218.19 614.68,215.05 617.26,216.93 619.84,220.07 622.42,221.98 624.99,223.86 627.57,228.88 630.15,215.67 632.72,210.65 635.3,224.48 637.88,221.33 640.45,218.81 643.03,216.56 645.61,219.46 648.19,227 650.76,227.62 653.34,211.29 655.92,198.7 658.49,201.22 661.07,207.5 663.65,201.84 666.22,195.55 668.8,189.27 671.38,197.46 673.96,203.1 676.53,209.38" fill="none" stroke="#7b1f8c" stroke-width="1.5" stroke-linejoin="round"/>
<text x="602.3" y="184.2" font-size="7" textLength="13.93" lengthAdjust="spacingAndGlyphs">×10</text>
<text x="616.53" y="181.4" font-size="4.7" textLength="2.99" lengthAdjust="spacingAndGlyphs">1</text>
<text x="630.95" y="183" font-size="8.8" textLength="19.3" lengthAdjust="spacingAndGlyphs">ROI1</text>
<line x1="601.8" y1="262.28" x2="680.4" y2="262.28" stroke="#ebebeb" stroke-width="0.8"/>
<line x1="599.3" y1="262.28" x2="601.8" y2="262.28" stroke="#333" stroke-width="0.8"/>
<text x="593.8" y="264.58" font-size="7" textLength="4.2" lengthAdjust="spacingAndGlyphs">5</text>
<line x1="601.8" y1="287.3" x2="680.4" y2="287.3" stroke="#ebebeb" stroke-width="0.8"/>
<line x1="599.3" y1="287.3" x2="601.8" y2="287.3" stroke="#333" stroke-width="0.8"/>
<text x="593.8" y="289.6" font-size="7" textLength="4.2" lengthAdjust="spacingAndGlyphs">0</text>
<line x1="601.8" y1="252.6" x2="601.8" y2="299.1" stroke="#333" stroke-width="0.9"/>
<line x1="601.8" y1="299.1" x2="680.4" y2="299.1" stroke="#333" stroke-width="0.9"/>
<line x1="601.8" y1="299.1" x2="601.8" y2="301.6" stroke="#333" stroke-width="0.8"/>
<line x1="653.34" y1="299.1" x2="653.34" y2="301.6" stroke="#333" stroke-width="0.8"/>
<text x="599.7" y="308.7" font-size="7" textLength="4.2" lengthAdjust="spacingAndGlyphs">0</text>
<text x="649.14" y="308.7" font-size="7" textLength="8.4" lengthAdjust="spacingAndGlyphs">20</text>
<text x="619" y="317.8" font-size="7" textLength="44.2" lengthAdjust="spacingAndGlyphs">Distance (px)</text>
<polyline points="601.8,287.7 604.38,276.99 606.95,275.09 609.53,291.3 612.11,278.24 614.68,279.84 617.26,282.6 619.84,284.8 622.42,283.2 624.99,284.45 627.57,276.34 630.15,282.1 632.72,278.24 635.3,258.18 637.88,262.93 640.45,260.78 643.03,259.68 645.61,266.89 648.19,276.84 650.76,288.05 653.34,268.89 655.92,281.19 658.49,297 661.07,267.09 663.65,273.14 666.22,276.84 668.8,260.28 671.38,263.18 673.96,269.39 676.53,280.34" fill="none" stroke="#9a9a9a" stroke-width="1.2" stroke-linejoin="round"/>
<polyline points="601.8,285.7 604.38,274.49 606.95,272.59 609.53,283.8 612.11,275.74 614.68,277.34 617.26,280.09 619.84,282.3 622.42,280.69 624.99,281.95 627.57,273.84 630.15,279.09 632.72,275.74 635.3,255.18 637.88,259.93 640.45,258.28 643.03,256.68 645.61,263.88 648.19,273.84 650.76,283.55 653.34,266.39 655.92,278.19 658.49,292.5 661.07,264.58 663.65,270.14 666.22,273.84 668.8,258.28 671.38,260.18 673.96,266.39 676.53,276.34" fill="none" stroke="#7b1f8c" stroke-width="1.5" stroke-linejoin="round"/>
<text x="602.3" y="250" font-size="7" textLength="13.93" lengthAdjust="spacingAndGlyphs">×10</text>
<text x="616.53" y="247.2" font-size="4.7" textLength="2.99" lengthAdjust="spacingAndGlyphs">1</text>
<text x="630.95" y="248.8" font-size="8.8" textLength="19.3" lengthAdjust="spacingAndGlyphs">ROI2</text>
<g transform="rotate(-90 588.6 275.85)"><text x="565.72" y="275.85" font-size="7" textLength="45.77" lengthAdjust="spacingAndGlyphs">Intensity (HU)</text></g>
<text x="-0.3" y="343.8" font-size="15.2" font-weight="bold" textLength="8.45" lengthAdjust="spacingAndGlyphs">e</text>
<rect x="18" y="348.9" width="5.2" height="5.2" fill="#86aee6"/>
<text x="30.2" y="354.6" font-size="8.7" textLength="18.86" lengthAdjust="spacingAndGlyphs">Liver</text>
<rect x="56.7" y="348.9" width="5.2" height="5.2" fill="#f5a9a9"/>
<text x="68.7" y="354.6" font-size="8.7" textLength="34.33" lengthAdjust="spacingAndGlyphs">Stomach</text>
<rect x="111" y="348.9" width="5.2" height="5.2" fill="#9ddc7c"/>
<text x="123.2" y="354.6" font-size="8.7" textLength="27.09" lengthAdjust="spacingAndGlyphs">Spleen</text>
<rect x="157.6" y="348.9" width="5.2" height="5.2" fill="#ebc68a"/>
<text x="170" y="354.6" font-size="8.7" textLength="22.25" lengthAdjust="spacingAndGlyphs">Spine</text>
<rect x="316.2" y="348.9" width="5.2" height="5.2" fill="#8e4b9e"/>
<text x="328.8" y="354.6" font-size="8.7" textLength="11.12" lengthAdjust="spacingAndGlyphs">TP</text>
<rect x="347.5" y="348.9" width="5.2" height="5.2" fill="#3a9a3a"/>
<text x="359.9" y="354.6" font-size="8.7" textLength="11.12" lengthAdjust="spacingAndGlyphs">FP</text>
<rect x="378.7" y="348.9" width="5.2" height="5.2" fill="#f0b050"/>
<text x="391" y="354.6" font-size="8.7" textLength="11.6" lengthAdjust="spacingAndGlyphs">FN</text>
<defs>
<pattern id="speck" patternUnits="userSpaceOnUse" width="5" height="5"><rect width="5" height="5" fill="#0a0a0a"/><rect x="0.5" y="1" width="1" height="1" fill="#555"/><rect x="3" y="3.2" width="1" height="1" fill="#444"/><rect x="2.2" y="0.2" width="0.8" height="0.8" fill="#3a3a3a"/></pattern>
<g id="ctE"><rect width="100" height="100" fill="#020202"/><g filter="url(#bl1)"><path d="M2,86 C20,92 80,92 98,85 L98,90 C80,97 20,97 2,91 Z" fill="#111" stroke="#666" stroke-width="1.2"/><ellipse cx="42.7" cy="51.7" rx="40.8" ry="37.7" fill="#6c6c6c"/><ellipse cx="45" cy="48.5" rx="31" ry="28" fill="url(#speck)"/><path d="M14,44 C14,32 22,22 34,20 C46,19 56,20 62,24 L60,40 C56,46 50,50 44,52 C36,56 26,58 18,56 C15,52 14,48 14,44 Z" fill="#777"/><path d="M46,53 C48,50 52,50 53,53 L54,70 C52,74 48,74 46,70 Z" fill="#4e4e4e"/></g><path d="M16,42 C17,33 23,27 31,24 C39,22 47,22 55,23 C55,29 54,35 55,40 C56,46 53,50 49,52 C43,55 39,59 33,61 C27,62 22,60 19,56 C16,52 15,47 16,42 Z" fill="#86aee6"/><path d="M54,26 C60,22 68,24 72,28 C75,32 76,38 73,42 C68,46 60,45 56,40 C54,35 53,30 54,26 Z" fill="#030303"/><path d="M58,52 C60,49 66,49 69,51 C68,56 64,58 61,58 C59,57 58,55 58,52 Z" fill="#f5a9a9"/><path d="M63,58 C66,56 69,54 71,51 C73,54 73,60 70,62 C67,63 64,62 63,58 Z" fill="#9ddc7c"/><path d="M42,64 C43,61 49,61 50,64 C51,66 50,68 48,69 C50,71 50,75 47,77 C43,78 41,76 42,72 C41,70 41,67 42,64 Z" fill="#ebc68a"/></g>
<g id="diffE"><rect width="100" height="100" fill="#d3d3d3"/><path d="M23,28.6 C30,24 36,22 40.8,22.2 C45,22 49,22.5 52.1,23.8 C51,28 50,32 50.5,35.9 C51,39 53,42 52.9,45.7 C50,46 48,46 45.7,47.3 C42,51 39,55 35.9,58.6 C33,60.5 30,61.5 27.9,61.1 C22,60 18,56 16.5,52.1 C14.5,48 14,45 14.8,42.4 C15.5,37 18,32 23,28.6 Z" fill="#8e4b9e"/><path d="M51,45 C52,44 55,44 56,46 C56,48 55,49 54,49 Z" fill="#8e4b9e"/><path d="M57,52 C58,49 61,49 63,50 C65,49 68,50 70,52 C71,56 70,60 66,62 C62,63 59,61 58,58 C57,56 57,54 57,52 Z" fill="#8e4b9e"/><path d="M42,67 C42,64 48,63 50,66 C51,69 50,71 48,72 C50,74 50,78 47,79 C44,79 42,77 43,75 C41,73 41,70 42,67 Z" fill="#8e4b9e"/><rect x="45.5" y="35.5" width="8.5" height="8.5" fill="none" stroke="#e02626" stroke-width="1.3"/><rect x="64" y="50" width="8.5" height="8" fill="none" stroke="#2277bb" stroke-width="1.3"/></g>
</defs>
<use href="#ctE" transform="translate(17 361) scale(0.74 0.73)"/>
<use href="#ctE" transform="translate(95 361) scale(0.74 0.73)"/>
<use href="#diffE" transform="translate(173 361) scale(0.73 0.73)"/>
<g transform="translate(250.8 361.1)">
<rect width="73.8" height="73.6" fill="#d3d3d3"/>
<path d="M0,0 L42.6,0 L44,6 L46,16 L48,26 L50.6,40 L52.5,50 L54,58 L56,66 L59.7,73.6 L0,73.6 Z" fill="#8e4b9e"/>
<path d="M44.5,8 L46.5,18 L48.5,28 L50.5,38 L51.5,44" fill="none" stroke="#3a9a3a" stroke-width="1.6"/>
<path d="M54.5,60 L56.5,66 L59.2,72" fill="none" stroke="#f0b050" stroke-width="1.6"/>
</g>
<rect x="251.6" y="361.9" width="72.2" height="72" fill="none" stroke="#e02626" stroke-width="1.8"/>
<g transform="translate(329.2 361.1)">
<rect width="73.6" height="73.6" fill="#d3d3d3"/>
<path d="M0,13.7 C8,13 16,16 22,24 C24,30 22,40 18,48 C14,54 8,58 0,61 Z" fill="#8e4b9e"/>
<path d="M0,66 C6,62 14,57 20,53 C27,48 33,42 38,37.5 C42,34.5 44,34 47.7,34 C50,34 52,34.5 54,38 C58,46 62,58 65,73.6 L0,73.6 Z" fill="#8e4b9e"/>
<path d="M0,13.2 C8,12.5 16,15.5 22.5,23.5" fill="none" stroke="#f0b050" stroke-width="1.6"/>
<path d="M23,26 C23,34 21,42 17,48 C14,52 10,55 6,57" fill="none" stroke="#3a9a3a" stroke-width="1.6"/>
<path d="M20,52 C27,47 33,41 38,36.8 C42,33.8 44,33.3 47.7,33.3 C50.5,33.3 52.5,33.8 54.6,37.5 C58.6,45.5 62.6,57.5 65.6,72" fill="none" stroke="#3a9a3a" stroke-width="1.5"/>
<path d="M0,62.5 C3,61.5 6,60.5 8,60 L6,62.5 C4,63.5 2,64.5 0,65 Z" fill="#e8e8e8"/>
</g>
<rect x="330" y="361.9" width="72" height="72" fill="none" stroke="#2277bb" stroke-width="1.8"/>
<text x="38.84" y="447.6" font-size="8.8" textLength="30.32" lengthAdjust="spacingAndGlyphs">Original</text>
<text x="102.41" y="447.6" font-size="8.8" textLength="59.18" lengthAdjust="spacingAndGlyphs">Decompressed</text>
<text x="190.03" y="447.6" font-size="8.8" textLength="39.95" lengthAdjust="spacingAndGlyphs">Difference</text>
<text x="277.43" y="447.6" font-size="8.8" textLength="20.54" lengthAdjust="spacingAndGlyphs">ROI1</text>
<text x="355.63" y="447.6" font-size="8.8" textLength="20.54" lengthAdjust="spacingAndGlyphs">ROI2</text>
<text x="418.6" y="343.6" font-size="15.2" font-weight="bold" textLength="5.06" lengthAdjust="spacingAndGlyphs">f</text>
<path d="M487.2,361.1 A33,33 0 0 0 456.01,404.89 L465.18,401.72 A23.3,23.3 0 0 1 487.2,370.8 Z" fill="#b2df8a" stroke="#111" stroke-width="1.1"/>
<path d="M456.01,404.89 A33,33 0 1 0 487.2,361.1 L487.2,370.8 A23.3,23.3 0 1 1 465.18,401.72 Z" fill="#a6cee3" stroke="#111" stroke-width="1.1"/>
<text x="481.47" y="391.9" font-size="9.8" textLength="11.45" lengthAdjust="spacingAndGlyphs">82</text>
<text x="468.29" y="402.2" font-size="9.8" textLength="37.81" lengthAdjust="spacingAndGlyphs">Seconds</text>
<text x="449.2" y="441.2" font-size="8.7" textLength="76.01" lengthAdjust="spacingAndGlyphs">Encoding per data</text>
<path d="M609.5,361.1 A33,33 0 1 0 610.54,427.08 L610.23,417.39 A23.3,23.3 0 1 1 609.5,370.8 Z" fill="#b2df8a" stroke="#111" stroke-width="1.1"/>
<path d="M610.54,427.08 A33,33 0 0 0 609.5,361.1 L609.5,370.8 A23.3,23.3 0 0 1 610.23,417.39 Z" fill="#a6cee3" stroke="#111" stroke-width="1.1"/>
<text x="603.77" y="391.9" font-size="9.8" textLength="11.45" lengthAdjust="spacingAndGlyphs">47</text>
<text x="590.59" y="402.2" font-size="9.8" textLength="37.81" lengthAdjust="spacingAndGlyphs">Seconds</text>
<text x="571" y="441.2" font-size="8.7" textLength="77" lengthAdjust="spacingAndGlyphs">Decoding per data</text>
<text x="437.6" y="370" font-size="7.6" textLength="22.4" lengthAdjust="spacingAndGlyphs">30.3%</text>
<text x="513.2" y="423.4" font-size="7.6" textLength="22.4" lengthAdjust="spacingAndGlyphs">69.7%</text>
<text x="552.2" y="397.8" font-size="7.6" textLength="22.4" lengthAdjust="spacingAndGlyphs">50.5%</text>
<text x="644.5" y="397.8" font-size="7.6" textLength="22.4" lengthAdjust="spacingAndGlyphs">49.5%</text>
<rect x="566" y="342.6" width="15.2" height="5.6" fill="#b2df8a" stroke="#111" stroke-width="0.9"/>
<text x="586.9" y="347.8" font-size="7.2" textLength="24.53" lengthAdjust="spacingAndGlyphs">Texture</text>
<rect x="625.3" y="342.6" width="15.1" height="5.6" fill="#a6cee3" stroke="#111" stroke-width="0.9"/>
<text x="645.5" y="347.8" font-size="7.2" textLength="21.92" lengthAdjust="spacingAndGlyphs">Shape</text>
<text x="0.3" y="470.5" font-size="15.2" font-weight="bold" textLength="9.28" lengthAdjust="spacingAndGlyphs">g</text>
<path d="M31.74,474.6V566.4M35.86,474.6V566.4M39.98,474.6V566.4M44.1,474.6V566.4M48.22,474.6V566.4M52.34,474.6V566.4M56.46,474.6V566.4M60.58,474.6V566.4M64.7,474.6V566.4M68.82,474.6V566.4M72.94,474.6V566.4M77.06,474.6V566.4M81.18,474.6V566.4M85.3,474.6V566.4M89.42,474.6V566.4M93.54,474.6V566.4M97.66,474.6V566.4M101.78,474.6V566.4M105.9,474.6V566.4M110.02,474.6V566.4M114.14,474.6V566.4M118.26,474.6V566.4M122.38,474.6V566.4M126.5,474.6V566.4M130.62,474.6V566.4M31.3,566.4H130.8M31.3,562.73H130.8M31.3,559.06H130.8M31.3,555.38H130.8M31.3,551.71H130.8M31.3,548.04H130.8M31.3,544.37H130.8M31.3,540.7H130.8M31.3,537.02H130.8M31.3,533.35H130.8M31.3,529.68H130.8M31.3,526.01H130.8M31.3,522.34H130.8M31.3,518.66H130.8M31.3,514.99H130.8M31.3,511.32H130.8M31.3,507.65H130.8M31.3,503.98H130.8M31.3,500.3H130.8M31.3,496.63H130.8M31.3,492.96H130.8M31.3,489.29H130.8M31.3,485.62H130.8M31.3,481.94H130.8M31.3,478.27H130.8M31.3,474.6H130.8" stroke="#e4e4e4" stroke-width="0.8" fill="none"/>
<clipPath id="cg1"><rect x="27.3" y="470.6" width="107.5" height="99.8"/></clipPath>
<clipPath id="cg1L"><rect x="31.3" y="474.6" width="103.5" height="91.8"/></clipPath>
<line x1="36" y1="558.5" x2="86" y2="511.6" stroke="#a8a8a8" stroke-width="0.9"/>
<g clip-path="url(#cg1L)">
<polyline points="36.38,415.85 49.25,513.34 75,528.76" fill="none" stroke="#3287c9" stroke-width="1.5" stroke-linejoin="round" stroke-dasharray="4.4 2.6"/>
<polyline points="36.38,490.02 49.25,511.32 75,521.79 126.5,532.07" fill="none" stroke="#3287c9" stroke-width="1.5" stroke-linejoin="round"/>
<polyline points="36.38,535.74 49.25,542.72 75,550.61 126.5,557.59" fill="none" stroke="#ecb84a" stroke-width="1.5" stroke-linejoin="round" stroke-dasharray="4.4 2.6"/>
<polyline points="36.38,546.94 49.25,553.42 75,557.95 126.5,559.97" fill="none" stroke="#ecb84a" stroke-width="1.5" stroke-linejoin="round"/>
<polyline points="36.38,550.35 49.25,556.19 75,558.69 126.5,560.34" fill="none" stroke="#5f8436" stroke-width="1.5" stroke-linejoin="round"/>
<polyline points="36.38,485.43 49.25,510.95 75,530.05 126.5,542.35" fill="none" stroke="#5f8436" stroke-width="1.5" stroke-linejoin="round" stroke-dasharray="4.4 2.6"/>
<polyline points="36.38,499.57 49.25,519.03 75,536.29 126.5,552.63" fill="none" stroke="#de5d70" stroke-width="1.5" stroke-linejoin="round" stroke-dasharray="4.4 2.6"/>
<polyline points="36.38,536.66 49.25,544.74 75,553 126.5,558.69" fill="none" stroke="#de5d70" stroke-width="1.5" stroke-linejoin="round"/>
<polyline points="36.38,553.97 49.25,557.35 75,559.24 126.5,560.89" fill="none" stroke="#9a4db2" stroke-width="1.5" stroke-linejoin="round"/>
</g><g clip-path="url(#cg1)">
<path d="M48.31,510.79h1.87v1.61h1.61v1.87h-1.61v1.61h-1.87v-1.61h-1.61v-1.87h1.61z" fill="#3287c9"/>
<path d="M74.06,526.21h1.87v1.61h1.61v1.87h-1.61v1.61h-1.87v-1.61h-1.61v-1.87h1.61z" fill="#3287c9"/>
<path d="M33.74,490.02L39.01,490.02M34.51,488.16L38.24,491.89M36.38,487.39L36.38,492.66M38.24,488.16L34.51,491.89" stroke="#3287c9" stroke-width="1.36" stroke-linecap="round"/>
<path d="M46.62,511.32L51.88,511.32M47.39,509.46L51.11,513.18M49.25,508.69L49.25,513.96M51.11,509.46L47.39,513.18" stroke="#3287c9" stroke-width="1.36" stroke-linecap="round"/>
<path d="M72.36,521.79L77.64,521.79M73.14,519.92L76.86,523.65M75,519.15L75,524.42M76.86,519.92L73.14,523.65" stroke="#3287c9" stroke-width="1.36" stroke-linecap="round"/>
<path d="M123.86,532.07L129.13,532.07M124.64,530.2L128.36,533.93M126.5,529.43L126.5,534.7M128.36,530.2L124.64,533.93" stroke="#3287c9" stroke-width="1.36" stroke-linecap="round"/>
<polygon points="36.38,538.54 39.09,533.78 33.66,533.78" fill="#ecb84a"/>
<polygon points="49.25,545.52 51.97,540.76 46.53,540.76" fill="#ecb84a"/>
<polygon points="75,553.42 77.72,548.66 72.28,548.66" fill="#ecb84a"/>
<polygon points="126.5,560.39 129.22,555.63 123.78,555.63" fill="#ecb84a"/>
<polygon points="36.38,544.13 39.09,548.89 33.66,548.89" fill="#ecb84a"/>
<polygon points="49.25,550.61 51.97,555.37 46.53,555.37" fill="#ecb84a"/>
<polygon points="75,555.15 77.72,559.91 72.28,559.91" fill="#ecb84a"/>
<polygon points="126.5,557.17 129.22,561.93 123.78,561.93" fill="#ecb84a"/>
<rect x="34.25" y="548.23" width="4.25" height="4.25" fill="#5f8436"/>
<rect x="47.12" y="554.07" width="4.25" height="4.25" fill="#5f8436"/>
<rect x="72.88" y="556.56" width="4.25" height="4.25" fill="#5f8436"/>
<rect x="124.38" y="558.22" width="4.25" height="4.25" fill="#5f8436"/>
<polygon points="36.38,482.54 39.27,485.43 36.38,488.32 33.48,485.43" fill="#5f8436"/>
<polygon points="49.25,508.06 52.14,510.95 49.25,513.84 46.36,510.95" fill="#5f8436"/>
<polygon points="75,527.16 77.89,530.05 75,532.94 72.11,530.05" fill="#5f8436"/>
<polygon points="126.5,539.46 129.39,542.35 126.5,545.24 123.61,542.35" fill="#5f8436"/>
<polygon points="36.38,502.12 34.17,500.84 34.17,498.29 36.38,497.02 38.58,498.29 38.58,500.84" fill="#de5d70"/>
<polygon points="49.25,521.58 47.04,520.31 47.04,517.76 49.25,516.48 51.46,517.76 51.46,520.31" fill="#de5d70"/>
<polygon points="75,538.84 72.79,537.56 72.79,535.01 75,533.74 77.21,535.01 77.21,537.56" fill="#de5d70"/>
<polygon points="126.5,555.18 124.29,553.9 124.29,551.36 126.5,550.08 128.71,551.36 128.71,553.9" fill="#de5d70"/>
<circle cx="36.38" cy="536.66" r="2.46" fill="#de5d70"/>
<circle cx="49.25" cy="544.74" r="2.46" fill="#de5d70"/>
<circle cx="75" cy="553" r="2.46" fill="#de5d70"/>
<circle cx="126.5" cy="558.69" r="2.46" fill="#de5d70"/>
<circle cx="36.38" cy="553.97" r="2.46" fill="#9a4db2"/>
<circle cx="49.25" cy="557.35" r="2.46" fill="#9a4db2"/>
<circle cx="75" cy="559.24" r="2.46" fill="#9a4db2"/>
<circle cx="126.5" cy="560.89" r="2.46" fill="#9a4db2"/>
</g>
<line x1="31.3" y1="474.6" x2="31.3" y2="566.4" stroke="#333" stroke-width="1"/>
<line x1="31.3" y1="566.4" x2="130.8" y2="566.4" stroke="#333" stroke-width="1"/>
<line x1="29.7" y1="566.4" x2="31.3" y2="566.4" stroke="#333" stroke-width="0.6"/>
<line x1="29.7" y1="562.73" x2="31.3" y2="562.73" stroke="#333" stroke-width="0.6"/>
<line x1="29.7" y1="559.06" x2="31.3" y2="559.06" stroke="#333" stroke-width="0.6"/>
<line x1="29.7" y1="555.38" x2="31.3" y2="555.38" stroke="#333" stroke-width="0.6"/>
<line x1="29.7" y1="551.71" x2="31.3" y2="551.71" stroke="#333" stroke-width="0.6"/>
<line x1="29.7" y1="548.04" x2="31.3" y2="548.04" stroke="#333" stroke-width="0.6"/>
<line x1="29.7" y1="544.37" x2="31.3" y2="544.37" stroke="#333" stroke-width="0.6"/>
<line x1="29.7" y1="540.7" x2="31.3" y2="540.7" stroke="#333" stroke-width="0.6"/>
<line x1="29.7" y1="537.02" x2="31.3" y2="537.02" stroke="#333" stroke-width="0.6"/>
<line x1="29.7" y1="533.35" x2="31.3" y2="533.35" stroke="#333" stroke-width="0.6"/>
<line x1="29.7" y1="529.68" x2="31.3" y2="529.68" stroke="#333" stroke-width="0.6"/>
<line x1="29.7" y1="526.01" x2="31.3" y2="526.01" stroke="#333" stroke-width="0.6"/>
<line x1="29.7" y1="522.34" x2="31.3" y2="522.34" stroke="#333" stroke-width="0.6"/>
<line x1="29.7" y1="518.66" x2="31.3" y2="518.66" stroke="#333" stroke-width="0.6"/>
<line x1="29.7" y1="514.99" x2="31.3" y2="514.99" stroke="#333" stroke-width="0.6"/>
<line x1="29.7" y1="511.32" x2="31.3" y2="511.32" stroke="#333" stroke-width="0.6"/>
<line x1="29.7" y1="507.65" x2="31.3" y2="507.65" stroke="#333" stroke-width="0.6"/>
<line x1="29.7" y1="503.98" x2="31.3" y2="503.98" stroke="#333" stroke-width="0.6"/>
<line x1="29.7" y1="500.3" x2="31.3" y2="500.3" stroke="#333" stroke-width="0.6"/>
<line x1="29.7" y1="496.63" x2="31.3" y2="496.63" stroke="#333" stroke-width="0.6"/>
<line x1="29.7" y1="492.96" x2="31.3" y2="492.96" stroke="#333" stroke-width="0.6"/>
<line x1="29.7" y1="489.29" x2="31.3" y2="489.29" stroke="#333" stroke-width="0.6"/>
<line x1="29.7" y1="485.62" x2="31.3" y2="485.62" stroke="#333" stroke-width="0.6"/>
<line x1="29.7" y1="481.94" x2="31.3" y2="481.94" stroke="#333" stroke-width="0.6"/>
<line x1="29.7" y1="478.27" x2="31.3" y2="478.27" stroke="#333" stroke-width="0.6"/>
<line x1="29.7" y1="474.6" x2="31.3" y2="474.6" stroke="#333" stroke-width="0.6"/>
<line x1="29.1" y1="566.4" x2="31.3" y2="566.4" stroke="#333" stroke-width="0.9"/>
<text x="23.97" y="569.4" font-size="8.7" textLength="5.03" lengthAdjust="spacingAndGlyphs">0</text>
<line x1="29.1" y1="548.04" x2="31.3" y2="548.04" stroke="#333" stroke-width="0.9"/>
<text x="18.95" y="551.04" font-size="8.7" textLength="10.05" lengthAdjust="spacingAndGlyphs">10</text>
<line x1="29.1" y1="529.68" x2="31.3" y2="529.68" stroke="#333" stroke-width="0.9"/>
<text x="18.95" y="532.68" font-size="8.7" textLength="10.05" lengthAdjust="spacingAndGlyphs">20</text>
<line x1="29.1" y1="511.32" x2="31.3" y2="511.32" stroke="#333" stroke-width="0.9"/>
<text x="18.95" y="514.32" font-size="8.7" textLength="10.05" lengthAdjust="spacingAndGlyphs">30</text>
<line x1="29.1" y1="492.96" x2="31.3" y2="492.96" stroke="#333" stroke-width="0.9"/>
<text x="18.95" y="495.96" font-size="8.7" textLength="10.05" lengthAdjust="spacingAndGlyphs">40</text>
<line x1="29.1" y1="474.6" x2="31.3" y2="474.6" stroke="#333" stroke-width="0.9"/>
<text x="18.95" y="477.6" font-size="8.7" textLength="10.05" lengthAdjust="spacingAndGlyphs">50</text>
<line x1="31.74" y1="566.4" x2="31.74" y2="568" stroke="#333" stroke-width="0.6"/>
<line x1="35.86" y1="566.4" x2="35.86" y2="568" stroke="#333" stroke-width="0.6"/>
<line x1="39.98" y1="566.4" x2="39.98" y2="568" stroke="#333" stroke-width="0.6"/>
<line x1="44.1" y1="566.4" x2="44.1" y2="569.4" stroke="#333" stroke-width="0.9"/>
<text x="37.74" y="577.3" font-size="8.7" textLength="12.72" lengthAdjust="spacingAndGlyphs">0.1</text>
<line x1="48.22" y1="566.4" x2="48.22" y2="568" stroke="#333" stroke-width="0.6"/>
<line x1="52.34" y1="566.4" x2="52.34" y2="568" stroke="#333" stroke-width="0.6"/>
<line x1="56.46" y1="566.4" x2="56.46" y2="568" stroke="#333" stroke-width="0.6"/>
<line x1="60.58" y1="566.4" x2="60.58" y2="568" stroke="#333" stroke-width="0.6"/>
<line x1="64.7" y1="566.4" x2="64.7" y2="569.4" stroke="#333" stroke-width="0.9"/>
<text x="58.34" y="577.3" font-size="8.7" textLength="12.72" lengthAdjust="spacingAndGlyphs">0.2</text>
<line x1="68.82" y1="566.4" x2="68.82" y2="568" stroke="#333" stroke-width="0.6"/>
<line x1="72.94" y1="566.4" x2="72.94" y2="568" stroke="#333" stroke-width="0.6"/>
<line x1="77.06" y1="566.4" x2="77.06" y2="568" stroke="#333" stroke-width="0.6"/>
<line x1="81.18" y1="566.4" x2="81.18" y2="568" stroke="#333" stroke-width="0.6"/>
<line x1="85.3" y1="566.4" x2="85.3" y2="569.4" stroke="#333" stroke-width="0.9"/>
<text x="78.94" y="577.3" font-size="8.7" textLength="12.72" lengthAdjust="spacingAndGlyphs">0.3</text>
<line x1="89.42" y1="566.4" x2="89.42" y2="568" stroke="#333" stroke-width="0.6"/>
<line x1="93.54" y1="566.4" x2="93.54" y2="568" stroke="#333" stroke-width="0.6"/>
<line x1="97.66" y1="566.4" x2="97.66" y2="568" stroke="#333" stroke-width="0.6"/>
<line x1="101.78" y1="566.4" x2="101.78" y2="568" stroke="#333" stroke-width="0.6"/>
<line x1="105.9" y1="566.4" x2="105.9" y2="569.4" stroke="#333" stroke-width="0.9"/>
<text x="99.54" y="577.3" font-size="8.7" textLength="12.72" lengthAdjust="spacingAndGlyphs">0.4</text>
<line x1="110.02" y1="566.4" x2="110.02" y2="568" stroke="#333" stroke-width="0.6"/>
<line x1="114.14" y1="566.4" x2="114.14" y2="568" stroke="#333" stroke-width="0.6"/>
<line x1="118.26" y1="566.4" x2="118.26" y2="568" stroke="#333" stroke-width="0.6"/>
<line x1="122.38" y1="566.4" x2="122.38" y2="568" stroke="#333" stroke-width="0.6"/>
<line x1="126.5" y1="566.4" x2="126.5" y2="569.4" stroke="#333" stroke-width="0.9"/>
<text x="120.14" y="577.3" font-size="8.7" textLength="12.72" lengthAdjust="spacingAndGlyphs">0.5</text>
<line x1="130.62" y1="566.4" x2="130.62" y2="568" stroke="#333" stroke-width="0.6"/>
<text x="51.01" y="593.3" font-size="7.4" textLength="48.59" lengthAdjust="spacingAndGlyphs">Bits Per Voxel</text>
<line x1="31.3" y1="598.1" x2="130.8" y2="598.1" stroke="#333" stroke-width="0.9"/>
<line x1="36.38" y1="598.1" x2="36.38" y2="600.6" stroke="#333" stroke-width="0.8"/>
<text x="28.99" y="607.6" font-size="7.4" textLength="13.17" lengthAdjust="spacingAndGlyphs">256</text>
<line x1="49.25" y1="598.1" x2="49.25" y2="600.6" stroke="#333" stroke-width="0.8"/>
<text x="43.66" y="607.6" font-size="7.4" textLength="13.17" lengthAdjust="spacingAndGlyphs">128</text>
<line x1="75" y1="598.1" x2="75" y2="600.6" stroke="#333" stroke-width="0.8"/>
<text x="70.61" y="607.6" font-size="7.4" textLength="8.78" lengthAdjust="spacingAndGlyphs">64</text>
<line x1="126.5" y1="598.1" x2="126.5" y2="600.6" stroke="#333" stroke-width="0.8"/>
<text x="122.11" y="607.6" font-size="7.4" textLength="8.78" lengthAdjust="spacingAndGlyphs">32</text>
<text x="42.46" y="618.5" font-size="7.3" textLength="64.68" lengthAdjust="spacingAndGlyphs">Compression Ratio</text>
<g transform="rotate(-90 16.3 515)"><text x="-6.9" y="515" font-size="8.8" textLength="39.45" lengthAdjust="spacingAndGlyphs">MAE (HU)</text><path d="M36.02,508.84V514.68 M34.26,512.54L36.02,515.18L37.78,512.54" fill="none" stroke="#000" stroke-width="0.79" stroke-linecap="round" stroke-linejoin="round"/></g>
<rect x="35.6" y="546.1" width="13.7" height="10.8" fill="none" stroke="#aaa" stroke-width="0.7"/>
<rect x="72.3" y="474.9" width="54.2" height="36.7" fill="#fff"/>
<path d="M72.38,474.9V511.6M76.36,474.9V511.6M80.34,474.9V511.6M84.32,474.9V511.6M88.3,474.9V511.6M92.28,474.9V511.6M96.26,474.9V511.6M100.24,474.9V511.6M104.22,474.9V511.6M108.19,474.9V511.6M112.17,474.9V511.6M116.15,474.9V511.6M120.13,474.9V511.6M124.11,474.9V511.6M72.3,509.1H126.5M72.3,506.26H126.5M72.3,503.42H126.5M72.3,500.58H126.5M72.3,497.74H126.5M72.3,494.9H126.5M72.3,492.06H126.5M72.3,489.22H126.5M72.3,486.38H126.5M72.3,483.54H126.5M72.3,480.69H126.5M72.3,477.85H126.5M72.3,475.01H126.5" stroke="#e6e6e6" stroke-width="0.7" fill="none"/>
<polyline points="74.37,477.29 124.11,497.34" fill="none" stroke="#ecb84a" stroke-width="1.6" stroke-linejoin="round"/>
<polygon points="74.37,474.15 77.41,479.47 71.33,479.47" fill="#ecb84a"/>
<polygon points="124.11,494.21 127.15,499.53 121.07,499.53" fill="#ecb84a"/>
<polyline points="74.37,487.85 124.11,505.92" fill="none" stroke="#5f8436" stroke-width="1.6" stroke-linejoin="round"/>
<rect x="71.99" y="485.48" width="4.75" height="4.75" fill="#5f8436"/>
<rect x="121.74" y="503.54" width="4.75" height="4.75" fill="#5f8436"/>
<polyline points="74.37,499.04 124.11,509.5" fill="none" stroke="#9a4db2" stroke-width="1.6" stroke-linejoin="round"/>
<circle cx="74.37" cy="499.04" r="2.75" fill="#9a4db2"/>
<circle cx="124.11" cy="509.5" r="2.75" fill="#9a4db2"/>
<rect x="72.3" y="474.9" width="54.2" height="36.7" fill="none" stroke="#222" stroke-width="1.1"/>
<line x1="70.3" y1="503.42" x2="72.3" y2="503.42" stroke="#333" stroke-width="0.7"/>
<text x="65.99" y="505.32" font-size="5.2" textLength="3.31" lengthAdjust="spacingAndGlyphs">6</text>
<line x1="70.3" y1="492.06" x2="72.3" y2="492.06" stroke="#333" stroke-width="0.7"/>
<text x="65.99" y="493.96" font-size="5.2" textLength="3.31" lengthAdjust="spacingAndGlyphs">8</text>
<line x1="70.3" y1="480.69" x2="72.3" y2="480.69" stroke="#333" stroke-width="0.7"/>
<text x="62.68" y="482.59" font-size="5.2" textLength="6.62" lengthAdjust="spacingAndGlyphs">10</text>
<line x1="72.38" y1="511.6" x2="72.38" y2="512.9" stroke="#333" stroke-width="0.5"/>
<line x1="76.36" y1="511.6" x2="76.36" y2="512.9" stroke="#333" stroke-width="0.5"/>
<line x1="80.34" y1="511.6" x2="80.34" y2="512.9" stroke="#333" stroke-width="0.5"/>
<line x1="84.32" y1="511.6" x2="84.32" y2="512.9" stroke="#333" stroke-width="0.5"/>
<line x1="88.3" y1="511.6" x2="88.3" y2="512.9" stroke="#333" stroke-width="0.5"/>
<line x1="92.28" y1="511.6" x2="92.28" y2="512.9" stroke="#333" stroke-width="0.5"/>
<line x1="96.26" y1="511.6" x2="96.26" y2="512.9" stroke="#333" stroke-width="0.5"/>
<line x1="100.24" y1="511.6" x2="100.24" y2="512.9" stroke="#333" stroke-width="0.5"/>
<line x1="104.22" y1="511.6" x2="104.22" y2="512.9" stroke="#333" stroke-width="0.5"/>
<line x1="108.19" y1="511.6" x2="108.19" y2="512.9" stroke="#333" stroke-width="0.5"/>
<line x1="112.17" y1="511.6" x2="112.17" y2="512.9" stroke="#333" stroke-width="0.5"/>
<line x1="116.15" y1="511.6" x2="116.15" y2="512.9" stroke="#333" stroke-width="0.5"/>
<line x1="120.13" y1="511.6" x2="120.13" y2="512.9" stroke="#333" stroke-width="0.5"/>
<line x1="124.11" y1="511.6" x2="124.11" y2="512.9" stroke="#333" stroke-width="0.5"/>
<line x1="84.32" y1="511.6" x2="84.32" y2="513.6" stroke="#333" stroke-width="0.7"/>
<text x="76.87" y="519.4" font-size="5.2" textLength="14.89" lengthAdjust="spacingAndGlyphs">0.075</text>
<line x1="104.22" y1="511.6" x2="104.22" y2="513.6" stroke="#333" stroke-width="0.7"/>
<text x="96.77" y="519.4" font-size="5.2" textLength="14.89" lengthAdjust="spacingAndGlyphs">0.100</text>
<line x1="124.11" y1="511.6" x2="124.11" y2="513.6" stroke="#333" stroke-width="0.7"/>
<text x="116.67" y="519.4" font-size="5.2" textLength="14.89" lengthAdjust="spacingAndGlyphs">0.125</text>
<path d="M173.36,474.6V566.4M177.48,474.6V566.4M181.6,474.6V566.4M185.72,474.6V566.4M189.84,474.6V566.4M193.96,474.6V566.4M198.08,474.6V566.4M202.2,474.6V566.4M206.32,474.6V566.4M210.44,474.6V566.4M214.56,474.6V566.4M218.68,474.6V566.4M222.8,474.6V566.4M226.92,474.6V566.4M231.04,474.6V566.4M235.16,474.6V566.4M239.28,474.6V566.4M243.4,474.6V566.4M247.52,474.6V566.4M251.64,474.6V566.4M255.76,474.6V566.4M259.88,474.6V566.4M264,474.6V566.4M268.12,474.6V566.4M169.3,566.4H268.8M169.3,563.34H268.8M169.3,560.28H268.8M169.3,557.22H268.8M169.3,554.16H268.8M169.3,551.1H268.8M169.3,548.04H268.8M169.3,544.98H268.8M169.3,541.92H268.8M169.3,538.86H268.8M169.3,535.8H268.8M169.3,532.74H268.8M169.3,529.68H268.8M169.3,526.62H268.8M169.3,523.56H268.8M169.3,520.5H268.8M169.3,517.44H268.8M169.3,514.38H268.8M169.3,511.32H268.8M169.3,508.26H268.8M169.3,505.2H268.8M169.3,502.14H268.8M169.3,499.08H268.8M169.3,496.02H268.8M169.3,492.96H268.8M169.3,489.9H268.8M169.3,486.84H268.8M169.3,483.78H268.8M169.3,480.72H268.8M169.3,477.66H268.8M169.3,474.6H268.8" stroke="#e4e4e4" stroke-width="0.8" fill="none"/>
<clipPath id="cg2"><rect x="165.3" y="470.6" width="107.5" height="99.8"/></clipPath>
<clipPath id="cg2L"><rect x="169.3" y="474.6" width="103.5" height="91.8"/></clipPath>
<g clip-path="url(#cg2L)">
<polyline points="173.88,780.6 186.75,719.4 212.5,658.2" fill="none" stroke="#3287c9" stroke-width="1.5" stroke-linejoin="round" stroke-dasharray="4.4 2.6"/>
<polyline points="173.88,688.8 186.75,642.9 212.5,612.3 264,565.82" fill="none" stroke="#3287c9" stroke-width="1.5" stroke-linejoin="round"/>
<polyline points="173.88,565.39 186.75,515.18 212.5,493.05 264,479.31" fill="none" stroke="#ecb84a" stroke-width="1.5" stroke-linejoin="round" stroke-dasharray="4.4 2.6"/>
<polyline points="173.88,521.91 186.75,496.14 212.5,482.4 264,478.39" fill="none" stroke="#ecb84a" stroke-width="1.5" stroke-linejoin="round"/>
<polyline points="173.88,508.38 186.75,488.92 212.5,481.39 264,477.9" fill="none" stroke="#5f8436" stroke-width="1.5" stroke-linejoin="round"/>
<polyline points="173.88,688.8 186.75,627.6 212.5,581.91 264,531.52" fill="none" stroke="#5f8436" stroke-width="1.5" stroke-linejoin="round" stroke-dasharray="4.4 2.6"/>
<polyline points="173.88,688.8 186.75,645.65 212.5,557.59 264,496.75" fill="none" stroke="#de5d70" stroke-width="1.5" stroke-linejoin="round" stroke-dasharray="4.4 2.6"/>
<polyline points="173.88,561.9 186.75,512.48 212.5,489.14 264,478.3" fill="none" stroke="#de5d70" stroke-width="1.5" stroke-linejoin="round"/>
<polyline points="173.88,493.63 186.75,486.5 212.5,480.32 264,477.29" fill="none" stroke="#9a4db2" stroke-width="1.5" stroke-linejoin="round"/>
</g><g clip-path="url(#cg2)">
<path d="M261.37,565.82L266.63,565.82M262.14,563.96L265.86,567.68M264,563.18L264,568.45M265.86,563.96L262.14,567.68" stroke="#3287c9" stroke-width="1.36" stroke-linecap="round"/>
<polygon points="173.88,568.2 176.59,563.44 171.16,563.44" fill="#ecb84a"/>
<polygon points="186.75,517.98 189.47,513.22 184.03,513.22" fill="#ecb84a"/>
<polygon points="212.5,495.86 215.22,491.1 209.78,491.1" fill="#ecb84a"/>
<polygon points="264,482.12 266.72,477.36 261.28,477.36" fill="#ecb84a"/>
<polygon points="173.88,519.1 176.59,523.86 171.16,523.86" fill="#ecb84a"/>
<polygon points="186.75,493.34 189.47,498.1 184.03,498.1" fill="#ecb84a"/>
<polygon points="212.5,479.6 215.22,484.36 209.78,484.36" fill="#ecb84a"/>
<polygon points="264,475.59 266.72,480.35 261.28,480.35" fill="#ecb84a"/>
<rect x="171.75" y="506.26" width="4.25" height="4.25" fill="#5f8436"/>
<rect x="184.62" y="486.8" width="4.25" height="4.25" fill="#5f8436"/>
<rect x="210.38" y="479.27" width="4.25" height="4.25" fill="#5f8436"/>
<rect x="261.88" y="475.78" width="4.25" height="4.25" fill="#5f8436"/>
<polygon points="264,528.63 266.89,531.52 264,534.41 261.11,531.52" fill="#5f8436"/>
<polygon points="212.5,560.14 210.29,558.86 210.29,556.31 212.5,555.04 214.71,556.31 214.71,558.86" fill="#de5d70"/>
<polygon points="264,499.3 261.79,498.03 261.79,495.48 264,494.2 266.21,495.48 266.21,498.03" fill="#de5d70"/>
<circle cx="173.88" cy="561.9" r="2.46" fill="#de5d70"/>
<circle cx="186.75" cy="512.48" r="2.46" fill="#de5d70"/>
<circle cx="212.5" cy="489.14" r="2.46" fill="#de5d70"/>
<circle cx="264" cy="478.3" r="2.46" fill="#de5d70"/>
<circle cx="173.88" cy="493.63" r="2.46" fill="#9a4db2"/>
<circle cx="186.75" cy="486.5" r="2.46" fill="#9a4db2"/>
<circle cx="212.5" cy="480.32" r="2.46" fill="#9a4db2"/>
<circle cx="264" cy="477.29" r="2.46" fill="#9a4db2"/>
</g>
<line x1="169.3" y1="474.6" x2="169.3" y2="566.4" stroke="#333" stroke-width="1"/>
<line x1="169.3" y1="566.4" x2="268.8" y2="566.4" stroke="#333" stroke-width="1"/>
<line x1="167.7" y1="566.4" x2="169.3" y2="566.4" stroke="#333" stroke-width="0.6"/>
<line x1="167.7" y1="563.34" x2="169.3" y2="563.34" stroke="#333" stroke-width="0.6"/>
<line x1="167.7" y1="560.28" x2="169.3" y2="560.28" stroke="#333" stroke-width="0.6"/>
<line x1="167.7" y1="557.22" x2="169.3" y2="557.22" stroke="#333" stroke-width="0.6"/>
<line x1="167.7" y1="554.16" x2="169.3" y2="554.16" stroke="#333" stroke-width="0.6"/>
<line x1="167.7" y1="551.1" x2="169.3" y2="551.1" stroke="#333" stroke-width="0.6"/>
<line x1="167.7" y1="548.04" x2="169.3" y2="548.04" stroke="#333" stroke-width="0.6"/>
<line x1="167.7" y1="544.98" x2="169.3" y2="544.98" stroke="#333" stroke-width="0.6"/>
<line x1="167.7" y1="541.92" x2="169.3" y2="541.92" stroke="#333" stroke-width="0.6"/>
<line x1="167.7" y1="538.86" x2="169.3" y2="538.86" stroke="#333" stroke-width="0.6"/>
<line x1="167.7" y1="535.8" x2="169.3" y2="535.8" stroke="#333" stroke-width="0.6"/>
<line x1="167.7" y1="532.74" x2="169.3" y2="532.74" stroke="#333" stroke-width="0.6"/>
<line x1="167.7" y1="529.68" x2="169.3" y2="529.68" stroke="#333" stroke-width="0.6"/>
<line x1="167.7" y1="526.62" x2="169.3" y2="526.62" stroke="#333" stroke-width="0.6"/>
<line x1="167.7" y1="523.56" x2="169.3" y2="523.56" stroke="#333" stroke-width="0.6"/>
<line x1="167.7" y1="520.5" x2="169.3" y2="520.5" stroke="#333" stroke-width="0.6"/>
<line x1="167.7" y1="517.44" x2="169.3" y2="517.44" stroke="#333" stroke-width="0.6"/>
<line x1="167.7" y1="514.38" x2="169.3" y2="514.38" stroke="#333" stroke-width="0.6"/>
<line x1="167.7" y1="511.32" x2="169.3" y2="511.32" stroke="#333" stroke-width="0.6"/>
<line x1="167.7" y1="508.26" x2="169.3" y2="508.26" stroke="#333" stroke-width="0.6"/>
<line x1="167.7" y1="505.2" x2="169.3" y2="505.2" stroke="#333" stroke-width="0.6"/>
<line x1="167.7" y1="502.14" x2="169.3" y2="502.14" stroke="#333" stroke-width="0.6"/>
<line x1="167.7" y1="499.08" x2="169.3" y2="499.08" stroke="#333" stroke-width="0.6"/>
<line x1="167.7" y1="496.02" x2="169.3" y2="496.02" stroke="#333" stroke-width="0.6"/>
<line x1="167.7" y1="492.96" x2="169.3" y2="492.96" stroke="#333" stroke-width="0.6"/>
<line x1="167.7" y1="489.9" x2="169.3" y2="489.9" stroke="#333" stroke-width="0.6"/>
<line x1="167.7" y1="486.84" x2="169.3" y2="486.84" stroke="#333" stroke-width="0.6"/>
<line x1="167.7" y1="483.78" x2="169.3" y2="483.78" stroke="#333" stroke-width="0.6"/>
<line x1="167.7" y1="480.72" x2="169.3" y2="480.72" stroke="#333" stroke-width="0.6"/>
<line x1="167.7" y1="477.66" x2="169.3" y2="477.66" stroke="#333" stroke-width="0.6"/>
<line x1="167.7" y1="474.6" x2="169.3" y2="474.6" stroke="#333" stroke-width="0.6"/>
<line x1="167.1" y1="566.4" x2="169.3" y2="566.4" stroke="#333" stroke-width="0.9"/>
<text x="144.38" y="569.4" font-size="8.7" textLength="22.62" lengthAdjust="spacingAndGlyphs">0.970</text>
<line x1="167.1" y1="551.1" x2="169.3" y2="551.1" stroke="#333" stroke-width="0.9"/>
<text x="144.38" y="554.1" font-size="8.7" textLength="22.62" lengthAdjust="spacingAndGlyphs">0.975</text>
<line x1="167.1" y1="535.8" x2="169.3" y2="535.8" stroke="#333" stroke-width="0.9"/>
<text x="144.38" y="538.8" font-size="8.7" textLength="22.62" lengthAdjust="spacingAndGlyphs">0.980</text>
<line x1="167.1" y1="520.5" x2="169.3" y2="520.5" stroke="#333" stroke-width="0.9"/>
<text x="144.38" y="523.5" font-size="8.7" textLength="22.62" lengthAdjust="spacingAndGlyphs">0.985</text>
<line x1="167.1" y1="505.2" x2="169.3" y2="505.2" stroke="#333" stroke-width="0.9"/>
<text x="144.38" y="508.2" font-size="8.7" textLength="22.62" lengthAdjust="spacingAndGlyphs">0.990</text>
<line x1="167.1" y1="489.9" x2="169.3" y2="489.9" stroke="#333" stroke-width="0.9"/>
<text x="144.38" y="492.9" font-size="8.7" textLength="22.62" lengthAdjust="spacingAndGlyphs">0.995</text>
<line x1="167.1" y1="474.6" x2="169.3" y2="474.6" stroke="#333" stroke-width="0.9"/>
<text x="144.38" y="477.6" font-size="8.7" textLength="22.62" lengthAdjust="spacingAndGlyphs">1.000</text>
<line x1="169.24" y1="566.4" x2="169.24" y2="568" stroke="#333" stroke-width="0.6"/>
<line x1="173.36" y1="566.4" x2="173.36" y2="568" stroke="#333" stroke-width="0.6"/>
<line x1="177.48" y1="566.4" x2="177.48" y2="568" stroke="#333" stroke-width="0.6"/>
<line x1="181.6" y1="566.4" x2="181.6" y2="569.4" stroke="#333" stroke-width="0.9"/>
<text x="175.24" y="577.3" font-size="8.7" textLength="12.72" lengthAdjust="spacingAndGlyphs">0.1</text>
<line x1="185.72" y1="566.4" x2="185.72" y2="568" stroke="#333" stroke-width="0.6"/>
<line x1="189.84" y1="566.4" x2="189.84" y2="568" stroke="#333" stroke-width="0.6"/>
<line x1="193.96" y1="566.4" x2="193.96" y2="568" stroke="#333" stroke-width="0.6"/>
<line x1="198.08" y1="566.4" x2="198.08" y2="568" stroke="#333" stroke-width="0.6"/>
<line x1="202.2" y1="566.4" x2="202.2" y2="569.4" stroke="#333" stroke-width="0.9"/>
<text x="195.84" y="577.3" font-size="8.7" textLength="12.72" lengthAdjust="spacingAndGlyphs">0.2</text>
<line x1="206.32" y1="566.4" x2="206.32" y2="568" stroke="#333" stroke-width="0.6"/>
<line x1="210.44" y1="566.4" x2="210.44" y2="568" stroke="#333" stroke-width="0.6"/>
<line x1="214.56" y1="566.4" x2="214.56" y2="568" stroke="#333" stroke-width="0.6"/>
<line x1="218.68" y1="566.4" x2="218.68" y2="568" stroke="#333" stroke-width="0.6"/>
<line x1="222.8" y1="566.4" x2="222.8" y2="569.4" stroke="#333" stroke-width="0.9"/>
<text x="216.44" y="577.3" font-size="8.7" textLength="12.72" lengthAdjust="spacingAndGlyphs">0.3</text>
<line x1="226.92" y1="566.4" x2="226.92" y2="568" stroke="#333" stroke-width="0.6"/>
<line x1="231.04" y1="566.4" x2="231.04" y2="568" stroke="#333" stroke-width="0.6"/>
<line x1="235.16" y1="566.4" x2="235.16" y2="568" stroke="#333" stroke-width="0.6"/>
<line x1="239.28" y1="566.4" x2="239.28" y2="568" stroke="#333" stroke-width="0.6"/>
<line x1="243.4" y1="566.4" x2="243.4" y2="569.4" stroke="#333" stroke-width="0.9"/>
<text x="237.04" y="577.3" font-size="8.7" textLength="12.72" lengthAdjust="spacingAndGlyphs">0.4</text>
<line x1="247.52" y1="566.4" x2="247.52" y2="568" stroke="#333" stroke-width="0.6"/>
<line x1="251.64" y1="566.4" x2="251.64" y2="568" stroke="#333" stroke-width="0.6"/>
<line x1="255.76" y1="566.4" x2="255.76" y2="568" stroke="#333" stroke-width="0.6"/>
<line x1="259.88" y1="566.4" x2="259.88" y2="568" stroke="#333" stroke-width="0.6"/>
<line x1="264" y1="566.4" x2="264" y2="569.4" stroke="#333" stroke-width="0.9"/>
<text x="257.64" y="577.3" font-size="8.7" textLength="12.72" lengthAdjust="spacingAndGlyphs">0.5</text>
<line x1="268.12" y1="566.4" x2="268.12" y2="568" stroke="#333" stroke-width="0.6"/>
<text x="189.01" y="593.3" font-size="7.4" textLength="48.59" lengthAdjust="spacingAndGlyphs">Bits Per Voxel</text>
<line x1="169.3" y1="598.1" x2="268.8" y2="598.1" stroke="#333" stroke-width="0.9"/>
<line x1="173.88" y1="598.1" x2="173.88" y2="600.6" stroke="#333" stroke-width="0.8"/>
<text x="166.49" y="607.6" font-size="7.4" textLength="13.17" lengthAdjust="spacingAndGlyphs">256</text>
<line x1="186.75" y1="598.1" x2="186.75" y2="600.6" stroke="#333" stroke-width="0.8"/>
<text x="181.16" y="607.6" font-size="7.4" textLength="13.17" lengthAdjust="spacingAndGlyphs">128</text>
<line x1="212.5" y1="598.1" x2="212.5" y2="600.6" stroke="#333" stroke-width="0.8"/>
<text x="208.11" y="607.6" font-size="7.4" textLength="8.78" lengthAdjust="spacingAndGlyphs">64</text>
<line x1="264" y1="598.1" x2="264" y2="600.6" stroke="#333" stroke-width="0.8"/>
<text x="259.61" y="607.6" font-size="7.4" textLength="8.78" lengthAdjust="spacingAndGlyphs">32</text>
<text x="180.46" y="618.5" font-size="7.3" textLength="64.68" lengthAdjust="spacingAndGlyphs">Compression Ratio</text>
<g transform="rotate(-90 143 523.8)"><text x="129.5" y="523.8" font-size="8.8" textLength="20.05" lengthAdjust="spacingAndGlyphs">SSIM</text><path d="M153.02,523.98V518.14 M151.26,520.28L153.02,517.64L154.78,520.28" fill="none" stroke="#000" stroke-width="0.79" stroke-linecap="round" stroke-linejoin="round"/></g>
<text x="274.8" y="470.2" font-size="15.2" font-weight="bold" textLength="9.28" lengthAdjust="spacingAndGlyphs">h</text>
<path d="M303.94,474.6V566.4M308.06,474.6V566.4M312.18,474.6V566.4M316.3,474.6V566.4M320.42,474.6V566.4M324.54,474.6V566.4M328.66,474.6V566.4M332.78,474.6V566.4M336.9,474.6V566.4M341.02,474.6V566.4M345.14,474.6V566.4M349.26,474.6V566.4M353.38,474.6V566.4M357.5,474.6V566.4M361.62,474.6V566.4M365.74,474.6V566.4M369.86,474.6V566.4M373.98,474.6V566.4M378.1,474.6V566.4M382.22,474.6V566.4M386.34,474.6V566.4M390.46,474.6V566.4M394.58,474.6V566.4M398.7,474.6V566.4M402.82,474.6V566.4M303.6,566.4H403.1M303.6,563.78H403.1M303.6,561.15H403.1M303.6,558.53H403.1M303.6,555.91H403.1M303.6,553.29H403.1M303.6,550.66H403.1M303.6,548.04H403.1M303.6,545.42H403.1M303.6,542.79H403.1M303.6,540.17H403.1M303.6,537.55H403.1M303.6,534.93H403.1M303.6,532.3H403.1M303.6,529.68H403.1M303.6,527.06H403.1M303.6,524.43H403.1M303.6,521.81H403.1M303.6,519.19H403.1M303.6,516.57H403.1M303.6,513.94H403.1M303.6,511.32H403.1M303.6,508.7H403.1M303.6,506.07H403.1M303.6,503.45H403.1M303.6,500.83H403.1M303.6,498.21H403.1M303.6,495.58H403.1M303.6,492.96H403.1M303.6,490.34H403.1M303.6,487.71H403.1M303.6,485.09H403.1M303.6,482.47H403.1M303.6,479.85H403.1M303.6,477.22H403.1M303.6,474.6H403.1" stroke="#e4e4e4" stroke-width="0.8" fill="none"/>
<clipPath id="ch1"><rect x="299.6" y="470.6" width="107.5" height="99.8"/></clipPath>
<clipPath id="ch1L"><rect x="303.6" y="474.6" width="103.5" height="91.8"/></clipPath>
<line x1="322" y1="484.2" x2="398" y2="516.6" stroke="#a8a8a8" stroke-width="0.9"/>
<line x1="307.9" y1="493.2" x2="348.2" y2="558" stroke="#a8a8a8" stroke-width="0.9"/>
<g clip-path="url(#ch1L)">
<polyline points="308.57,598.66 321.45,517.88 347.2,506.07" fill="none" stroke="#3287c9" stroke-width="1.5" stroke-linejoin="round" stroke-dasharray="4.4 2.6"/>
<polyline points="308.57,540.17 321.45,523.65 347.2,508.7 398.7,500.3" fill="none" stroke="#3287c9" stroke-width="1.5" stroke-linejoin="round"/>
<polyline points="308.57,491.39 321.45,487.71 347.2,485.09 398.7,483.78" fill="none" stroke="#ecb84a" stroke-width="1.5" stroke-linejoin="round" stroke-dasharray="4.4 2.6"/>
<polyline points="308.57,492.65 321.45,486.51 347.2,484.3 398.7,482.73" fill="none" stroke="#ecb84a" stroke-width="1.5" stroke-linejoin="round"/>
<polyline points="308.57,489.24 321.45,486.51 347.2,484.3 398.7,482.47" fill="none" stroke="#5f8436" stroke-width="1.5" stroke-linejoin="round"/>
<polyline points="308.57,545.42 321.45,522.86 347.2,503.45 398.7,493.22" fill="none" stroke="#5f8436" stroke-width="1.5" stroke-linejoin="round" stroke-dasharray="4.4 2.6"/>
<polyline points="308.57,533.09 321.45,513.68 347.2,497.16 398.7,487.19" fill="none" stroke="#de5d70" stroke-width="1.5" stroke-linejoin="round" stroke-dasharray="4.4 2.6"/>
<polyline points="308.57,498.73 321.45,492.44 347.2,487.19 398.7,483.26" fill="none" stroke="#de5d70" stroke-width="1.5" stroke-linejoin="round"/>
<polyline points="308.57,486.06 321.45,484.28 347.2,482.73 398.7,481.42" fill="none" stroke="#9a4db2" stroke-width="1.5" stroke-linejoin="round"/>
</g><g clip-path="url(#ch1)">
<path d="M320.51,515.33h1.87v1.61h1.61v1.87h-1.61v1.61h-1.87v-1.61h-1.61v-1.87h1.61z" fill="#3287c9"/>
<path d="M346.26,503.52h1.87v1.61h1.61v1.87h-1.61v1.61h-1.87v-1.61h-1.61v-1.87h1.61z" fill="#3287c9"/>
<path d="M305.94,540.17L311.21,540.17M306.71,538.31L310.44,542.03M308.57,537.54L308.57,542.81M310.44,538.31L306.71,542.03" stroke="#3287c9" stroke-width="1.36" stroke-linecap="round"/>
<path d="M318.81,523.65L324.08,523.65M319.59,521.78L323.31,525.51M321.45,521.01L321.45,526.28M323.31,521.78L319.59,525.51" stroke="#3287c9" stroke-width="1.36" stroke-linecap="round"/>
<path d="M344.56,508.7L349.83,508.7M345.34,506.83L349.06,510.56M347.2,506.06L347.2,511.33M349.06,506.83L345.34,510.56" stroke="#3287c9" stroke-width="1.36" stroke-linecap="round"/>
<path d="M396.07,500.3L401.34,500.3M396.84,498.44L400.56,502.17M398.7,497.67L398.7,502.94M400.56,498.44L396.84,502.17" stroke="#3287c9" stroke-width="1.36" stroke-linecap="round"/>
<polygon points="308.57,494.19 311.3,489.43 305.85,489.43" fill="#ecb84a"/>
<polygon points="321.45,490.52 324.17,485.76 318.73,485.76" fill="#ecb84a"/>
<polygon points="347.2,487.9 349.92,483.14 344.48,483.14" fill="#ecb84a"/>
<polygon points="398.7,486.59 401.42,481.83 395.98,481.83" fill="#ecb84a"/>
<polygon points="308.57,489.84 311.3,494.6 305.85,494.6" fill="#ecb84a"/>
<polygon points="321.45,483.7 324.17,488.46 318.73,488.46" fill="#ecb84a"/>
<polygon points="347.2,481.5 349.92,486.26 344.48,486.26" fill="#ecb84a"/>
<polygon points="398.7,479.93 401.42,484.69 395.98,484.69" fill="#ecb84a"/>
<rect x="306.45" y="487.11" width="4.25" height="4.25" fill="#5f8436"/>
<rect x="319.32" y="484.38" width="4.25" height="4.25" fill="#5f8436"/>
<rect x="345.07" y="482.18" width="4.25" height="4.25" fill="#5f8436"/>
<rect x="396.58" y="480.34" width="4.25" height="4.25" fill="#5f8436"/>
<polygon points="308.57,542.53 311.46,545.42 308.57,548.31 305.69,545.42" fill="#5f8436"/>
<polygon points="321.45,519.97 324.34,522.86 321.45,525.75 318.56,522.86" fill="#5f8436"/>
<polygon points="347.2,500.56 350.09,503.45 347.2,506.34 344.31,503.45" fill="#5f8436"/>
<polygon points="398.7,490.33 401.59,493.22 398.7,496.11 395.81,493.22" fill="#5f8436"/>
<polygon points="308.57,535.64 306.37,534.36 306.37,531.81 308.57,530.54 310.78,531.81 310.78,534.36" fill="#de5d70"/>
<polygon points="321.45,516.23 319.24,514.96 319.24,512.41 321.45,511.13 323.66,512.41 323.66,514.96" fill="#de5d70"/>
<polygon points="347.2,499.71 344.99,498.43 344.99,495.88 347.2,494.61 349.41,495.88 349.41,498.43" fill="#de5d70"/>
<polygon points="398.7,489.74 396.49,488.46 396.49,485.91 398.7,484.64 400.91,485.91 400.91,488.46" fill="#de5d70"/>
<circle cx="308.57" cy="498.73" r="2.46" fill="#de5d70"/>
<circle cx="321.45" cy="492.44" r="2.46" fill="#de5d70"/>
<circle cx="347.2" cy="487.19" r="2.46" fill="#de5d70"/>
<circle cx="398.7" cy="483.26" r="2.46" fill="#de5d70"/>
<circle cx="308.57" cy="486.06" r="2.46" fill="#9a4db2"/>
<circle cx="321.45" cy="484.28" r="2.46" fill="#9a4db2"/>
<circle cx="347.2" cy="482.73" r="2.46" fill="#9a4db2"/>
<circle cx="398.7" cy="481.42" r="2.46" fill="#9a4db2"/>
</g>
<line x1="303.6" y1="474.6" x2="303.6" y2="566.4" stroke="#333" stroke-width="1"/>
<line x1="303.6" y1="566.4" x2="403.1" y2="566.4" stroke="#333" stroke-width="1"/>
<line x1="302" y1="566.4" x2="303.6" y2="566.4" stroke="#333" stroke-width="0.6"/>
<line x1="302" y1="563.78" x2="303.6" y2="563.78" stroke="#333" stroke-width="0.6"/>
<line x1="302" y1="561.15" x2="303.6" y2="561.15" stroke="#333" stroke-width="0.6"/>
<line x1="302" y1="558.53" x2="303.6" y2="558.53" stroke="#333" stroke-width="0.6"/>
<line x1="302" y1="555.91" x2="303.6" y2="555.91" stroke="#333" stroke-width="0.6"/>
<line x1="302" y1="553.29" x2="303.6" y2="553.29" stroke="#333" stroke-width="0.6"/>
<line x1="302" y1="550.66" x2="303.6" y2="550.66" stroke="#333" stroke-width="0.6"/>
<line x1="302" y1="548.04" x2="303.6" y2="548.04" stroke="#333" stroke-width="0.6"/>
<line x1="302" y1="545.42" x2="303.6" y2="545.42" stroke="#333" stroke-width="0.6"/>
<line x1="302" y1="542.79" x2="303.6" y2="542.79" stroke="#333" stroke-width="0.6"/>
<line x1="302" y1="540.17" x2="303.6" y2="540.17" stroke="#333" stroke-width="0.6"/>
<line x1="302" y1="537.55" x2="303.6" y2="537.55" stroke="#333" stroke-width="0.6"/>
<line x1="302" y1="534.93" x2="303.6" y2="534.93" stroke="#333" stroke-width="0.6"/>
<line x1="302" y1="532.3" x2="303.6" y2="532.3" stroke="#333" stroke-width="0.6"/>
<line x1="302" y1="529.68" x2="303.6" y2="529.68" stroke="#333" stroke-width="0.6"/>
<line x1="302" y1="527.06" x2="303.6" y2="527.06" stroke="#333" stroke-width="0.6"/>
<line x1="302" y1="524.43" x2="303.6" y2="524.43" stroke="#333" stroke-width="0.6"/>
<line x1="302" y1="521.81" x2="303.6" y2="521.81" stroke="#333" stroke-width="0.6"/>
<line x1="302" y1="519.19" x2="303.6" y2="519.19" stroke="#333" stroke-width="0.6"/>
<line x1="302" y1="516.57" x2="303.6" y2="516.57" stroke="#333" stroke-width="0.6"/>
<line x1="302" y1="513.94" x2="303.6" y2="513.94" stroke="#333" stroke-width="0.6"/>
<line x1="302" y1="511.32" x2="303.6" y2="511.32" stroke="#333" stroke-width="0.6"/>
<line x1="302" y1="508.7" x2="303.6" y2="508.7" stroke="#333" stroke-width="0.6"/>
<line x1="302" y1="506.07" x2="303.6" y2="506.07" stroke="#333" stroke-width="0.6"/>
<line x1="302" y1="503.45" x2="303.6" y2="503.45" stroke="#333" stroke-width="0.6"/>
<line x1="302" y1="500.83" x2="303.6" y2="500.83" stroke="#333" stroke-width="0.6"/>
<line x1="302" y1="498.21" x2="303.6" y2="498.21" stroke="#333" stroke-width="0.6"/>
<line x1="302" y1="495.58" x2="303.6" y2="495.58" stroke="#333" stroke-width="0.6"/>
<line x1="302" y1="492.96" x2="303.6" y2="492.96" stroke="#333" stroke-width="0.6"/>
<line x1="302" y1="490.34" x2="303.6" y2="490.34" stroke="#333" stroke-width="0.6"/>
<line x1="302" y1="487.71" x2="303.6" y2="487.71" stroke="#333" stroke-width="0.6"/>
<line x1="302" y1="485.09" x2="303.6" y2="485.09" stroke="#333" stroke-width="0.6"/>
<line x1="302" y1="482.47" x2="303.6" y2="482.47" stroke="#333" stroke-width="0.6"/>
<line x1="302" y1="479.85" x2="303.6" y2="479.85" stroke="#333" stroke-width="0.6"/>
<line x1="302" y1="477.22" x2="303.6" y2="477.22" stroke="#333" stroke-width="0.6"/>
<line x1="302" y1="474.6" x2="303.6" y2="474.6" stroke="#333" stroke-width="0.6"/>
<line x1="301.4" y1="566.4" x2="303.6" y2="566.4" stroke="#333" stroke-width="0.9"/>
<text x="291.25" y="569.4" font-size="8.7" textLength="10.05" lengthAdjust="spacingAndGlyphs">60</text>
<line x1="301.4" y1="553.29" x2="303.6" y2="553.29" stroke="#333" stroke-width="0.9"/>
<text x="291.25" y="556.29" font-size="8.7" textLength="10.05" lengthAdjust="spacingAndGlyphs">65</text>
<line x1="301.4" y1="540.17" x2="303.6" y2="540.17" stroke="#333" stroke-width="0.9"/>
<text x="291.25" y="543.17" font-size="8.7" textLength="10.05" lengthAdjust="spacingAndGlyphs">70</text>
<line x1="301.4" y1="527.06" x2="303.6" y2="527.06" stroke="#333" stroke-width="0.9"/>
<text x="291.25" y="530.06" font-size="8.7" textLength="10.05" lengthAdjust="spacingAndGlyphs">75</text>
<line x1="301.4" y1="513.94" x2="303.6" y2="513.94" stroke="#333" stroke-width="0.9"/>
<text x="291.25" y="516.94" font-size="8.7" textLength="10.05" lengthAdjust="spacingAndGlyphs">80</text>
<line x1="301.4" y1="500.83" x2="303.6" y2="500.83" stroke="#333" stroke-width="0.9"/>
<text x="291.25" y="503.83" font-size="8.7" textLength="10.05" lengthAdjust="spacingAndGlyphs">85</text>
<line x1="301.4" y1="487.71" x2="303.6" y2="487.71" stroke="#333" stroke-width="0.9"/>
<text x="291.25" y="490.71" font-size="8.7" textLength="10.05" lengthAdjust="spacingAndGlyphs">90</text>
<line x1="301.4" y1="474.6" x2="303.6" y2="474.6" stroke="#333" stroke-width="0.9"/>
<text x="291.25" y="477.6" font-size="8.7" textLength="10.05" lengthAdjust="spacingAndGlyphs">95</text>
<line x1="303.94" y1="566.4" x2="303.94" y2="568" stroke="#333" stroke-width="0.6"/>
<line x1="308.06" y1="566.4" x2="308.06" y2="568" stroke="#333" stroke-width="0.6"/>
<line x1="312.18" y1="566.4" x2="312.18" y2="568" stroke="#333" stroke-width="0.6"/>
<line x1="316.3" y1="566.4" x2="316.3" y2="569.4" stroke="#333" stroke-width="0.9"/>
<text x="309.94" y="577.3" font-size="8.7" textLength="12.72" lengthAdjust="spacingAndGlyphs">0.1</text>
<line x1="320.42" y1="566.4" x2="320.42" y2="568" stroke="#333" stroke-width="0.6"/>
<line x1="324.54" y1="566.4" x2="324.54" y2="568" stroke="#333" stroke-width="0.6"/>
<line x1="328.66" y1="566.4" x2="328.66" y2="568" stroke="#333" stroke-width="0.6"/>
<line x1="332.78" y1="566.4" x2="332.78" y2="568" stroke="#333" stroke-width="0.6"/>
<line x1="336.9" y1="566.4" x2="336.9" y2="569.4" stroke="#333" stroke-width="0.9"/>
<text x="330.54" y="577.3" font-size="8.7" textLength="12.72" lengthAdjust="spacingAndGlyphs">0.2</text>
<line x1="341.02" y1="566.4" x2="341.02" y2="568" stroke="#333" stroke-width="0.6"/>
<line x1="345.14" y1="566.4" x2="345.14" y2="568" stroke="#333" stroke-width="0.6"/>
<line x1="349.26" y1="566.4" x2="349.26" y2="568" stroke="#333" stroke-width="0.6"/>
<line x1="353.38" y1="566.4" x2="353.38" y2="568" stroke="#333" stroke-width="0.6"/>
<line x1="357.5" y1="566.4" x2="357.5" y2="569.4" stroke="#333" stroke-width="0.9"/>
<text x="351.14" y="577.3" font-size="8.7" textLength="12.72" lengthAdjust="spacingAndGlyphs">0.3</text>
<line x1="361.62" y1="566.4" x2="361.62" y2="568" stroke="#333" stroke-width="0.6"/>
<line x1="365.74" y1="566.4" x2="365.74" y2="568" stroke="#333" stroke-width="0.6"/>
<line x1="369.86" y1="566.4" x2="369.86" y2="568" stroke="#333" stroke-width="0.6"/>
<line x1="373.98" y1="566.4" x2="373.98" y2="568" stroke="#333" stroke-width="0.6"/>
<line x1="378.1" y1="566.4" x2="378.1" y2="569.4" stroke="#333" stroke-width="0.9"/>
<text x="371.74" y="577.3" font-size="8.7" textLength="12.72" lengthAdjust="spacingAndGlyphs">0.4</text>
<line x1="382.22" y1="566.4" x2="382.22" y2="568" stroke="#333" stroke-width="0.6"/>
<line x1="386.34" y1="566.4" x2="386.34" y2="568" stroke="#333" stroke-width="0.6"/>
<line x1="390.46" y1="566.4" x2="390.46" y2="568" stroke="#333" stroke-width="0.6"/>
<line x1="394.58" y1="566.4" x2="394.58" y2="568" stroke="#333" stroke-width="0.6"/>
<line x1="398.7" y1="566.4" x2="398.7" y2="569.4" stroke="#333" stroke-width="0.9"/>
<text x="392.34" y="577.3" font-size="8.7" textLength="12.72" lengthAdjust="spacingAndGlyphs">0.5</text>
<line x1="402.82" y1="566.4" x2="402.82" y2="568" stroke="#333" stroke-width="0.6"/>
<text x="323.31" y="593.3" font-size="7.4" textLength="48.59" lengthAdjust="spacingAndGlyphs">Bits Per Voxel</text>
<line x1="303.6" y1="598.1" x2="403.1" y2="598.1" stroke="#333" stroke-width="0.9"/>
<line x1="308.57" y1="598.1" x2="308.57" y2="600.6" stroke="#333" stroke-width="0.8"/>
<text x="301.19" y="607.6" font-size="7.4" textLength="13.17" lengthAdjust="spacingAndGlyphs">256</text>
<line x1="321.45" y1="598.1" x2="321.45" y2="600.6" stroke="#333" stroke-width="0.8"/>
<text x="315.86" y="607.6" font-size="7.4" textLength="13.17" lengthAdjust="spacingAndGlyphs">128</text>
<line x1="347.2" y1="598.1" x2="347.2" y2="600.6" stroke="#333" stroke-width="0.8"/>
<text x="342.81" y="607.6" font-size="7.4" textLength="8.78" lengthAdjust="spacingAndGlyphs">64</text>
<line x1="398.7" y1="598.1" x2="398.7" y2="600.6" stroke="#333" stroke-width="0.8"/>
<text x="394.31" y="607.6" font-size="7.4" textLength="8.78" lengthAdjust="spacingAndGlyphs">32</text>
<text x="314.76" y="618.5" font-size="7.3" textLength="64.68" lengthAdjust="spacingAndGlyphs">Compression Ratio</text>
<g transform="rotate(-90 288 522.6)"><text x="276.7" y="522.6" font-size="8.8" textLength="15.65" lengthAdjust="spacingAndGlyphs">DSC</text><path d="M295.82,522.78V516.94 M294.06,519.08L295.82,516.44L297.58,519.08" fill="none" stroke="#000" stroke-width="0.79" stroke-linecap="round" stroke-linejoin="round"/></g>
<rect x="307.9" y="484.2" width="14.1" height="9" fill="none" stroke="#aaa" stroke-width="0.7"/>
<rect x="348.2" y="516.6" width="49.8" height="41.4" fill="#fff"/>
<path d="M348.78,516.6V558M352.41,516.6V558M356.04,516.6V558M359.67,516.6V558M363.3,516.6V558M366.93,516.6V558M370.56,516.6V558M374.19,516.6V558M377.82,516.6V558M381.45,516.6V558M385.08,516.6V558M388.71,516.6V558M392.34,516.6V558M395.97,516.6V558M348.2,557.18H398M348.2,554.27H398M348.2,551.35H398M348.2,548.44H398M348.2,545.52H398M348.2,542.61H398M348.2,539.69H398M348.2,536.78H398M348.2,533.86H398M348.2,530.94H398M348.2,528.03H398M348.2,525.11H398M348.2,522.2H398M348.2,519.28H398" stroke="#e6e6e6" stroke-width="0.7" fill="none"/>
<polyline points="350.6,555.78 395.97,528.5" fill="none" stroke="#ecb84a" stroke-width="1.6" stroke-linejoin="round"/>
<polygon points="350.6,552.65 353.64,557.97 347.56,557.97" fill="#ecb84a"/>
<polygon points="395.97,525.36 399.01,530.68 392.93,530.68" fill="#ecb84a"/>
<polyline points="350.6,540.62 395.97,528.5" fill="none" stroke="#5f8436" stroke-width="1.6" stroke-linejoin="round"/>
<rect x="348.22" y="538.25" width="4.75" height="4.75" fill="#5f8436"/>
<rect x="393.59" y="526.12" width="4.75" height="4.75" fill="#5f8436"/>
<polyline points="350.6,526.51 395.97,518.58" fill="none" stroke="#9a4db2" stroke-width="1.6" stroke-linejoin="round"/>
<circle cx="350.6" cy="526.51" r="2.75" fill="#9a4db2"/>
<circle cx="395.97" cy="518.58" r="2.75" fill="#9a4db2"/>
<rect x="348.2" y="516.6" width="49.8" height="41.4" fill="none" stroke="#222" stroke-width="1.1"/>
<line x1="346.2" y1="545.52" x2="348.2" y2="545.52" stroke="#333" stroke-width="0.7"/>
<text x="338.58" y="547.42" font-size="5.2" textLength="6.62" lengthAdjust="spacingAndGlyphs">89</text>
<line x1="346.2" y1="533.86" x2="348.2" y2="533.86" stroke="#333" stroke-width="0.7"/>
<text x="338.58" y="535.76" font-size="5.2" textLength="6.62" lengthAdjust="spacingAndGlyphs">90</text>
<line x1="346.2" y1="522.2" x2="348.2" y2="522.2" stroke="#333" stroke-width="0.7"/>
<text x="338.58" y="524.1" font-size="5.2" textLength="6.62" lengthAdjust="spacingAndGlyphs">91</text>
<line x1="348.78" y1="558" x2="348.78" y2="559.3" stroke="#333" stroke-width="0.5"/>
<line x1="352.41" y1="558" x2="352.41" y2="559.3" stroke="#333" stroke-width="0.5"/>
<line x1="356.04" y1="558" x2="356.04" y2="559.3" stroke="#333" stroke-width="0.5"/>
<line x1="359.67" y1="558" x2="359.67" y2="559.3" stroke="#333" stroke-width="0.5"/>
<line x1="363.3" y1="558" x2="363.3" y2="559.3" stroke="#333" stroke-width="0.5"/>
<line x1="366.93" y1="558" x2="366.93" y2="559.3" stroke="#333" stroke-width="0.5"/>
<line x1="370.56" y1="558" x2="370.56" y2="559.3" stroke="#333" stroke-width="0.5"/>
<line x1="374.19" y1="558" x2="374.19" y2="559.3" stroke="#333" stroke-width="0.5"/>
<line x1="377.82" y1="558" x2="377.82" y2="559.3" stroke="#333" stroke-width="0.5"/>
<line x1="381.45" y1="558" x2="381.45" y2="559.3" stroke="#333" stroke-width="0.5"/>
<line x1="385.08" y1="558" x2="385.08" y2="559.3" stroke="#333" stroke-width="0.5"/>
<line x1="388.71" y1="558" x2="388.71" y2="559.3" stroke="#333" stroke-width="0.5"/>
<line x1="392.34" y1="558" x2="392.34" y2="559.3" stroke="#333" stroke-width="0.5"/>
<line x1="395.97" y1="558" x2="395.97" y2="559.3" stroke="#333" stroke-width="0.5"/>
<line x1="359.67" y1="558" x2="359.67" y2="560" stroke="#333" stroke-width="0.7"/>
<text x="352.23" y="565.8" font-size="5.2" textLength="14.89" lengthAdjust="spacingAndGlyphs">0.075</text>
<line x1="377.82" y1="558" x2="377.82" y2="560" stroke="#333" stroke-width="0.7"/>
<text x="370.38" y="565.8" font-size="5.2" textLength="14.89" lengthAdjust="spacingAndGlyphs">0.100</text>
<line x1="395.97" y1="558" x2="395.97" y2="560" stroke="#333" stroke-width="0.7"/>
<text x="388.52" y="565.8" font-size="5.2" textLength="14.89" lengthAdjust="spacingAndGlyphs">0.125</text>
<path d="M431.04,474.6V566.4M435.16,474.6V566.4M439.28,474.6V566.4M443.4,474.6V566.4M447.52,474.6V566.4M451.64,474.6V566.4M455.76,474.6V566.4M459.88,474.6V566.4M464,474.6V566.4M468.12,474.6V566.4M472.24,474.6V566.4M476.36,474.6V566.4M480.48,474.6V566.4M484.6,474.6V566.4M488.72,474.6V566.4M492.84,474.6V566.4M496.96,474.6V566.4M501.08,474.6V566.4M505.2,474.6V566.4M509.32,474.6V566.4M513.44,474.6V566.4M517.56,474.6V566.4M521.68,474.6V566.4M525.8,474.6V566.4M529.92,474.6V566.4M431,566.4H530.5M431,562.73H530.5M431,559.06H530.5M431,555.38H530.5M431,551.71H530.5M431,548.04H530.5M431,544.37H530.5M431,540.7H530.5M431,537.02H530.5M431,533.35H530.5M431,529.68H530.5M431,526.01H530.5M431,522.34H530.5M431,518.66H530.5M431,514.99H530.5M431,511.32H530.5M431,507.65H530.5M431,503.98H530.5M431,500.3H530.5M431,496.63H530.5M431,492.96H530.5M431,489.29H530.5M431,485.62H530.5M431,481.94H530.5M431,478.27H530.5M431,474.6H530.5" stroke="#e4e4e4" stroke-width="0.8" fill="none"/>
<clipPath id="ch2"><rect x="427" y="470.6" width="107.5" height="99.8"/></clipPath>
<clipPath id="ch2L"><rect x="431" y="474.6" width="103.5" height="91.8"/></clipPath>
<line x1="434.6" y1="551.9" x2="473.2" y2="494.1" stroke="#a8a8a8" stroke-width="0.9"/>
<line x1="449.1" y1="559.1" x2="524.9" y2="517.4" stroke="#a8a8a8" stroke-width="0.9"/>
<g clip-path="url(#ch2L)">
<polyline points="435.67,425.58 448.55,522.89 474.3,539.04" fill="none" stroke="#3287c9" stroke-width="1.5" stroke-linejoin="round" stroke-dasharray="4.4 2.6"/>
<polyline points="435.67,492.41 448.55,518.11 474.3,531.7 525.8,542.35" fill="none" stroke="#3287c9" stroke-width="1.5" stroke-linejoin="round"/>
<polyline points="435.67,552.63 448.55,553.18 474.3,557.95 525.8,561.63" fill="none" stroke="#ecb84a" stroke-width="1.5" stroke-linejoin="round" stroke-dasharray="4.4 2.6"/>
<polyline points="435.67,553.03 448.55,558.28 474.3,562.18 525.8,564.2" fill="none" stroke="#ecb84a" stroke-width="1.5" stroke-linejoin="round"/>
<polyline points="435.67,555.79 448.55,559.35 474.3,563.1 525.8,563.1" fill="none" stroke="#5f8436" stroke-width="1.5" stroke-linejoin="round"/>
<polyline points="435.67,486.72 448.55,518.11 474.3,539.41 525.8,550.24" fill="none" stroke="#5f8436" stroke-width="1.5" stroke-linejoin="round" stroke-dasharray="4.4 2.6"/>
<polyline points="435.67,502.87 448.55,528.58 474.3,544.74 525.8,558.87" fill="none" stroke="#de5d70" stroke-width="1.5" stroke-linejoin="round" stroke-dasharray="4.4 2.6"/>
<polyline points="435.67,543.82 448.55,553.73 474.3,559.06 525.8,561.81" fill="none" stroke="#de5d70" stroke-width="1.5" stroke-linejoin="round"/>
<polyline points="435.67,558.28 448.55,560.07 474.3,561.63 525.8,562.36" fill="none" stroke="#9a4db2" stroke-width="1.5" stroke-linejoin="round"/>
</g><g clip-path="url(#ch2)">
<path d="M447.61,520.34h1.87v1.61h1.61v1.87h-1.61v1.61h-1.87v-1.61h-1.61v-1.87h1.61z" fill="#3287c9"/>
<path d="M473.36,536.49h1.87v1.61h1.61v1.87h-1.61v1.61h-1.87v-1.61h-1.61v-1.87h1.61z" fill="#3287c9"/>
<path d="M433.04,492.41L438.31,492.41M433.81,490.55L437.54,494.27M435.67,489.77L435.67,495.04M437.54,490.55L433.81,494.27" stroke="#3287c9" stroke-width="1.36" stroke-linecap="round"/>
<path d="M445.91,518.11L451.18,518.11M446.69,516.25L450.41,519.98M448.55,515.48L448.55,520.75M450.41,516.25L446.69,519.98" stroke="#3287c9" stroke-width="1.36" stroke-linecap="round"/>
<path d="M471.66,531.7L476.93,531.7M472.44,529.84L476.16,533.56M474.3,529.06L474.3,534.33M476.16,529.84L472.44,533.56" stroke="#3287c9" stroke-width="1.36" stroke-linecap="round"/>
<path d="M523.16,542.35L528.43,542.35M523.94,540.49L527.66,544.21M525.8,539.71L525.8,544.98M527.66,540.49L523.94,544.21" stroke="#3287c9" stroke-width="1.36" stroke-linecap="round"/>
<polygon points="435.67,555.43 438.39,550.67 432.95,550.67" fill="#ecb84a"/>
<polygon points="448.55,555.99 451.27,551.23 445.83,551.23" fill="#ecb84a"/>
<polygon points="474.3,560.76 477.02,556 471.58,556" fill="#ecb84a"/>
<polygon points="525.8,564.43 528.52,559.67 523.08,559.67" fill="#ecb84a"/>
<polygon points="435.67,550.23 438.39,554.99 432.95,554.99" fill="#ecb84a"/>
<polygon points="448.55,555.48 451.27,560.24 445.83,560.24" fill="#ecb84a"/>
<polygon points="474.3,559.37 477.02,564.13 471.58,564.13" fill="#ecb84a"/>
<polygon points="525.8,561.39 528.52,566.15 523.08,566.15" fill="#ecb84a"/>
<rect x="433.55" y="553.66" width="4.25" height="4.25" fill="#5f8436"/>
<rect x="446.42" y="557.22" width="4.25" height="4.25" fill="#5f8436"/>
<rect x="472.17" y="560.97" width="4.25" height="4.25" fill="#5f8436"/>
<rect x="523.67" y="560.97" width="4.25" height="4.25" fill="#5f8436"/>
<polygon points="435.67,483.83 438.56,486.72 435.67,489.61 432.78,486.72" fill="#5f8436"/>
<polygon points="448.55,515.22 451.44,518.11 448.55,521 445.66,518.11" fill="#5f8436"/>
<polygon points="474.3,536.52 477.19,539.41 474.3,542.3 471.41,539.41" fill="#5f8436"/>
<polygon points="525.8,547.35 528.69,550.24 525.8,553.13 522.91,550.24" fill="#5f8436"/>
<polygon points="435.67,505.42 433.47,504.15 433.47,501.6 435.67,500.32 437.88,501.6 437.88,504.15" fill="#de5d70"/>
<polygon points="448.55,531.13 446.34,529.85 446.34,527.3 448.55,526.03 450.76,527.3 450.76,529.85" fill="#de5d70"/>
<polygon points="474.3,547.29 472.09,546.01 472.09,543.46 474.3,542.19 476.51,543.46 476.51,546.01" fill="#de5d70"/>
<polygon points="525.8,561.42 523.59,560.15 523.59,557.6 525.8,556.32 528.01,557.6 528.01,560.15" fill="#de5d70"/>
<circle cx="435.67" cy="543.82" r="2.46" fill="#de5d70"/>
<circle cx="448.55" cy="553.73" r="2.46" fill="#de5d70"/>
<circle cx="474.3" cy="559.06" r="2.46" fill="#de5d70"/>
<circle cx="525.8" cy="561.81" r="2.46" fill="#de5d70"/>
<circle cx="435.67" cy="558.28" r="2.46" fill="#9a4db2"/>
<circle cx="448.55" cy="560.07" r="2.46" fill="#9a4db2"/>
<circle cx="474.3" cy="561.63" r="2.46" fill="#9a4db2"/>
<circle cx="525.8" cy="562.36" r="2.46" fill="#9a4db2"/>
</g>
<line x1="431" y1="474.6" x2="431" y2="566.4" stroke="#333" stroke-width="1"/>
<line x1="431" y1="566.4" x2="530.5" y2="566.4" stroke="#333" stroke-width="1"/>
<line x1="429.4" y1="566.4" x2="431" y2="566.4" stroke="#333" stroke-width="0.6"/>
<line x1="429.4" y1="562.73" x2="431" y2="562.73" stroke="#333" stroke-width="0.6"/>
<line x1="429.4" y1="559.06" x2="431" y2="559.06" stroke="#333" stroke-width="0.6"/>
<line x1="429.4" y1="555.38" x2="431" y2="555.38" stroke="#333" stroke-width="0.6"/>
<line x1="429.4" y1="551.71" x2="431" y2="551.71" stroke="#333" stroke-width="0.6"/>
<line x1="429.4" y1="548.04" x2="431" y2="548.04" stroke="#333" stroke-width="0.6"/>
<line x1="429.4" y1="544.37" x2="431" y2="544.37" stroke="#333" stroke-width="0.6"/>
<line x1="429.4" y1="540.7" x2="431" y2="540.7" stroke="#333" stroke-width="0.6"/>
<line x1="429.4" y1="537.02" x2="431" y2="537.02" stroke="#333" stroke-width="0.6"/>
<line x1="429.4" y1="533.35" x2="431" y2="533.35" stroke="#333" stroke-width="0.6"/>
<line x1="429.4" y1="529.68" x2="431" y2="529.68" stroke="#333" stroke-width="0.6"/>
<line x1="429.4" y1="526.01" x2="431" y2="526.01" stroke="#333" stroke-width="0.6"/>
<line x1="429.4" y1="522.34" x2="431" y2="522.34" stroke="#333" stroke-width="0.6"/>
<line x1="429.4" y1="518.66" x2="431" y2="518.66" stroke="#333" stroke-width="0.6"/>
<line x1="429.4" y1="514.99" x2="431" y2="514.99" stroke="#333" stroke-width="0.6"/>
<line x1="429.4" y1="511.32" x2="431" y2="511.32" stroke="#333" stroke-width="0.6"/>
<line x1="429.4" y1="507.65" x2="431" y2="507.65" stroke="#333" stroke-width="0.6"/>
<line x1="429.4" y1="503.98" x2="431" y2="503.98" stroke="#333" stroke-width="0.6"/>
<line x1="429.4" y1="500.3" x2="431" y2="500.3" stroke="#333" stroke-width="0.6"/>
<line x1="429.4" y1="496.63" x2="431" y2="496.63" stroke="#333" stroke-width="0.6"/>
<line x1="429.4" y1="492.96" x2="431" y2="492.96" stroke="#333" stroke-width="0.6"/>
<line x1="429.4" y1="489.29" x2="431" y2="489.29" stroke="#333" stroke-width="0.6"/>
<line x1="429.4" y1="485.62" x2="431" y2="485.62" stroke="#333" stroke-width="0.6"/>
<line x1="429.4" y1="481.94" x2="431" y2="481.94" stroke="#333" stroke-width="0.6"/>
<line x1="429.4" y1="478.27" x2="431" y2="478.27" stroke="#333" stroke-width="0.6"/>
<line x1="429.4" y1="474.6" x2="431" y2="474.6" stroke="#333" stroke-width="0.6"/>
<line x1="428.8" y1="566.4" x2="431" y2="566.4" stroke="#333" stroke-width="0.9"/>
<text x="423.67" y="569.4" font-size="8.7" textLength="5.03" lengthAdjust="spacingAndGlyphs">0</text>
<line x1="428.8" y1="548.04" x2="431" y2="548.04" stroke="#333" stroke-width="0.9"/>
<text x="418.65" y="551.04" font-size="8.7" textLength="10.05" lengthAdjust="spacingAndGlyphs">10</text>
<line x1="428.8" y1="529.68" x2="431" y2="529.68" stroke="#333" stroke-width="0.9"/>
<text x="418.65" y="532.68" font-size="8.7" textLength="10.05" lengthAdjust="spacingAndGlyphs">20</text>
<line x1="428.8" y1="511.32" x2="431" y2="511.32" stroke="#333" stroke-width="0.9"/>
<text x="418.65" y="514.32" font-size="8.7" textLength="10.05" lengthAdjust="spacingAndGlyphs">30</text>
<line x1="428.8" y1="492.96" x2="431" y2="492.96" stroke="#333" stroke-width="0.9"/>
<text x="418.65" y="495.96" font-size="8.7" textLength="10.05" lengthAdjust="spacingAndGlyphs">40</text>
<line x1="428.8" y1="474.6" x2="431" y2="474.6" stroke="#333" stroke-width="0.9"/>
<text x="418.65" y="477.6" font-size="8.7" textLength="10.05" lengthAdjust="spacingAndGlyphs">50</text>
<line x1="431.04" y1="566.4" x2="431.04" y2="568" stroke="#333" stroke-width="0.6"/>
<line x1="435.16" y1="566.4" x2="435.16" y2="568" stroke="#333" stroke-width="0.6"/>
<line x1="439.28" y1="566.4" x2="439.28" y2="568" stroke="#333" stroke-width="0.6"/>
<line x1="443.4" y1="566.4" x2="443.4" y2="569.4" stroke="#333" stroke-width="0.9"/>
<text x="437.04" y="577.3" font-size="8.7" textLength="12.72" lengthAdjust="spacingAndGlyphs">0.1</text>
<line x1="447.52" y1="566.4" x2="447.52" y2="568" stroke="#333" stroke-width="0.6"/>
<line x1="451.64" y1="566.4" x2="451.64" y2="568" stroke="#333" stroke-width="0.6"/>
<line x1="455.76" y1="566.4" x2="455.76" y2="568" stroke="#333" stroke-width="0.6"/>
<line x1="459.88" y1="566.4" x2="459.88" y2="568" stroke="#333" stroke-width="0.6"/>
<line x1="464" y1="566.4" x2="464" y2="569.4" stroke="#333" stroke-width="0.9"/>
<text x="457.64" y="577.3" font-size="8.7" textLength="12.72" lengthAdjust="spacingAndGlyphs">0.2</text>
<line x1="468.12" y1="566.4" x2="468.12" y2="568" stroke="#333" stroke-width="0.6"/>
<line x1="472.24" y1="566.4" x2="472.24" y2="568" stroke="#333" stroke-width="0.6"/>
<line x1="476.36" y1="566.4" x2="476.36" y2="568" stroke="#333" stroke-width="0.6"/>
<line x1="480.48" y1="566.4" x2="480.48" y2="568" stroke="#333" stroke-width="0.6"/>
<line x1="484.6" y1="566.4" x2="484.6" y2="569.4" stroke="#333" stroke-width="0.9"/>
<text x="478.24" y="577.3" font-size="8.7" textLength="12.72" lengthAdjust="spacingAndGlyphs">0.3</text>
<line x1="488.72" y1="566.4" x2="488.72" y2="568" stroke="#333" stroke-width="0.6"/>
<line x1="492.84" y1="566.4" x2="492.84" y2="568" stroke="#333" stroke-width="0.6"/>
<line x1="496.96" y1="566.4" x2="496.96" y2="568" stroke="#333" stroke-width="0.6"/>
<line x1="501.08" y1="566.4" x2="501.08" y2="568" stroke="#333" stroke-width="0.6"/>
<line x1="505.2" y1="566.4" x2="505.2" y2="569.4" stroke="#333" stroke-width="0.9"/>
<text x="498.84" y="577.3" font-size="8.7" textLength="12.72" lengthAdjust="spacingAndGlyphs">0.4</text>
<line x1="509.32" y1="566.4" x2="509.32" y2="568" stroke="#333" stroke-width="0.6"/>
<line x1="513.44" y1="566.4" x2="513.44" y2="568" stroke="#333" stroke-width="0.6"/>
<line x1="517.56" y1="566.4" x2="517.56" y2="568" stroke="#333" stroke-width="0.6"/>
<line x1="521.68" y1="566.4" x2="521.68" y2="568" stroke="#333" stroke-width="0.6"/>
<line x1="525.8" y1="566.4" x2="525.8" y2="569.4" stroke="#333" stroke-width="0.9"/>
<text x="519.44" y="577.3" font-size="8.7" textLength="12.72" lengthAdjust="spacingAndGlyphs">0.5</text>
<line x1="529.92" y1="566.4" x2="529.92" y2="568" stroke="#333" stroke-width="0.6"/>
<text x="450.71" y="593.3" font-size="7.4" textLength="48.59" lengthAdjust="spacingAndGlyphs">Bits Per Voxel</text>
<line x1="431" y1="598.1" x2="530.5" y2="598.1" stroke="#333" stroke-width="0.9"/>
<line x1="435.67" y1="598.1" x2="435.67" y2="600.6" stroke="#333" stroke-width="0.8"/>
<text x="428.29" y="607.6" font-size="7.4" textLength="13.17" lengthAdjust="spacingAndGlyphs">256</text>
<line x1="448.55" y1="598.1" x2="448.55" y2="600.6" stroke="#333" stroke-width="0.8"/>
<text x="442.96" y="607.6" font-size="7.4" textLength="13.17" lengthAdjust="spacingAndGlyphs">128</text>
<line x1="474.3" y1="598.1" x2="474.3" y2="600.6" stroke="#333" stroke-width="0.8"/>
<text x="469.91" y="607.6" font-size="7.4" textLength="8.78" lengthAdjust="spacingAndGlyphs">64</text>
<line x1="525.8" y1="598.1" x2="525.8" y2="600.6" stroke="#333" stroke-width="0.8"/>
<text x="521.41" y="607.6" font-size="7.4" textLength="8.78" lengthAdjust="spacingAndGlyphs">32</text>
<text x="442.16" y="618.5" font-size="7.3" textLength="64.68" lengthAdjust="spacingAndGlyphs">Compression Ratio</text>
<g transform="rotate(-90 413.9 523.6)"><text x="399.8" y="523.6" font-size="8.8" textLength="21.25" lengthAdjust="spacingAndGlyphs">HD95</text><path d="M424.52,517.44V523.28 M422.76,521.14L424.52,523.78L426.28,521.14" fill="none" stroke="#000" stroke-width="0.79" stroke-linecap="round" stroke-linejoin="round"/></g>
<rect x="434.9" y="552.7" width="14.4" height="8" fill="none" stroke="#aaa" stroke-width="0.7"/>
<rect x="473.2" y="476.1" width="51.7" height="40.5" fill="#fff"/>
<path d="M473.35,476.1V516.6M477.05,476.1V516.6M480.74,476.1V516.6M484.44,476.1V516.6M488.14,476.1V516.6M491.84,476.1V516.6M495.54,476.1V516.6M499.23,476.1V516.6M502.93,476.1V516.6M506.63,476.1V516.6M510.33,476.1V516.6M514.03,476.1V516.6M517.73,476.1V516.6M521.42,476.1V516.6M473.2,513.67H524.9M473.2,508.95H524.9M473.2,504.23H524.9M473.2,499.51H524.9M473.2,494.79H524.9M473.2,490.07H524.9M473.2,485.35H524.9M473.2,480.63H524.9" stroke="#e6e6e6" stroke-width="0.7" fill="none"/>
<polyline points="475.2,477.99 521.42,504.99" fill="none" stroke="#ecb84a" stroke-width="1.6" stroke-linejoin="round"/>
<polygon points="475.2,474.85 478.24,480.17 472.16,480.17" fill="#ecb84a"/>
<polygon points="521.42,501.85 524.46,507.17 518.38,507.17" fill="#ecb84a"/>
<polyline points="475.2,492.15 521.42,510.46" fill="none" stroke="#5f8436" stroke-width="1.6" stroke-linejoin="round"/>
<rect x="472.82" y="489.77" width="4.75" height="4.75" fill="#5f8436"/>
<rect x="519.05" y="508.09" width="4.75" height="4.75" fill="#5f8436"/>
<polyline points="475.2,504.99 521.42,514.15" fill="none" stroke="#9a4db2" stroke-width="1.6" stroke-linejoin="round"/>
<circle cx="475.2" cy="504.99" r="2.75" fill="#9a4db2"/>
<circle cx="521.42" cy="514.15" r="2.75" fill="#9a4db2"/>
<rect x="473.2" y="476.1" width="51.7" height="40.5" fill="none" stroke="#222" stroke-width="1.1"/>
<line x1="471.2" y1="508.95" x2="473.2" y2="508.95" stroke="#333" stroke-width="0.7"/>
<text x="466.89" y="510.85" font-size="5.2" textLength="3.31" lengthAdjust="spacingAndGlyphs">4</text>
<line x1="471.2" y1="490.07" x2="473.2" y2="490.07" stroke="#333" stroke-width="0.7"/>
<text x="466.89" y="491.97" font-size="5.2" textLength="3.31" lengthAdjust="spacingAndGlyphs">6</text>
<line x1="473.35" y1="516.6" x2="473.35" y2="517.9" stroke="#333" stroke-width="0.5"/>
<line x1="477.05" y1="516.6" x2="477.05" y2="517.9" stroke="#333" stroke-width="0.5"/>
<line x1="480.74" y1="516.6" x2="480.74" y2="517.9" stroke="#333" stroke-width="0.5"/>
<line x1="484.44" y1="516.6" x2="484.44" y2="517.9" stroke="#333" stroke-width="0.5"/>
<line x1="488.14" y1="516.6" x2="488.14" y2="517.9" stroke="#333" stroke-width="0.5"/>
<line x1="491.84" y1="516.6" x2="491.84" y2="517.9" stroke="#333" stroke-width="0.5"/>
<line x1="495.54" y1="516.6" x2="495.54" y2="517.9" stroke="#333" stroke-width="0.5"/>
<line x1="499.23" y1="516.6" x2="499.23" y2="517.9" stroke="#333" stroke-width="0.5"/>
<line x1="502.93" y1="516.6" x2="502.93" y2="517.9" stroke="#333" stroke-width="0.5"/>
<line x1="506.63" y1="516.6" x2="506.63" y2="517.9" stroke="#333" stroke-width="0.5"/>
<line x1="510.33" y1="516.6" x2="510.33" y2="517.9" stroke="#333" stroke-width="0.5"/>
<line x1="514.03" y1="516.6" x2="514.03" y2="517.9" stroke="#333" stroke-width="0.5"/>
<line x1="517.73" y1="516.6" x2="517.73" y2="517.9" stroke="#333" stroke-width="0.5"/>
<line x1="521.42" y1="516.6" x2="521.42" y2="517.9" stroke="#333" stroke-width="0.5"/>
<line x1="484.44" y1="516.6" x2="484.44" y2="518.6" stroke="#333" stroke-width="0.7"/>
<text x="477" y="524.4" font-size="5.2" textLength="14.89" lengthAdjust="spacingAndGlyphs">0.075</text>
<line x1="502.93" y1="516.6" x2="502.93" y2="518.6" stroke="#333" stroke-width="0.7"/>
<text x="495.49" y="524.4" font-size="5.2" textLength="14.89" lengthAdjust="spacingAndGlyphs">0.100</text>
<line x1="521.42" y1="516.6" x2="521.42" y2="518.6" stroke="#333" stroke-width="0.7"/>
<text x="513.98" y="524.4" font-size="5.2" textLength="14.89" lengthAdjust="spacingAndGlyphs">0.125</text>
<text x="538" y="470.3" font-size="15.2" font-weight="bold" textLength="4.22" lengthAdjust="spacingAndGlyphs">i</text>
<path d="M588.36,474.6V566.4M592.48,474.6V566.4M596.6,474.6V566.4M600.72,474.6V566.4M604.84,474.6V566.4M608.96,474.6V566.4M613.08,474.6V566.4M617.2,474.6V566.4M621.32,474.6V566.4M625.44,474.6V566.4M629.56,474.6V566.4M633.68,474.6V566.4M637.8,474.6V566.4M641.92,474.6V566.4M646.04,474.6V566.4M650.16,474.6V566.4M654.28,474.6V566.4M658.4,474.6V566.4M662.52,474.6V566.4M666.64,474.6V566.4M670.76,474.6V566.4M674.88,474.6V566.4M679,474.6V566.4M683.12,474.6V566.4M584.3,566.4H683.8M584.3,560.87H683.8M584.3,557.64H683.8M584.3,555.35H683.8M584.3,553.57H683.8M584.3,552.11H683.8M584.3,550.88H683.8M584.3,549.82H683.8M584.3,548.88H683.8M584.3,548.04H683.8M584.3,542.51H683.8M584.3,539.28H683.8M584.3,536.99H683.8M584.3,535.21H683.8M584.3,533.75H683.8M584.3,532.52H683.8M584.3,531.46H683.8M584.3,530.52H683.8M584.3,529.68H683.8M584.3,524.15H683.8M584.3,520.92H683.8M584.3,518.63H683.8M584.3,516.85H683.8M584.3,515.39H683.8M584.3,514.16H683.8M584.3,513.1H683.8M584.3,512.16H683.8M584.3,511.32H683.8M584.3,505.79H683.8M584.3,502.56H683.8M584.3,500.27H683.8M584.3,498.49H683.8M584.3,497.03H683.8M584.3,495.8H683.8M584.3,494.74H683.8M584.3,493.8H683.8M584.3,492.96H683.8M584.3,487.43H683.8M584.3,484.2H683.8M584.3,481.91H683.8M584.3,480.13H683.8M584.3,478.67H683.8M584.3,477.44H683.8M584.3,476.38H683.8M584.3,475.44H683.8M584.3,474.6H683.8" stroke="#e4e4e4" stroke-width="0.8" fill="none"/>
<clipPath id="ci"><rect x="580.3" y="470.6" width="107.5" height="99.8"/></clipPath>
<clipPath id="ciL"><rect x="584.3" y="474.6" width="103.5" height="91.8"/></clipPath>
<g clip-path="url(#ciL)">
<polyline points="588.88,488.19 601.75,488.19 627.5,488.19" fill="none" stroke="#3287c9" stroke-width="1.5" stroke-linejoin="round" stroke-dasharray="4.4 2.6"/>
<polyline points="588.88,507.83 601.75,507.83 627.5,507.83 679,507.83" fill="none" stroke="#3287c9" stroke-width="1.5" stroke-linejoin="round"/>
<polyline points="588.88,497.73 601.75,500.07 627.5,502.97 679,505.4" fill="none" stroke="#ecb84a" stroke-width="1.5" stroke-linejoin="round" stroke-dasharray="4.4 2.6"/>
<polyline points="588.88,543.95 601.75,546.32 627.5,549.01 679,551.6" fill="none" stroke="#ecb84a" stroke-width="1.5" stroke-linejoin="round"/>
<polyline points="588.88,549.53 601.75,552.66 627.5,556.64 679,560.33" fill="none" stroke="#5f8436" stroke-width="1.5" stroke-linejoin="round"/>
<polyline points="588.88,516.69 601.75,518.63 627.5,523.84 679,527.05" fill="none" stroke="#5f8436" stroke-width="1.5" stroke-linejoin="round" stroke-dasharray="4.4 2.6"/>
<polyline points="588.88,531.07 601.75,531.07 627.5,531.07 679,531.07" fill="none" stroke="#de5d70" stroke-width="1.5" stroke-linejoin="round" stroke-dasharray="4.4 2.6"/>
<polyline points="588.88,520.41 601.75,520.41 627.5,520.41 679,520.41" fill="none" stroke="#de5d70" stroke-width="1.5" stroke-linejoin="round"/>
<polyline points="588.88,520.41 601.75,520.41 627.5,520.41 679,520.41" fill="none" stroke="#9a4db2" stroke-width="1.5" stroke-linejoin="round"/>
</g><g clip-path="url(#ci)">
<path d="M587.94,485.64h1.87v1.61h1.61v1.87h-1.61v1.61h-1.87v-1.61h-1.61v-1.87h1.61z" fill="#3287c9"/>
<path d="M600.82,485.64h1.87v1.61h1.61v1.87h-1.61v1.61h-1.87v-1.61h-1.61v-1.87h1.61z" fill="#3287c9"/>
<path d="M626.57,485.64h1.87v1.61h1.61v1.87h-1.61v1.61h-1.87v-1.61h-1.61v-1.87h1.61z" fill="#3287c9"/>
<path d="M586.24,507.83L591.51,507.83M587.01,505.96L590.74,509.69M588.88,505.19L588.88,510.46M590.74,505.96L587.01,509.69" stroke="#3287c9" stroke-width="1.36" stroke-linecap="round"/>
<path d="M599.12,507.83L604.38,507.83M599.89,505.96L603.61,509.69M601.75,505.19L601.75,510.46M603.61,505.96L599.89,509.69" stroke="#3287c9" stroke-width="1.36" stroke-linecap="round"/>
<path d="M624.87,507.83L630.13,507.83M625.64,505.96L629.36,509.69M627.5,505.19L627.5,510.46M629.36,505.96L625.64,509.69" stroke="#3287c9" stroke-width="1.36" stroke-linecap="round"/>
<path d="M676.37,507.83L681.63,507.83M677.14,505.96L680.86,509.69M679,505.19L679,510.46M680.86,505.96L677.14,509.69" stroke="#3287c9" stroke-width="1.36" stroke-linecap="round"/>
<polygon points="588.88,500.53 591.6,495.77 586.15,495.77" fill="#ecb84a"/>
<polygon points="601.75,502.87 604.47,498.11 599.03,498.11" fill="#ecb84a"/>
<polygon points="627.5,505.77 630.22,501.01 624.78,501.01" fill="#ecb84a"/>
<polygon points="679,508.21 681.72,503.45 676.28,503.45" fill="#ecb84a"/>
<polygon points="588.88,541.15 591.6,545.91 586.15,545.91" fill="#ecb84a"/>
<polygon points="601.75,543.52 604.47,548.28 599.03,548.28" fill="#ecb84a"/>
<polygon points="627.5,546.21 630.22,550.97 624.78,550.97" fill="#ecb84a"/>
<polygon points="679,548.79 681.72,553.55 676.28,553.55" fill="#ecb84a"/>
<rect x="586.75" y="547.4" width="4.25" height="4.25" fill="#5f8436"/>
<rect x="599.62" y="550.54" width="4.25" height="4.25" fill="#5f8436"/>
<rect x="625.38" y="554.52" width="4.25" height="4.25" fill="#5f8436"/>
<rect x="676.88" y="558.21" width="4.25" height="4.25" fill="#5f8436"/>
<polygon points="588.88,513.8 591.76,516.69 588.88,519.58 585.99,516.69" fill="#5f8436"/>
<polygon points="601.75,515.74 604.64,518.63 601.75,521.52 598.86,518.63" fill="#5f8436"/>
<polygon points="627.5,520.95 630.39,523.84 627.5,526.73 624.61,523.84" fill="#5f8436"/>
<polygon points="679,524.16 681.89,527.05 679,529.94 676.11,527.05" fill="#5f8436"/>
<polygon points="588.88,533.62 586.67,532.35 586.67,529.8 588.88,528.52 591.08,529.8 591.08,532.35" fill="#de5d70"/>
<polygon points="601.75,533.62 599.54,532.35 599.54,529.8 601.75,528.52 603.96,529.8 603.96,532.35" fill="#de5d70"/>
<polygon points="627.5,533.62 625.29,532.35 625.29,529.8 627.5,528.52 629.71,529.8 629.71,532.35" fill="#de5d70"/>
<polygon points="679,533.62 676.79,532.35 676.79,529.8 679,528.52 681.21,529.8 681.21,532.35" fill="#de5d70"/>
<circle cx="588.88" cy="520.41" r="2.46" fill="#de5d70"/>
<circle cx="601.75" cy="520.41" r="2.46" fill="#de5d70"/>
<circle cx="627.5" cy="520.41" r="2.46" fill="#de5d70"/>
<circle cx="679" cy="520.41" r="2.46" fill="#de5d70"/>
<circle cx="588.88" cy="520.41" r="2.46" fill="#9a4db2"/>
<circle cx="601.75" cy="520.41" r="2.46" fill="#9a4db2"/>
<circle cx="627.5" cy="520.41" r="2.46" fill="#9a4db2"/>
<circle cx="679" cy="520.41" r="2.46" fill="#9a4db2"/>
</g>
<line x1="584.3" y1="474.6" x2="584.3" y2="566.4" stroke="#333" stroke-width="1"/>
<line x1="584.3" y1="566.4" x2="683.8" y2="566.4" stroke="#333" stroke-width="1"/>
<line x1="582.7" y1="566.4" x2="584.3" y2="566.4" stroke="#333" stroke-width="0.6"/>
<line x1="582.7" y1="560.87" x2="584.3" y2="560.87" stroke="#333" stroke-width="0.6"/>
<line x1="582.7" y1="557.64" x2="584.3" y2="557.64" stroke="#333" stroke-width="0.6"/>
<line x1="582.7" y1="555.35" x2="584.3" y2="555.35" stroke="#333" stroke-width="0.6"/>
<line x1="582.7" y1="553.57" x2="584.3" y2="553.57" stroke="#333" stroke-width="0.6"/>
<line x1="582.7" y1="552.11" x2="584.3" y2="552.11" stroke="#333" stroke-width="0.6"/>
<line x1="582.7" y1="550.88" x2="584.3" y2="550.88" stroke="#333" stroke-width="0.6"/>
<line x1="582.7" y1="549.82" x2="584.3" y2="549.82" stroke="#333" stroke-width="0.6"/>
<line x1="582.7" y1="548.88" x2="584.3" y2="548.88" stroke="#333" stroke-width="0.6"/>
<line x1="582.7" y1="548.04" x2="584.3" y2="548.04" stroke="#333" stroke-width="0.6"/>
<line x1="582.7" y1="542.51" x2="584.3" y2="542.51" stroke="#333" stroke-width="0.6"/>
<line x1="582.7" y1="539.28" x2="584.3" y2="539.28" stroke="#333" stroke-width="0.6"/>
<line x1="582.7" y1="536.99" x2="584.3" y2="536.99" stroke="#333" stroke-width="0.6"/>
<line x1="582.7" y1="535.21" x2="584.3" y2="535.21" stroke="#333" stroke-width="0.6"/>
<line x1="582.7" y1="533.75" x2="584.3" y2="533.75" stroke="#333" stroke-width="0.6"/>
<line x1="582.7" y1="532.52" x2="584.3" y2="532.52" stroke="#333" stroke-width="0.6"/>
<line x1="582.7" y1="531.46" x2="584.3" y2="531.46" stroke="#333" stroke-width="0.6"/>
<line x1="582.7" y1="530.52" x2="584.3" y2="530.52" stroke="#333" stroke-width="0.6"/>
<line x1="582.7" y1="529.68" x2="584.3" y2="529.68" stroke="#333" stroke-width="0.6"/>
<line x1="582.7" y1="524.15" x2="584.3" y2="524.15" stroke="#333" stroke-width="0.6"/>
<line x1="582.7" y1="520.92" x2="584.3" y2="520.92" stroke="#333" stroke-width="0.6"/>
<line x1="582.7" y1="518.63" x2="584.3" y2="518.63" stroke="#333" stroke-width="0.6"/>
<line x1="582.7" y1="516.85" x2="584.3" y2="516.85" stroke="#333" stroke-width="0.6"/>
<line x1="582.7" y1="515.39" x2="584.3" y2="515.39" stroke="#333" stroke-width="0.6"/>
<line x1="582.7" y1="514.16" x2="584.3" y2="514.16" stroke="#333" stroke-width="0.6"/>
<line x1="582.7" y1="513.1" x2="584.3" y2="513.1" stroke="#333" stroke-width="0.6"/>
<line x1="582.7" y1="512.16" x2="584.3" y2="512.16" stroke="#333" stroke-width="0.6"/>
<line x1="582.7" y1="511.32" x2="584.3" y2="511.32" stroke="#333" stroke-width="0.6"/>
<line x1="582.7" y1="505.79" x2="584.3" y2="505.79" stroke="#333" stroke-width="0.6"/>
<line x1="582.7" y1="502.56" x2="584.3" y2="502.56" stroke="#333" stroke-width="0.6"/>
<line x1="582.7" y1="500.27" x2="584.3" y2="500.27" stroke="#333" stroke-width="0.6"/>
<line x1="582.7" y1="498.49" x2="584.3" y2="498.49" stroke="#333" stroke-width="0.6"/>
<line x1="582.7" y1="497.03" x2="584.3" y2="497.03" stroke="#333" stroke-width="0.6"/>
<line x1="582.7" y1="495.8" x2="584.3" y2="495.8" stroke="#333" stroke-width="0.6"/>
<line x1="582.7" y1="494.74" x2="584.3" y2="494.74" stroke="#333" stroke-width="0.6"/>
<line x1="582.7" y1="493.8" x2="584.3" y2="493.8" stroke="#333" stroke-width="0.6"/>
<line x1="582.7" y1="492.96" x2="584.3" y2="492.96" stroke="#333" stroke-width="0.6"/>
<line x1="582.7" y1="487.43" x2="584.3" y2="487.43" stroke="#333" stroke-width="0.6"/>
<line x1="582.7" y1="484.2" x2="584.3" y2="484.2" stroke="#333" stroke-width="0.6"/>
<line x1="582.7" y1="481.91" x2="584.3" y2="481.91" stroke="#333" stroke-width="0.6"/>
<line x1="582.7" y1="480.13" x2="584.3" y2="480.13" stroke="#333" stroke-width="0.6"/>
<line x1="582.7" y1="478.67" x2="584.3" y2="478.67" stroke="#333" stroke-width="0.6"/>
<line x1="582.7" y1="477.44" x2="584.3" y2="477.44" stroke="#333" stroke-width="0.6"/>
<line x1="582.7" y1="476.38" x2="584.3" y2="476.38" stroke="#333" stroke-width="0.6"/>
<line x1="582.7" y1="475.44" x2="584.3" y2="475.44" stroke="#333" stroke-width="0.6"/>
<line x1="582.7" y1="474.6" x2="584.3" y2="474.6" stroke="#333" stroke-width="0.6"/>
<line x1="582.1" y1="566.4" x2="584.3" y2="566.4" stroke="#333" stroke-width="0.9"/>
<text x="563.69" y="570" font-size="9" textLength="10.01" lengthAdjust="spacingAndGlyphs">10</text>
<text x="574" y="566.4" font-size="6.4" textLength="7.3" lengthAdjust="spacingAndGlyphs">−2</text>
<line x1="582.1" y1="548.04" x2="584.3" y2="548.04" stroke="#333" stroke-width="0.9"/>
<text x="563.69" y="551.64" font-size="9" textLength="10.01" lengthAdjust="spacingAndGlyphs">10</text>
<text x="574" y="548.04" font-size="6.4" textLength="7.3" lengthAdjust="spacingAndGlyphs">−1</text>
<line x1="582.1" y1="529.68" x2="584.3" y2="529.68" stroke="#333" stroke-width="0.9"/>
<text x="567.43" y="533.28" font-size="9" textLength="10.01" lengthAdjust="spacingAndGlyphs">10</text>
<text x="577.74" y="529.68" font-size="6.4" textLength="3.56" lengthAdjust="spacingAndGlyphs">0</text>
<line x1="582.1" y1="511.32" x2="584.3" y2="511.32" stroke="#333" stroke-width="0.9"/>
<text x="567.43" y="514.92" font-size="9" textLength="10.01" lengthAdjust="spacingAndGlyphs">10</text>
<text x="577.74" y="511.32" font-size="6.4" textLength="3.56" lengthAdjust="spacingAndGlyphs">1</text>
<line x1="582.1" y1="492.96" x2="584.3" y2="492.96" stroke="#333" stroke-width="0.9"/>
<text x="567.43" y="496.56" font-size="9" textLength="10.01" lengthAdjust="spacingAndGlyphs">10</text>
<text x="577.74" y="492.96" font-size="6.4" textLength="3.56" lengthAdjust="spacingAndGlyphs">2</text>
<line x1="582.1" y1="474.6" x2="584.3" y2="474.6" stroke="#333" stroke-width="0.9"/>
<text x="567.43" y="478.2" font-size="9" textLength="10.01" lengthAdjust="spacingAndGlyphs">10</text>
<text x="577.74" y="474.6" font-size="6.4" textLength="3.56" lengthAdjust="spacingAndGlyphs">3</text>
<line x1="584.24" y1="566.4" x2="584.24" y2="568" stroke="#333" stroke-width="0.6"/>
<line x1="588.36" y1="566.4" x2="588.36" y2="568" stroke="#333" stroke-width="0.6"/>
<line x1="592.48" y1="566.4" x2="592.48" y2="568" stroke="#333" stroke-width="0.6"/>
<line x1="596.6" y1="566.4" x2="596.6" y2="569.4" stroke="#333" stroke-width="0.9"/>
<text x="590.24" y="577.3" font-size="8.7" textLength="12.72" lengthAdjust="spacingAndGlyphs">0.1</text>
<line x1="600.72" y1="566.4" x2="600.72" y2="568" stroke="#333" stroke-width="0.6"/>
<line x1="604.84" y1="566.4" x2="604.84" y2="568" stroke="#333" stroke-width="0.6"/>
<line x1="608.96" y1="566.4" x2="608.96" y2="568" stroke="#333" stroke-width="0.6"/>
<line x1="613.08" y1="566.4" x2="613.08" y2="568" stroke="#333" stroke-width="0.6"/>
<line x1="617.2" y1="566.4" x2="617.2" y2="569.4" stroke="#333" stroke-width="0.9"/>
<text x="610.84" y="577.3" font-size="8.7" textLength="12.72" lengthAdjust="spacingAndGlyphs">0.2</text>
<line x1="621.32" y1="566.4" x2="621.32" y2="568" stroke="#333" stroke-width="0.6"/>
<line x1="625.44" y1="566.4" x2="625.44" y2="568" stroke="#333" stroke-width="0.6"/>
<line x1="629.56" y1="566.4" x2="629.56" y2="568" stroke="#333" stroke-width="0.6"/>
<line x1="633.68" y1="566.4" x2="633.68" y2="568" stroke="#333" stroke-width="0.6"/>
<line x1="637.8" y1="566.4" x2="637.8" y2="569.4" stroke="#333" stroke-width="0.9"/>
<text x="631.44" y="577.3" font-size="8.7" textLength="12.72" lengthAdjust="spacingAndGlyphs">0.3</text>
<line x1="641.92" y1="566.4" x2="641.92" y2="568" stroke="#333" stroke-width="0.6"/>
<line x1="646.04" y1="566.4" x2="646.04" y2="568" stroke="#333" stroke-width="0.6"/>
<line x1="650.16" y1="566.4" x2="650.16" y2="568" stroke="#333" stroke-width="0.6"/>
<line x1="654.28" y1="566.4" x2="654.28" y2="568" stroke="#333" stroke-width="0.6"/>
<line x1="658.4" y1="566.4" x2="658.4" y2="569.4" stroke="#333" stroke-width="0.9"/>
<text x="652.04" y="577.3" font-size="8.7" textLength="12.72" lengthAdjust="spacingAndGlyphs">0.4</text>
<line x1="662.52" y1="566.4" x2="662.52" y2="568" stroke="#333" stroke-width="0.6"/>
<line x1="666.64" y1="566.4" x2="666.64" y2="568" stroke="#333" stroke-width="0.6"/>
<line x1="670.76" y1="566.4" x2="670.76" y2="568" stroke="#333" stroke-width="0.6"/>
<line x1="674.88" y1="566.4" x2="674.88" y2="568" stroke="#333" stroke-width="0.6"/>
<line x1="679" y1="566.4" x2="679" y2="569.4" stroke="#333" stroke-width="0.9"/>
<text x="672.64" y="577.3" font-size="8.7" textLength="12.72" lengthAdjust="spacingAndGlyphs">0.5</text>
<line x1="683.12" y1="566.4" x2="683.12" y2="568" stroke="#333" stroke-width="0.6"/>
<text x="604.01" y="593.3" font-size="7.4" textLength="48.59" lengthAdjust="spacingAndGlyphs">Bits Per Voxel</text>
<line x1="584.3" y1="598.1" x2="683.8" y2="598.1" stroke="#333" stroke-width="0.9"/>
<line x1="588.88" y1="598.1" x2="588.88" y2="600.6" stroke="#333" stroke-width="0.8"/>
<text x="581.49" y="607.6" font-size="7.4" textLength="13.17" lengthAdjust="spacingAndGlyphs">256</text>
<line x1="601.75" y1="598.1" x2="601.75" y2="600.6" stroke="#333" stroke-width="0.8"/>
<text x="596.16" y="607.6" font-size="7.4" textLength="13.17" lengthAdjust="spacingAndGlyphs">128</text>
<line x1="627.5" y1="598.1" x2="627.5" y2="600.6" stroke="#333" stroke-width="0.8"/>
<text x="623.11" y="607.6" font-size="7.4" textLength="8.78" lengthAdjust="spacingAndGlyphs">64</text>
<line x1="679" y1="598.1" x2="679" y2="600.6" stroke="#333" stroke-width="0.8"/>
<text x="674.61" y="607.6" font-size="7.4" textLength="8.78" lengthAdjust="spacingAndGlyphs">32</text>
<text x="595.46" y="618.5" font-size="7.3" textLength="64.68" lengthAdjust="spacingAndGlyphs">Compression Ratio</text>
<g transform="rotate(-90 552.3 521)"><text x="507.03" y="521" font-size="7.9" textLength="84.43" lengthAdjust="spacingAndGlyphs">Encoding Speed (MB/s)</text><path d="M594.52,521.16V515.97 M592.94,517.84L594.52,515.47L596.1,517.84" fill="none" stroke="#000" stroke-width="0.71" stroke-linecap="round" stroke-linejoin="round"/></g>
<g transform="rotate(-90 559.6 520.6)"><text x="539.25" y="520.6" font-size="7.9" textLength="40.7" lengthAdjust="spacingAndGlyphs">(Log Scale)</text></g>
<rect x="129.4" y="625.4" width="443" height="12.2" fill="#fff" stroke="#d6d6d6" stroke-width="0.8" rx="2"/>
<line x1="131.6" y1="631.3" x2="145.6" y2="631.3" stroke="#3287c9" stroke-width="1.5"/>
<path d="M137.78,629.05h1.65v1.42h1.42v1.65h-1.42v1.42h-1.65v-1.42h-1.42v-1.65h1.42z" fill="#3287c9"/>
<text x="150" y="634" font-size="7.4" textLength="15.44" lengthAdjust="spacingAndGlyphs">JPEG</text>
<line x1="174.6" y1="631.3" x2="188.6" y2="631.3" stroke="#3287c9" stroke-width="1.5"/>
<path d="M179.28,631.3L183.92,631.3M179.96,629.66L183.24,632.94M181.6,628.97L181.6,633.62M183.24,629.66L179.96,632.94" stroke="#3287c9" stroke-width="1.2" stroke-linecap="round"/>
<text x="196.6" y="634" font-size="7.4" textLength="32.49" lengthAdjust="spacingAndGlyphs">JPEG2000</text>
<line x1="242.6" y1="631.3" x2="256.6" y2="631.3" stroke="#ecb84a" stroke-width="1.5"/>
<polygon points="249.6,633.77 252,629.57 247.2,629.57" fill="#ecb84a"/>
<text x="261.6" y="634" font-size="7.4" textLength="18.53" lengthAdjust="spacingAndGlyphs">HEVC</text>
<line x1="292.3" y1="631.3" x2="306.3" y2="631.3" stroke="#ecb84a" stroke-width="1.5"/>
<polygon points="299.3,628.82 301.7,633.02 296.9,633.02" fill="#ecb84a"/>
<text x="311.5" y="634" font-size="7.4" textLength="13.84" lengthAdjust="spacingAndGlyphs">VVC</text>
<line x1="337.8" y1="631.3" x2="351.8" y2="631.3" stroke="#5f8436" stroke-width="1.5"/>
<rect x="342.93" y="629.42" width="3.75" height="3.75" fill="#5f8436"/>
<text x="357.4" y="634" font-size="7.4" textLength="19.31" lengthAdjust="spacingAndGlyphs">BRIEF</text>
<line x1="389.5" y1="631.3" x2="403.5" y2="631.3" stroke="#5f8436" stroke-width="1.5"/>
<polygon points="396.5,628.75 399.05,631.3 396.5,633.85 393.95,631.3" fill="#5f8436"/>
<text x="408.5" y="634" font-size="7.4" textLength="18.87" lengthAdjust="spacingAndGlyphs">3DGS</text>
<line x1="440.2" y1="631.3" x2="454.2" y2="631.3" stroke="#de5d70" stroke-width="1.5"/>
<polygon points="447.2,633.55 445.25,632.42 445.25,630.17 447.2,629.05 449.15,630.17 449.15,632.42" fill="#de5d70"/>
<text x="458.6" y="634" font-size="7.4" textLength="14.3" lengthAdjust="spacingAndGlyphs">DVC</text>
<line x1="485.5" y1="631.3" x2="499.5" y2="631.3" stroke="#de5d70" stroke-width="1.5"/>
<circle cx="492.5" cy="631.3" r="2.17" fill="#de5d70"/>
<text x="504.5" y="634" font-size="7.4" textLength="14.16" lengthAdjust="spacingAndGlyphs">TCM</text>
<line x1="530.7" y1="631.3" x2="544.7" y2="631.3" stroke="#9a4db2" stroke-width="1.5"/>
<circle cx="537.7" cy="631.3" r="2.17" fill="#9a4db2"/>
<text x="550.3" y="634" font-size="7.4" textLength="19.09" lengthAdjust="spacingAndGlyphs">OURS</text></svg></body></html>
